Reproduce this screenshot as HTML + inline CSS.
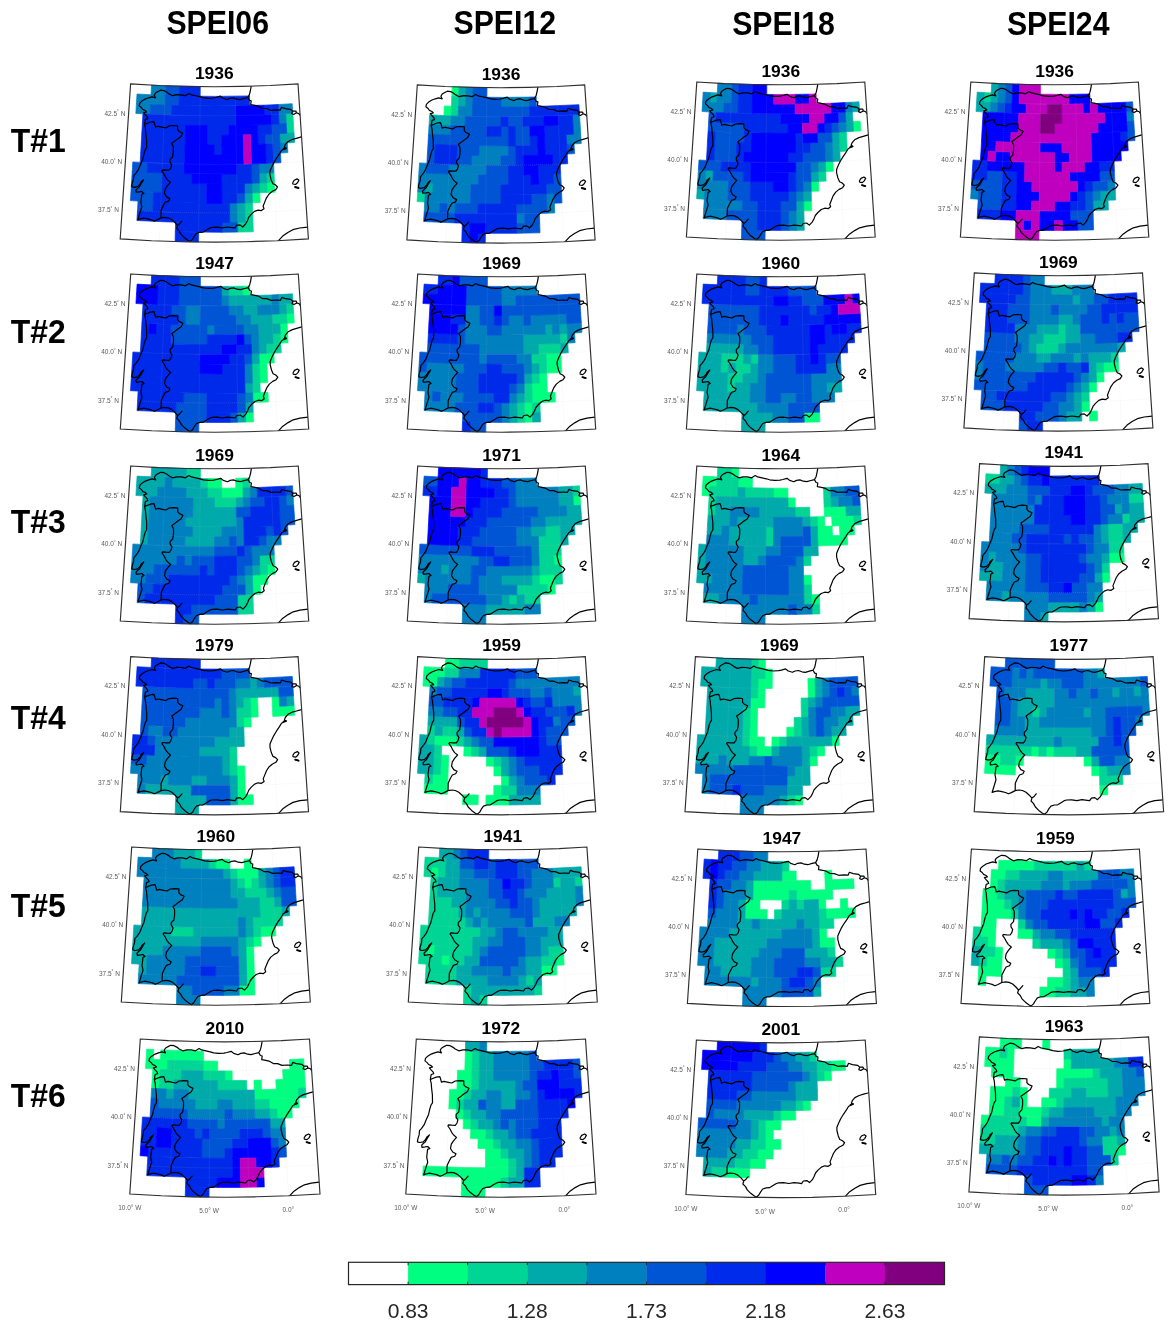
<!DOCTYPE html>
<html><head><meta charset="utf-8"><title>SPEI</title>
<style>html,body{margin:0;padding:0;background:#fff}svg{display:block;will-change:transform}text{font-family:"Liberation Sans",sans-serif}.tk{font-size:6.5px;fill:#333}.ti{font-size:17.4px;font-weight:bold;fill:#000}.hd{font-size:33px;font-weight:bold;fill:#000}.cb{font-size:21px;fill:#262626}</style></head><body>
<svg width="1174" height="1329" viewBox="0 0 1174 1329">
<defs><filter id="bl" x="-5%" y="-5%" width="110%" height="110%"><feGaussianBlur stdDeviation="0.6"/></filter></defs>
<text x="217.7" y="34" class="hd" text-anchor="middle" textLength="102.6" lengthAdjust="spacingAndGlyphs">SPEI06</text>
<text x="504.8" y="34" class="hd" text-anchor="middle" textLength="102.6" lengthAdjust="spacingAndGlyphs">SPEI12</text>
<text x="783.5" y="35" class="hd" text-anchor="middle" textLength="102.6" lengthAdjust="spacingAndGlyphs">SPEI18</text>
<text x="1058.2" y="35" class="hd" text-anchor="middle" textLength="102.6" lengthAdjust="spacingAndGlyphs">SPEI24</text>
<text x="38.3" y="152" class="hd" text-anchor="middle" textLength="55" lengthAdjust="spacingAndGlyphs">T#1</text>
<text x="38.3" y="342.8" class="hd" text-anchor="middle" textLength="55" lengthAdjust="spacingAndGlyphs">T#2</text>
<text x="38.3" y="533.4" class="hd" text-anchor="middle" textLength="55" lengthAdjust="spacingAndGlyphs">T#3</text>
<text x="38.3" y="729" class="hd" text-anchor="middle" textLength="55" lengthAdjust="spacingAndGlyphs">T#4</text>
<text x="38.3" y="916.8" class="hd" text-anchor="middle" textLength="55" lengthAdjust="spacingAndGlyphs">T#5</text>
<text x="38.3" y="1107" class="hd" text-anchor="middle" textLength="55" lengthAdjust="spacingAndGlyphs">T#6</text>
<g><g filter="url(#bl)">
<path fill="#00ff80" stroke="#00ff80" stroke-width=".7" d="M266.9 182.8 274.5 182.5 274.9 192.2 267.3 192.5ZM252.2 193 259.8 192.7 260.1 202.4 252.4 202.7Z"/>
<path fill="#00d595" stroke="#00d595" stroke-width=".7" d="M285.7 113.8 292.8 113.4 293.4 123.1 286.2 123.5ZM286.2 123.5 293.4 123.1 294 132.8 286.8 133.2ZM266.6 173.1 274 172.8 274.5 182.5 266.9 182.8ZM259.4 183 266.9 182.8 267.3 192.5 259.8 192.7ZM244.8 202.9 252.4 202.7 252.7 212.4 245 212.6ZM245 212.6 252.7 212.4 253 222.1 245.3 222.3ZM237.5 222.4 253 222.1 253.3 231.8 237.7 232.1Z"/>
<path fill="#00aaaa" stroke="#00aaaa" stroke-width=".7" d="M279.5 133.6 294 132.8 294.6 142.5 280 143.3ZM259.1 173.3 266.6 173.1 266.9 182.8 259.4 183ZM251.9 183.3 259.4 183 259.8 192.7 252.2 193ZM244.6 193.2 252.2 193 252.4 202.7 244.8 202.9ZM237.2 203 244.8 202.9 245 212.6 237.4 212.7ZM237.4 212.7 245 212.6 245.3 222.3 237.5 222.4Z"/>
<path fill="#0080bf" stroke="#0080bf" stroke-width=".7" d="M151.5 85.1 165.5 85.8 165.1 95.5 151 94.8ZM137 94 165.1 95.5 164.7 105.2 136.4 103.7ZM136.4 103.7 150.5 104.5 150 114.2 135.8 113.4ZM278.1 104.5 292.2 103.7 292.8 113.4 278.6 114.2ZM278.6 114.2 285.7 113.8 286.2 123.5 279 123.9ZM280 143.3 287.3 142.9 287.9 152.6 280.5 153ZM258.8 163.6 273.6 163.1 274 172.8 259.1 173.3ZM244.4 183.5 251.9 183.3 252.2 193 244.6 193.2ZM229.6 203.1 237.2 203 237.4 212.7 229.7 212.8ZM229.7 212.8 237.4 212.7 237.5 222.4 229.8 222.5Z"/>
<path fill="#0055d5" stroke="#0055d5" stroke-width=".7" d="M165.5 85.8 179.4 86.2 179.1 95.9 165.1 95.5ZM165.1 95.5 179.1 95.9 178.9 105.6 164.7 105.2ZM150.5 104.5 171.8 105.4 171.5 115.1 150 114.2ZM271.9 124.3 286.2 123.5 286.8 133.2 272.3 134ZM265 134.3 279.5 133.6 280 143.3 265.4 144ZM272.7 143.7 280 143.3 280.5 153 273.2 153.4ZM273.2 153.4 280.5 153 281 162.7 273.6 163.1ZM132.8 161.9 147.6 162.7 147.1 172.4 132.2 171.6ZM251.4 163.9 258.8 163.6 259.1 173.3 251.6 173.6ZM132.2 171.6 162 173.1 161.7 182.8 131.6 181.3ZM251.6 173.6 259.1 173.3 259.4 183 251.9 183.3ZM131.6 181.3 161.7 182.8 161.3 192.5 131 190.9ZM131 190.9 153.7 192.2 153.3 201.9 130.4 200.6ZM237 193.3 244.6 193.2 244.8 202.9 237.2 203ZM138 201.1 153.3 201.9 152.8 211.6 137.5 210.8ZM222 222.6 237.5 222.4 237.7 232.1 222.1 232.3Z"/>
<path fill="#002bea" stroke="#002bea" stroke-width=".7" d="M179.4 86.2 200.3 86.6 200.2 96.3 179.1 95.9ZM179.1 95.9 214.3 96.4 249.5 95.9 249.7 105.6 214.3 106.1 178.9 105.6ZM171.8 105.4 203.7 106.1 235.6 105.9 235.7 115.7 203.6 115.8 171.5 115.1ZM263.9 105.2 278.1 104.5 278.6 114.2 264.3 114.9ZM142.9 113.8 173.8 115.2 204.8 115.8 235.7 115.7 235.9 125.4 204.7 125.5 173.5 124.9 142.4 123.5ZM271.4 114.6 278.6 114.2 279 123.9 271.9 124.3ZM142.4 123.5 185.5 125.2 185.3 134.9 141.8 133.2ZM207.1 125.5 228.7 125.5 228.8 135.2 207 135.2ZM257.5 124.8 271.9 124.3 272.3 134 257.8 134.5ZM141.8 133.2 185.3 134.9 185.1 144.6 141.3 142.9ZM207 135.2 221.6 135.2 221.6 144.9 207 144.9ZM257.8 134.5 265 134.3 265.4 144 258.1 144.2ZM141.3 142.9 185.1 144.6 184.9 154.3 140.7 152.6ZM214.3 145 221.6 144.9 221.7 154.6 214.3 154.7ZM265.4 144 272.7 143.7 273.2 153.4 265.8 153.7ZM140.7 152.6 184.9 154.3 184.6 164 140.2 162.3ZM265.8 153.7 273.2 153.4 273.6 163.1 266.2 163.4ZM147.6 162.7 184.6 164 184.4 173.8 147.1 172.4ZM236.5 164.2 251.4 163.9 251.6 173.6 236.7 173.9ZM162 173.1 191.9 173.9 191.7 183.6 161.7 182.8ZM221.8 174.1 251.6 173.6 251.9 183.3 221.8 183.8ZM161.7 182.8 206.8 183.8 206.7 193.5 161.3 192.5ZM221.8 183.8 244.4 183.5 244.6 193.2 221.9 193.5ZM153.7 192.2 206.7 193.5 206.7 203.2 153.3 201.9ZM221.9 193.5 237 193.3 237.2 203 221.9 203.2ZM153.3 201.9 191.4 203 229.6 203.1 229.7 212.8 191.2 212.7 152.8 211.6ZM137.5 210.8 168.2 212.2 198.9 212.8 229.7 212.8 229.8 222.5 198.8 222.5 167.9 221.9 136.9 220.5ZM175.6 222.1 222 222.6 222.1 232.3 175.3 231.8ZM175.3 231.8 198.7 232.3 198.6 242 175.1 241.5Z"/>
<path fill="#0000ff" stroke="#0000ff" stroke-width=".7" d="M235.6 105.9 263.9 105.2 264.3 114.9 235.7 115.7ZM235.7 115.7 271.4 114.6 271.9 124.3 235.9 125.4ZM185.5 125.2 207.1 125.5 207 135.2 185.3 134.9ZM228.7 125.5 257.5 124.8 257.8 134.5 228.8 135.2ZM185.3 134.9 207 135.2 207 144.9 185.1 144.6ZM221.6 135.2 243.3 134.9 243.5 144.6 221.6 144.9ZM250.6 134.7 257.8 134.5 258.1 144.2 250.8 144.5ZM185.1 144.6 214.3 145 214.3 154.7 184.9 154.3ZM221.6 144.9 243.5 144.6 243.7 154.3 221.7 154.6ZM250.8 144.5 265.4 144 265.8 153.7 251.1 154.2ZM184.9 154.3 214.3 154.7 243.7 154.3 244 164 214.3 164.4 184.6 164ZM251.1 154.2 265.8 153.7 266.2 163.4 251.4 163.9ZM184.6 164 236.5 164.2 236.7 173.9 184.4 173.8ZM191.9 173.9 221.8 174.1 221.8 183.8 191.7 183.6ZM206.8 183.8 221.8 183.8 221.9 193.5 206.7 193.5ZM206.7 193.5 221.9 193.5 221.9 203.2 206.7 203.2Z"/>
<path fill="#bf00bf" stroke="#bf00bf" stroke-width=".7" d="M243.3 134.9 250.6 134.7 250.8 144.5 243.5 144.6ZM243.5 144.6 250.8 144.5 251.1 154.2 243.7 154.3ZM243.7 154.3 251.1 154.2 251.4 163.9 244 164Z"/>
</g>
<path d="M165.5 85.8 159.4 241M200.3 86.6 198.6 242M235.2 86.5 237.8 241.9M270.1 85.5 277.1 240.7M122.2 209.8 152.8 211.6 183.6 212.6 214.3 212.9 245 212.6 275.8 211.6 306.4 209.8M125.4 161.4 155 163.1 184.6 164 214.3 164.4 244 164 273.6 163.1 303.2 161.4M128.7 113 157.2 114.6 185.7 115.5 214.3 115.8 242.9 115.5 271.4 114.6 299.9 113" fill="none" stroke="#c8c8c8" stroke-opacity=".3" stroke-width=".6" stroke-dasharray="1 1"/>
<path d="M247.8 97.5 244.3 98.4 240.1 99.6 236.7 99.1 233.3 97.8 229.9 98.3 227.3 99.6 223 98.3 220.5 96.2 216.3 97.4 213.5 98 208.2 98.3 203.2 97.7 199.8 96.7 194.6 95.5 191.3 94.8 188.8 93.4 185.3 95.7 181 94.8 176.8 94.7 172.5 95.7 169.1 93.9 166.6 92 164 90.6 160.6 90.2 158.1 91.5 155.5 93.1 154.2 95.2 155.5 97.8 152 96.8 148.6 97.8 145.3 99 141.9 101.1 139.7 103.3 139.2 105.8 141.4 107.5 142.7 109.4 145.2 110.5 146.6 111.9 143.5 112.7 145.3 114.7 147.3 117 147.8 118.6 145.3 119.4 144.9 122.1 144.5 124.6 145.3 128 145.8 133.1 146.6 139.9 146.6 147.7 145.2 149.9 143.9 154.3 142.7 159.3 140.5 164.5 138.4 169.6 135.8 173.3 133.8 175.6 133.4 179.8 132 184 131.7 186.7 134.1 187.4 137.5 186.7 140 184.1 140.9 182 143.6 179.8 140.9 184.1 139.3 187 137.5 188.4 135.9 190.1 136.2 192.2 139.3 191.8 141.8 191.4 143.9 193.4 141.8 194.3 141.4 197.8 140.9 202 141.8 207.1 140.5 211.3 139.2 215.5 137.9 219.8 140.1 218.9 143.9 218.1 147.7 218.9 151.2 219.8 154.1 221.1 157.1 219.9 160.9 217.9 164.8 217.3 168.2 217.8 171.7 219.5 175 222.5 177.5 225.4 179.3 224.1 181.8 221.1 179.3 224.1 177.5 225.4 176.7 228.3 179.3 230.9 181 234.3 184.4 237.7 187.8 240.2 190 241.6 192.5 239.4 194.1 236.5 196.4 233.4 199.8 232.3 203.1 232.1 206.5 230 209.9 227.9 212 227.3 217.1 227.1 222.2 227.9 227.3 227 232.5 227.6 235 227.9 236.6 225.4 240 224.9 242.7 227 245.6 224 247.4 220.7 248.7 217.4 251.2 214.4 254.5 211.4 258 210.1 261.4 210.6 264 208.7 263.1 206.2 264.8 201.9 266.5 197.8 269.1 194 272.4 191.3 275.8 189.6 277.5 187 275.5 184.9 272.9 183.7 271.2 179.9 269.9 174.7 269.9 171.4 271.7 167 273.7 162.9 276.3 158.5 279.2 154.2 281.4 150.6 283.6 149.3 285.7 148.1 284.3 147.4 285.2 144.8 287.8 141.7 292.1 139.5 296.4 138.3 300.5 137.1 301.5 136.6M247.8 97.5 249.5 100.4 251.2 100.9 250.7 104.6 253.7 105.1 258 106 262.2 108.5 266.5 108.5 270.8 110.3 275.9 109.9 280.2 110.2 281.5 107.3 285.3 108.6 290.4 109.3 292.5 111.1 291.7 113.7 293.7 114.5 296.4 112.8 296 111.1 292.5 111.1 296 111.1 296.4 112.8 298.8 113.6 300.1 115.5M247.8 97.5 249.4 94.6 250.3 91 251.2 86.2M144.5 124.6 146.1 123.7 150.4 122 153.8 121.6 154.6 123.8 155.5 127.1 158.1 126.3 162.2 127.2 165.7 127.9 169.1 125.9 173.4 125.5 177.6 125.8 177.6 129.7 179.3 131.5 182.7 133.1 181 136.6 177.6 139 174.2 141.6 171.7 143.3 173.3 146.7 173.3 151.9 172.6 156.9 170 159.6 170 162.1 171.7 164.7 170.9 167.9 169.2 170.2 165.7 170.1 162.3 169.8 161.8 170.9 163.9 173.9 165.8 177.5 167.5 179.9 170.4 182.3 167.4 185.7 165.2 189.1 164.4 193.4 166.6 196.9 169.9 198.6 168.6 201.1 165.2 202.3 163 206.1 161 210.5 160.9 217.9M278.5 240.6 282.7 236.1 287.8 232.5 292.9 229.7 299.7 228 307.6 227.1M292.6 182.9 294.2 180.3 297.2 178.9 298.9 180.2 297.5 182.8 295.5 184.5 292.9 184 292.6 182.9M295.1 187 298.5 188" fill="none" stroke="#000" stroke-width="1.2" stroke-linejoin="round"/>
<path d="M295.1 187 298.5 188M283.5 149 285.9 148.3" fill="none" stroke="#000" stroke-width="1.9" stroke-linecap="round"/>
<path d="M130.6 83.9 158.5 85.5 186.4 86.4 214.3 86.7 242.2 86.4 270.1 85.5 298 83.9 308.4 238.9 277.1 240.7 245.7 241.7 214.3 242.1 182.9 241.7 151.5 240.7 120.2 238.9Z" fill="none" stroke="#2e2e2e" stroke-width="1.15"/>
<g opacity=".82">
<text x="125.4" y="115.6" class="tk" text-anchor="end">42.5<tspan dy="-2.2" font-size="4.5">°</tspan><tspan dy="2.2"> N</tspan></text>
<text x="122.1" y="164" class="tk" text-anchor="end">40.0<tspan dy="-2.2" font-size="4.5">°</tspan><tspan dy="2.2"> N</tspan></text>
<text x="118.9" y="212.4" class="tk" text-anchor="end">37.5<tspan dy="-2.2" font-size="4.5">°</tspan><tspan dy="2.2"> N</tspan></text>
</g>
<text x="214.3" y="78.7" class="ti" text-anchor="middle">1936</text></g>
<g><g filter="url(#bl)">
<path fill="#00ff80" stroke="#00ff80" stroke-width=".7" d="M452.2 86.8 459.1 87 458.8 96.7 451.8 96.5ZM444.3 105.9 451.4 106.2 451 115.9 443.9 115.6Z"/>
<path fill="#00d595" stroke="#00d595" stroke-width=".7" d="M451.8 96.5 458.8 96.7 458.5 106.4 451.4 106.2ZM451.4 106.2 458.5 106.4 458.2 116.1 451 115.9ZM417.7 191.9 425.3 192.4 424.7 202.1 417.1 201.6Z"/>
<path fill="#00aaaa" stroke="#00aaaa" stroke-width=".7" d="M459.1 87 466.1 87.2 465.8 96.9 458.8 96.7ZM458.8 96.7 465.8 96.9 465.6 106.6 458.5 106.4ZM429.6 114.8 451 115.9 450.6 125.6 429.1 124.5ZM425.8 182.7 433.3 183.1 432.8 192.8 425.3 192.4Z"/>
<path fill="#0080bf" stroke="#0080bf" stroke-width=".7" d="M466.1 87.2 473.1 87.4 472.9 97.1 465.8 96.9ZM465.8 96.9 472.9 97.1 472.6 106.8 465.6 106.6ZM501 97.4 529.1 97.1 529.4 106.8 501 107.1ZM458.5 106.4 472.6 106.8 472.4 116.5 458.2 116.1ZM451 115.9 465.3 116.3 465 126 450.6 125.6ZM572.4 114.8 579.5 114.4 580.1 124.1 572.9 124.5ZM429.1 124.5 450.6 125.6 450.3 135.3 428.5 134.2ZM572.9 124.5 580.1 124.1 580.7 133.8 573.5 134.2ZM566.2 134.6 580.7 133.8 581.3 143.5 566.7 144.3ZM479.1 145.8 508.3 145.9 508.4 155.6 478.9 155.5ZM471.6 155.3 501 155.7 501 165.4 471.3 165ZM419.5 162.9 426.9 163.3 426.4 173 418.9 172.6ZM449.1 164.4 486.2 165.3 486.1 175 448.7 174.1ZM418.9 172.6 448.7 174.1 478.6 174.9 478.4 184.6 448.4 183.8 418.3 182.3ZM418.3 182.3 425.8 182.7 425.3 192.4 417.7 191.9ZM433.3 183.1 470.9 184.5 470.7 194.2 432.8 192.8ZM425.3 192.4 470.7 194.2 470.5 203.9 424.7 202.1ZM546.5 193.7 554 193.5 554.4 203.2 546.8 203.4ZM424.7 202.1 440 202.9 439.5 212.6 424.2 211.8ZM447.6 203.2 455.2 203.4 454.9 213.2 447.2 212.9ZM546.8 203.4 554.4 203.2 554.8 212.9 547.1 213.2ZM516.4 213.8 524.1 213.7 524.2 223.4 516.5 223.5Z"/>
<path fill="#0055d5" stroke="#0055d5" stroke-width=".7" d="M473.1 87.4 487 87.6 486.9 97.3 472.9 97.1ZM472.9 97.1 501 97.4 501 107.1 472.6 106.8ZM529.1 97.1 536.2 96.9 536.4 106.6 529.4 106.8ZM472.6 106.8 501 107.1 529.4 106.8 529.6 116.5 501 116.8 472.4 116.5ZM465.3 116.3 501 116.8 501 126.5 465 126ZM508.1 116.8 522.4 116.7 522.6 126.4 508.2 126.5ZM450.6 125.6 486.6 126.5 486.5 136.2 450.3 135.3ZM501 126.5 508.2 126.5 508.3 136.2 501 136.3ZM515.4 126.5 529.8 126.2 530 135.9 515.5 136.2ZM428.5 134.2 468.4 135.8 508.3 136.2 508.3 145.9 468.1 145.5 428 143.9ZM515.5 136.2 530 135.9 530.2 145.6 515.6 145.9ZM428 143.9 435.3 144.3 434.8 154 427.4 153.6ZM457.2 145.2 479.1 145.8 478.9 155.5 456.9 154.9ZM508.3 145.9 515.6 145.9 515.7 155.6 508.4 155.6ZM566.7 144.3 574 143.9 574.6 153.6 567.2 154ZM427.4 153.6 434.8 154 434.3 163.7 426.9 163.3ZM456.9 154.9 471.6 155.3 471.3 165 456.5 164.6ZM501 155.7 515.7 155.6 515.8 165.3 501 165.4ZM426.9 163.3 449.1 164.4 448.7 174.1 426.4 173ZM486.2 165.3 508.4 165.4 508.5 175.1 486.1 175ZM478.6 174.9 508.5 175.1 508.5 184.8 478.4 184.6ZM553.3 174.1 560.7 173.8 561.2 183.5 553.6 183.8ZM470.9 184.5 501 184.8 501 194.5 470.7 194.2ZM546.1 184 561.2 183.5 561.6 193.2 546.5 193.7ZM470.7 194.2 501 194.5 501 204.2 470.5 203.9ZM531.3 194.2 546.5 193.7 546.8 203.4 531.5 203.9ZM554 193.5 561.6 193.2 562 202.9 554.4 203.2ZM440 202.9 447.6 203.2 447.2 212.9 439.5 212.6ZM455.2 203.4 478.1 204 477.9 213.7 454.9 213.2ZM516.3 204.1 546.8 203.4 547.1 213.2 516.4 213.8ZM424.2 211.8 454.9 213.2 454.6 222.9 423.6 221.5ZM524.1 213.7 539.4 213.4 539.7 223.1 524.2 223.4ZM516.5 223.5 539.7 223.1 540 232.8 516.6 233.3Z"/>
<path fill="#002bea" stroke="#002bea" stroke-width=".7" d="M529.4 106.8 578.9 104.7 579.5 114.4 529.6 116.5ZM501 116.8 508.1 116.8 508.2 126.5 501 126.5ZM522.4 116.7 543.8 116.1 544.2 125.8 522.6 126.4ZM558.1 115.6 572.4 114.8 572.9 124.5 558.6 125.3ZM486.6 126.5 501 126.5 501 136.3 486.5 136.2ZM508.2 126.5 515.4 126.5 515.5 136.2 508.3 136.2ZM544.2 125.8 572.9 124.5 573.5 134.2 544.5 135.5ZM508.3 136.2 515.5 136.2 515.6 145.9 508.3 145.9ZM530 135.9 537.3 135.7 537.5 145.5 530.2 145.6ZM544.5 135.5 566.2 134.6 566.7 144.3 544.8 145.2ZM435.3 144.3 457.2 145.2 456.9 154.9 434.8 154ZM515.6 145.9 537.5 145.5 537.8 155.2 515.7 155.6ZM544.8 145.2 566.7 144.3 567.2 154 545.1 154.9ZM434.8 154 456.9 154.9 456.5 164.6 434.3 163.7ZM515.7 155.6 523.1 155.5 523.2 165.2 515.8 165.3ZM552.5 154.7 567.2 154 567.7 163.7 552.9 164.4ZM508.4 165.4 523.2 165.2 523.4 174.9 508.5 175.1ZM538.1 164.9 560.3 164.1 560.7 173.8 538.3 174.6ZM508.5 175.1 530.9 174.8 531.1 184.5 508.5 184.8ZM538.3 174.6 553.3 174.1 553.6 183.8 538.6 184.3ZM501 184.8 546.1 184 546.5 193.7 501 194.5ZM501 194.5 531.3 194.2 531.5 203.9 501 204.2ZM478.1 204 516.3 204.1 516.4 213.8 477.9 213.7ZM454.9 213.2 485.6 213.8 516.4 213.8 516.5 223.5 485.5 223.5 454.6 222.9ZM462.3 223.1 470 223.3 469.8 233 462 232.8ZM485.5 223.5 516.5 223.5 516.6 233.3 485.4 233.3ZM462 232.8 469.8 233 469.6 242.7 461.8 242.5ZM477.6 233.1 485.4 233.3 485.3 243 477.5 242.9Z"/>
<path fill="#0000ff" stroke="#0000ff" stroke-width=".7" d="M543.8 116.1 558.1 115.6 558.6 125.3 544.2 125.8ZM529.8 126.2 544.2 125.8 544.5 135.5 530 135.9ZM537.3 135.7 544.5 135.5 544.8 145.2 537.5 145.5ZM537.5 145.5 544.8 145.2 545.1 154.9 537.8 155.2ZM523.1 155.5 552.5 154.7 552.9 164.4 523.2 165.2ZM523.2 165.2 538.1 164.9 538.3 174.6 523.4 174.9ZM530.9 174.8 538.3 174.6 538.6 184.3 531.1 184.5ZM470 223.3 485.5 223.5 485.4 233.3 469.8 233ZM469.8 233 477.6 233.1 477.5 242.9 469.6 242.7Z"/>
</g>
<path d="M452.2 86.8 446.1 242M487 87.6 485.3 243M521.9 87.5 524.5 242.9M556.8 86.5 563.8 241.7M408.9 210.8 439.5 212.6 470.3 213.6 501 213.9 531.7 213.6 562.5 212.6 593.1 210.8M412.1 162.4 441.7 164.1 471.3 165 501 165.4 530.7 165 560.3 164.1 589.9 162.4M415.4 114 443.9 115.6 472.4 116.5 501 116.8 529.6 116.5 558.1 115.6 586.6 114" fill="none" stroke="#c8c8c8" stroke-opacity=".3" stroke-width=".6" stroke-dasharray="1 1"/>
<path d="M534.5 98.5 531 99.4 526.8 100.6 523.4 100.1 520 98.8 516.6 99.3 514 100.6 509.7 99.3 507.2 97.2 503 98.4 500.2 99 494.9 99.3 489.9 98.7 486.5 97.7 481.3 96.5 478 95.8 475.5 94.4 472 96.7 467.7 95.8 463.5 95.7 459.2 96.7 455.8 94.9 453.3 93 450.7 91.6 447.3 91.2 444.8 92.5 442.2 94.1 440.9 96.2 442.2 98.8 438.7 97.8 435.3 98.8 432 100 428.6 102.1 426.4 104.3 425.9 106.8 428.1 108.5 429.4 110.4 431.9 111.5 433.3 112.9 430.2 113.7 432 115.7 434 118 434.5 119.6 432 120.4 431.6 123.1 431.2 125.6 432 129 432.5 134.1 433.3 140.9 433.3 148.7 431.9 150.9 430.6 155.3 429.4 160.3 427.2 165.5 425.1 170.6 422.5 174.3 420.5 176.6 420.1 180.8 418.7 185 418.4 187.7 420.8 188.4 424.2 187.7 426.7 185.1 427.6 183 430.3 180.8 427.6 185.1 426 188 424.2 189.4 422.6 191.1 422.9 193.2 426 192.8 428.5 192.4 430.6 194.4 428.5 195.3 428.1 198.8 427.6 203 428.5 208.1 427.2 212.3 425.9 216.5 424.6 220.8 426.8 219.9 430.6 219.1 434.4 219.9 437.9 220.8 440.8 222.1 443.8 220.9 447.6 218.9 451.5 218.3 454.9 218.8 458.4 220.5 461.7 223.5 464.2 226.4 466 225.1 468.5 222.1 466 225.1 464.2 226.4 463.4 229.3 466 231.9 467.7 235.3 471.1 238.7 474.5 241.2 476.7 242.6 479.2 240.4 480.8 237.5 483.1 234.4 486.5 233.3 489.8 233.1 493.2 231 496.6 228.9 498.7 228.3 503.8 228.1 508.9 228.9 514 228 519.2 228.6 521.7 228.9 523.3 226.4 526.7 225.9 529.4 228 532.3 225 534.1 221.7 535.4 218.4 537.9 215.4 541.2 212.4 544.7 211.1 548.1 211.6 550.7 209.7 549.8 207.2 551.5 202.9 553.2 198.8 555.8 195 559.1 192.3 562.5 190.6 564.2 188 562.2 185.9 559.6 184.7 557.9 180.9 556.6 175.7 556.6 172.4 558.4 168 560.4 163.9 563 159.5 565.9 155.2 568.1 151.6 570.3 150.3 572.4 149.1 571 148.4 571.9 145.8 574.5 142.7 578.8 140.5 583.1 139.3 587.2 138.1 588.2 137.6M534.5 98.5 536.2 101.4 537.9 101.9 537.4 105.6 540.4 106.1 544.7 107 548.9 109.5 553.2 109.5 557.5 111.3 562.6 110.9 566.9 111.2 568.2 108.3 572 109.6 577.1 110.3 579.2 112.1 578.4 114.7 580.4 115.5 583.1 113.8 582.7 112.1 579.2 112.1 582.7 112.1 583.1 113.8 585.5 114.6 586.8 116.5M534.5 98.5 536.1 95.6 537 92 537.9 87.2M431.2 125.6 432.8 124.7 437.1 123 440.5 122.6 441.3 124.8 442.2 128.1 444.8 127.3 448.9 128.2 452.4 128.9 455.8 126.9 460.1 126.5 464.3 126.8 464.3 130.7 466 132.5 469.4 134.1 467.7 137.6 464.3 140 460.9 142.6 458.4 144.3 460 147.7 460 152.9 459.3 157.9 456.7 160.6 456.7 163.1 458.4 165.7 457.6 168.9 455.9 171.2 452.4 171.1 449 170.8 448.5 171.9 450.6 174.9 452.5 178.5 454.2 180.9 457.1 183.3 454.1 186.7 451.9 190.1 451.1 194.4 453.3 197.9 456.6 199.6 455.3 202.1 451.9 203.3 449.7 207.1 447.7 211.5 447.6 218.9M565.2 241.6 569.4 237.1 574.5 233.5 579.6 230.7 586.4 229 594.3 228.1M579.3 183.9 580.9 181.3 583.9 179.9 585.6 181.2 584.2 183.8 582.2 185.5 579.6 185 579.3 183.9M581.8 188 585.2 189" fill="none" stroke="#000" stroke-width="1.2" stroke-linejoin="round"/>
<path d="M581.8 188 585.2 189M570.2 150 572.6 149.3" fill="none" stroke="#000" stroke-width="1.9" stroke-linecap="round"/>
<path d="M417.3 84.9 445.2 86.5 473.1 87.4 501 87.7 528.9 87.4 556.8 86.5 584.7 84.9 595.1 239.9 563.8 241.7 532.4 242.7 501 243.1 469.6 242.7 438.2 241.7 406.9 239.9Z" fill="none" stroke="#2e2e2e" stroke-width="1.15"/>
<g opacity=".82">
<text x="412.1" y="116.6" class="tk" text-anchor="end">42.5<tspan dy="-2.2" font-size="4.5">°</tspan><tspan dy="2.2"> N</tspan></text>
<text x="408.8" y="165" class="tk" text-anchor="end">40.0<tspan dy="-2.2" font-size="4.5">°</tspan><tspan dy="2.2"> N</tspan></text>
<text x="405.6" y="213.4" class="tk" text-anchor="end">37.5<tspan dy="-2.2" font-size="4.5">°</tspan><tspan dy="2.2"> N</tspan></text>
</g>
<text x="501" y="79.7" class="ti" text-anchor="middle">1936</text></g>
<g><g filter="url(#bl)">
<path fill="#00ff80" stroke="#00ff80" stroke-width=".7" d="M853 121.6 860.2 121.2 860.8 130.9 853.5 131.3ZM825.4 161.7 832.9 161.5 833.3 171.2 825.8 171.4ZM811 181.6 818.5 181.4 818.8 191.1 811.2 191.3ZM803.8 201.1 811.4 201 811.6 210.7 803.9 210.8Z"/>
<path fill="#00d595" stroke="#00d595" stroke-width=".7" d="M839 132.1 846.3 131.7 846.8 141.4 839.4 141.8ZM839.4 141.8 846.8 141.4 847.2 151.1 839.9 151.5ZM818.3 171.7 825.8 171.4 826.1 181.1 818.5 181.4Z"/>
<path fill="#00aaaa" stroke="#00aaaa" stroke-width=".7" d="M710.2 92.6 717.3 92.9 716.8 102.6 709.7 102.2ZM851.9 102.2 859 101.8 859.6 111.5 852.4 111.9ZM845.3 112.3 852.4 111.9 853 121.6 845.8 122ZM845.8 122 853 121.6 853.5 131.3 846.3 131.7ZM831.7 132.4 839 132.1 839.4 141.8 832.1 142.1ZM832.1 142.1 839.4 141.8 839.9 151.5 832.5 151.8ZM832.5 151.8 839.9 151.5 840.3 161.2 832.9 161.5ZM818 162 825.4 161.7 825.8 171.4 818.3 171.7ZM705.9 170.1 713.4 170.5 712.9 180.2 705.3 179.8ZM810.8 171.9 818.3 171.7 818.5 181.4 811 181.6ZM697.2 189 704.8 189.5 704.3 199.2 696.6 198.7ZM803.6 191.4 811.2 191.3 811.4 201 803.8 201.1ZM796.1 201.2 803.8 201.1 803.9 210.8 796.2 210.9ZM796.2 210.9 803.9 210.8 804.1 220.5 796.3 220.6ZM796.3 220.6 804.1 220.5 804.3 230.2 796.4 230.4Z"/>
<path fill="#0080bf" stroke="#0080bf" stroke-width=".7" d="M717.8 83.2 731.8 83.9 731.4 93.6 717.3 92.9ZM703.2 92.1 710.2 92.6 709.7 102.2 702.6 101.8ZM717.3 92.9 731.4 93.6 731 103.3 716.8 102.6ZM702.6 101.8 723.9 103 723.5 112.7 702 111.5ZM844.8 102.6 851.9 102.2 852.4 111.9 845.3 112.3ZM838.6 122.4 845.8 122 846.3 131.7 839 132.1ZM824.8 142.3 832.1 142.1 832.5 151.8 825.1 152ZM825.1 152 832.5 151.8 832.9 161.5 825.4 161.7ZM810.6 162.1 818 162 818.3 171.7 810.8 171.9ZM698.4 169.7 705.9 170.1 705.3 179.8 697.8 179.4ZM697.8 179.4 728 180.9 727.6 190.6 697.2 189ZM803.4 181.7 811 181.6 811.2 191.3 803.6 191.4ZM704.8 189.5 727.6 190.6 727.2 200.3 704.3 199.2ZM796 191.5 803.6 191.4 803.8 201.1 796.1 201.2ZM704.3 199.2 742.5 200.8 742.2 210.5 703.7 208.9ZM703.7 208.9 726.8 210 726.4 219.7 703.2 218.6ZM788.5 211 796.2 210.9 796.3 220.6 788.6 220.7ZM788.6 220.7 796.3 220.6 796.4 230.4 788.6 230.4Z"/>
<path fill="#0055d5" stroke="#0055d5" stroke-width=".7" d="M731.8 83.9 738.8 84.1 738.5 93.8 731.4 93.6ZM731.4 93.6 738.5 93.8 738.1 103.5 731 103.3ZM723.9 103 738.1 103.5 737.8 113.2 723.5 112.7ZM709.2 111.9 716.3 112.3 715.8 122 708.6 121.6ZM838.1 112.7 845.3 112.3 845.8 122 838.6 122.4ZM708.6 121.6 744.7 123.1 744.4 132.8 708.1 131.3ZM831.3 122.7 838.6 122.4 839 132.1 831.7 132.4ZM715.3 131.7 744.4 132.8 744.1 142.6 714.8 141.4ZM817.2 132.8 831.7 132.4 832.1 142.1 817.5 142.6ZM714.8 141.4 736.8 142.3 736.5 152 714.4 151.1ZM810.1 142.7 824.8 142.3 825.1 152 810.3 152.4ZM714.4 151.1 736.5 152 736.2 161.7 713.9 160.8ZM803 152.6 825.1 152 825.4 161.7 803.1 162.3ZM699 160 721.3 161.2 720.9 170.9 698.4 169.7ZM795.7 162.4 810.6 162.1 810.8 171.9 795.8 172.1ZM713.4 170.5 743.3 171.7 743.1 181.4 712.9 180.2ZM795.8 172.1 810.8 171.9 811 181.6 795.9 181.8ZM728 180.9 750.6 181.6 750.4 191.3 727.6 190.6ZM795.9 181.8 803.4 181.7 803.6 191.4 796 191.5ZM727.6 190.6 750.4 191.3 750.2 201 727.2 200.3ZM788.4 191.6 796 191.5 796.1 201.2 788.5 201.3ZM742.5 200.8 757.8 201.1 757.7 210.8 742.2 210.5ZM780.8 201.3 796.1 201.2 796.2 210.9 780.8 211ZM726.8 210 757.7 210.8 757.5 220.5 726.4 219.7ZM780.8 211 788.5 211 788.6 220.7 780.8 220.7ZM742 220.2 757.5 220.5 757.3 230.2 741.7 229.9ZM780.8 220.7 788.6 220.7 788.6 230.4 780.8 230.4ZM741.7 229.9 765.2 230.4 765 240.1 741.4 239.6Z"/>
<path fill="#002bea" stroke="#002bea" stroke-width=".7" d="M738.8 84.1 752.8 84.5 752.6 94.2 738.5 93.8ZM738.5 93.8 752.6 94.2 752.3 103.9 738.1 103.5ZM738.1 103.5 752.3 103.9 752.1 113.6 737.8 113.2ZM716.3 112.3 748.5 113.5 780.8 113.9 780.8 123.6 748.3 123.2 715.8 122ZM744.7 123.1 788 123.6 788.1 133.3 744.4 132.8ZM824.1 122.9 831.3 122.7 831.7 132.4 824.5 132.6ZM708.1 131.3 715.3 131.7 714.8 141.4 707.5 141ZM744.4 132.8 751.7 133 751.5 142.7 744.1 142.6ZM795.4 133.3 802.6 133.2 802.8 142.9 795.5 143ZM707.5 141 714.8 141.4 714.4 151.1 707 150.7ZM736.8 142.3 751.5 142.7 751.3 152.4 736.5 152ZM795.5 143 810.1 142.7 810.3 152.4 795.6 152.7ZM707 150.7 714.4 151.1 713.9 160.8 706.4 160.4ZM736.5 152 743.9 152.3 743.6 162 736.2 161.7ZM788.2 152.7 803 152.6 803.1 162.3 788.2 162.5ZM721.3 161.2 751 162.1 750.8 171.9 720.9 170.9ZM743.3 171.7 750.8 171.9 750.6 181.6 743.1 181.4ZM788.3 172.2 795.8 172.1 795.9 181.8 788.3 181.9ZM750.6 181.6 773.3 181.9 773.2 191.6 750.4 191.3ZM788.3 181.9 795.9 181.8 796 191.5 788.4 191.6ZM750.4 191.3 788.4 191.6 788.5 201.3 750.2 201ZM757.8 201.1 780.8 201.3 780.8 211 757.7 210.8ZM757.7 210.8 780.8 211 780.8 220.7 757.5 220.5ZM757.5 220.5 780.8 220.7 780.8 230.4 757.3 230.2Z"/>
<path fill="#0000ff" stroke="#0000ff" stroke-width=".7" d="M752.8 84.5 766.8 84.7 766.7 94.4 752.6 94.2ZM752.6 94.2 773.7 94.5 773.7 104.2 752.3 103.9ZM794.9 94.4 809 94.2 809.3 103.9 795 104.1ZM752.3 103.9 795 104.1 795.1 113.9 752.1 113.6ZM830.6 103.3 844.8 102.6 845.3 112.3 831 113ZM780.8 113.9 809.5 113.6 809.7 123.3 780.8 123.6ZM823.8 113.2 838.1 112.7 838.6 122.4 824.1 122.9ZM788 123.6 802.5 123.5 802.6 133.2 788.1 133.3ZM816.9 123.1 824.1 122.9 824.5 132.6 817.2 132.8ZM751.7 133 795.4 133.3 795.5 143 751.5 142.7ZM802.6 133.2 817.2 132.8 817.5 142.6 802.8 142.9ZM751.5 142.7 795.5 143 795.6 152.7 751.3 152.4ZM743.9 152.3 788.2 152.7 788.2 162.5 743.6 162ZM751 162.1 795.7 162.4 795.8 172.1 750.8 171.9ZM750.8 171.9 788.3 172.2 788.3 181.9 750.6 181.6ZM773.3 181.9 788.3 181.9 788.4 191.6 773.2 191.6Z"/>
<path fill="#bf00bf" stroke="#bf00bf" stroke-width=".7" d="M773.7 94.5 794.9 94.4 795 104.1 773.7 104.2ZM809 94.2 816.1 94 816.4 103.7 809.3 103.9ZM795 104.1 830.6 103.3 831 113 795.1 113.9ZM809.5 113.6 823.8 113.2 824.1 122.9 809.7 123.3ZM802.5 123.5 816.9 123.1 817.2 132.8 802.6 133.2Z"/>
</g>
<path d="M731.8 83.9 725.7 239.1M766.8 84.7 765 240.1M801.8 84.6 804.4 240M836.8 83.6 843.8 238.8M688.3 207.9 719.1 209.7 750 210.7 780.8 211 811.6 210.7 842.5 209.7 873.3 207.9M691.6 159.5 721.3 161.2 751 162.1 780.8 162.5 810.6 162.1 840.3 161.2 870 159.5M694.8 111.1 723.5 112.7 752.1 113.6 780.8 113.9 809.5 113.6 838.1 112.7 866.8 111.1" fill="none" stroke="#c8c8c8" stroke-opacity=".3" stroke-width=".6" stroke-dasharray="1 1"/>
<path d="M814.4 95.6 810.9 96.5 806.7 97.7 803.3 97.2 799.9 95.9 796.5 96.4 793.8 97.7 789.6 96.4 787 94.3 782.8 95.5 780 96.1 774.7 96.4 769.6 95.8 766.3 94.8 761 93.6 757.7 92.9 755.2 91.5 751.7 93.8 747.4 92.9 743.1 92.8 738.9 93.8 735.4 92 732.9 90.1 730.3 88.7 727 88.3 724.4 89.6 721.8 91.2 720.5 93.3 721.8 95.9 718.3 94.9 714.9 95.9 711.5 97.1 708.2 99.2 705.9 101.4 705.5 103.9 707.6 105.6 709 107.5 711.5 108.6 712.8 110 709.8 110.8 711.5 112.8 713.6 115.1 714.1 116.7 711.6 117.5 711.1 120.2 710.7 122.7 711.6 126.1 712 131.2 712.8 138 712.9 145.8 711.4 148 710.1 152.4 709 157.4 706.8 162.6 704.7 167.7 702.1 171.4 700 173.7 699.6 177.9 698.2 182.1 697.9 184.8 700.3 185.5 703.7 184.8 706.3 182.2 707.1 180.1 709.8 177.9 707.2 182.2 705.5 185.1 703.8 186.5 702.1 188.2 702.5 190.3 705.5 189.9 708 189.5 710.2 191.5 708 192.4 707.7 195.9 707.1 200.1 708.1 205.2 706.8 209.4 705.5 213.6 704.1 217.9 706.4 217 710.1 216.2 714 217 717.5 217.9 720.4 219.2 723.4 218 727.2 216 731.1 215.4 734.5 215.9 738 217.6 741.3 220.6 743.9 223.5 745.6 222.2 748.2 219.2 745.6 222.2 743.9 223.5 743 226.4 745.6 229 747.4 232.4 750.8 235.8 754.2 238.3 756.4 239.7 758.9 237.5 760.6 234.6 762.8 231.5 766.3 230.4 769.5 230.2 773 228.1 776.4 226 778.5 225.4 783.6 225.2 788.8 226 793.9 225.1 799 225.7 801.5 226 803.2 223.5 806.6 223 809.3 225.1 812.2 222.1 814 218.8 815.3 215.5 817.9 212.5 821.2 209.5 824.7 208.2 828.1 208.7 830.6 206.8 829.8 204.3 831.5 200 833.1 195.9 835.7 192.1 839.1 189.4 842.6 187.7 844.3 185.1 842.2 183 839.6 181.8 837.9 178 836.6 172.8 836.6 169.5 838.4 165.1 840.4 161 843.1 156.6 846 152.3 848.2 148.7 850.3 147.4 852.5 146.2 851.1 145.5 852 142.9 854.6 139.8 858.9 137.6 863.2 136.4 867.4 135.2 868.3 134.7M814.4 95.6 816.1 98.5 817.8 99 817.3 102.7 820.3 103.2 824.6 104.1 828.9 106.6 833.1 106.6 837.5 108.4 842.6 108 846.9 108.3 848.2 105.4 852 106.7 857.2 107.4 859.3 109.2 858.5 111.8 860.5 112.6 863.2 110.9 862.8 109.2 859.3 109.2 862.8 109.2 863.2 110.9 865.7 111.7 866.9 113.6M814.4 95.6 816.1 92.7 816.9 89.1 817.8 84.3M710.7 122.7 712.4 121.8 716.6 120.1 720.1 119.7 720.9 121.9 721.7 125.2 724.4 124.4 728.6 125.3 732 126 735.4 124 739.8 123.6 743.9 123.9 744 127.8 745.7 129.6 749.1 131.2 747.4 134.7 744 137.1 740.6 139.7 738 141.4 739.7 144.8 739.7 150 738.9 155 736.3 157.7 736.4 160.2 738.1 162.8 737.2 166 735.5 168.3 732.1 168.2 728.6 167.9 728.1 169 730.3 172 732.1 175.6 733.8 178 736.7 180.4 733.8 183.8 731.5 187.2 730.8 191.5 732.9 195 736.2 196.7 734.9 199.2 731.5 200.4 729.4 204.2 727.3 208.6 727.2 216M845.2 238.7 849.4 234.2 854.6 230.6 859.7 227.8 866.5 226.1 874.4 225.2M859.3 181 861 178.4 863.9 177 865.7 178.3 864.3 180.9 862.3 182.6 859.7 182.1 859.3 181M861.9 185.1 865.3 186.1" fill="none" stroke="#000" stroke-width="1.2" stroke-linejoin="round"/>
<path d="M861.9 185.1 865.3 186.1M850.3 147.1 852.6 146.4" fill="none" stroke="#000" stroke-width="1.9" stroke-linecap="round"/>
<path d="M696.8 82 724.8 83.6 752.8 84.5 780.8 84.8 808.8 84.5 836.8 83.6 864.8 82 875.2 237 843.8 238.8 812.3 239.8 780.8 240.2 749.3 239.8 717.8 238.8 686.4 237Z" fill="none" stroke="#2e2e2e" stroke-width="1.15"/>
<g opacity=".82">
<text x="691.5" y="113.7" class="tk" text-anchor="end">42.5<tspan dy="-2.2" font-size="4.5">°</tspan><tspan dy="2.2"> N</tspan></text>
<text x="688.3" y="162.1" class="tk" text-anchor="end">40.0<tspan dy="-2.2" font-size="4.5">°</tspan><tspan dy="2.2"> N</tspan></text>
<text x="685" y="210.5" class="tk" text-anchor="end">37.5<tspan dy="-2.2" font-size="4.5">°</tspan><tspan dy="2.2"> N</tspan></text>
</g>
<text x="780.8" y="76.8" class="ti" text-anchor="middle">1936</text></g>
<g><g filter="url(#bl)">
<path fill="#00d595" stroke="#00d595" stroke-width=".7" d="M984.2 92.6 991.2 92.9 990.8 102.6 983.7 102.2Z"/>
<path fill="#00aaaa" stroke="#00aaaa" stroke-width=".7" d="M991.7 83.2 998.7 83.6 998.3 93.3 991.2 92.9ZM977.2 92.1 984.2 92.6 983.7 102.2 976.6 101.8ZM991.2 92.9 998.3 93.3 997.8 103 990.8 102.6ZM976.6 101.8 990.8 102.6 990.3 112.3 976 111.5ZM1100.1 190.8 1115.3 190.3 1115.7 200 1100.4 200.5ZM1092.8 200.8 1108.1 200.3 1108.4 210 1093.1 210.5Z"/>
<path fill="#0080bf" stroke="#0080bf" stroke-width=".7" d="M998.7 83.6 1005.7 83.9 1005.3 93.6 998.3 93.3ZM998.3 93.3 1005.3 93.6 1004.9 103.3 997.8 103ZM990.8 102.6 997.8 103 997.4 112.7 990.3 112.3ZM1126.1 111.9 1133.2 111.5 1133.8 121.2 1126.6 121.6ZM1107.3 180.9 1114.8 180.6 1115.3 190.3 1107.7 190.6ZM971.2 189 978.8 189.5 978.2 199.2 970.6 198.7ZM1092.5 191.1 1100.1 190.8 1100.4 200.5 1092.8 200.8Z"/>
<path fill="#0055d5" stroke="#0055d5" stroke-width=".7" d="M1005.7 83.9 1012.7 84.1 1012.4 93.8 1005.3 93.6ZM1005.3 93.6 1012.4 93.8 1012 103.5 1004.9 103.3ZM997.8 103 1004.9 103.3 1004.6 113 997.4 112.7ZM1125.5 102.2 1132.6 101.8 1133.2 111.5 1126.1 111.9ZM1126.6 121.6 1133.8 121.2 1134.4 130.9 1127.2 131.3ZM1127.2 131.3 1134.4 130.9 1135 140.6 1127.7 141ZM987.3 170.5 1002.3 171.2 1001.9 180.9 986.8 180.2ZM1099.5 171.4 1114.4 170.9 1114.8 180.6 1099.8 181.1ZM971.8 179.4 1001.9 180.9 1001.5 190.6 971.2 189ZM1092.3 181.4 1107.3 180.9 1107.7 190.6 1092.5 191.1ZM978.8 189.5 1001.5 190.6 1001.1 200.3 978.2 199.2ZM1084.9 191.3 1092.5 191.1 1092.8 200.8 1085.2 201ZM978.2 199.2 1001.1 200.3 1000.8 210 977.7 208.9ZM1085.2 201 1092.8 200.8 1093.1 210.5 1085.4 210.7ZM1070 210.9 1093.1 210.5 1093.3 220.2 1070.1 220.6ZM1077.8 220.5 1093.3 220.2 1093.6 229.9 1078 230.2Z"/>
<path fill="#002bea" stroke="#002bea" stroke-width=".7" d="M1004.9 103.3 1012 103.5 1011.7 113.2 1004.6 113ZM1119.9 131.7 1127.2 131.3 1127.7 141 1120.4 141.4ZM973 160 987.8 160.8 987.3 170.5 972.4 169.7ZM1099.1 161.7 1114 161.2 1114.4 170.9 1099.5 171.4ZM972.4 169.7 987.3 170.5 986.8 180.2 971.8 179.4ZM1002.3 171.2 1017.2 171.7 1016.9 181.4 1001.9 180.9ZM1001.9 180.9 1016.9 181.4 1016.7 191.1 1001.5 190.6ZM1084.7 181.6 1092.3 181.4 1092.5 191.1 1084.9 191.3ZM1001.5 190.6 1016.7 191.1 1016.4 200.8 1001.1 200.3ZM1077.4 191.4 1084.9 191.3 1085.2 201 1077.5 201.1ZM1001.1 200.3 1016.4 200.8 1016.1 210.5 1000.8 210ZM1069.9 201.2 1085.2 201 1085.4 210.7 1070 210.9ZM977.7 208.9 1000.8 210 1000.4 219.7 977.2 218.6Z"/>
<path fill="#0000ff" stroke="#0000ff" stroke-width=".7" d="M1012.7 84.1 1019.7 84.3 1019.4 94 1012.4 93.8ZM1012.4 93.8 1019.4 94 1019.1 103.7 1012 103.5ZM1068.7 94.4 1089.8 94 1090.1 103.7 1068.8 104.1ZM1012 103.5 1026.2 103.9 1026 113.6 1011.7 113.2ZM1083 103.9 1090.1 103.7 1090.4 113.4 1083.2 113.6ZM1097.2 103.5 1125.5 102.2 1126.1 111.9 1097.5 113.2ZM983.1 111.9 1018.8 113.4 1018.6 123.1 982.6 121.6ZM1104.6 113 1126.1 111.9 1126.6 121.6 1105 122.7ZM982.6 121.6 1018.6 123.1 1018.3 132.8 982 131.3ZM1097.8 122.9 1126.6 121.6 1127.2 131.3 1098.2 132.6ZM982 131.3 1011 132.6 1010.7 142.3 981.5 141ZM1090.9 132.8 1119.9 131.7 1120.4 141.4 1091.2 142.6ZM981.5 141 996.1 141.8 995.7 151.5 981 150.7ZM1040 143 1061.9 143 1062 152.7 1039.9 152.7ZM1091.2 142.6 1127.7 141 1128.2 150.7 1091.4 152.3ZM981 150.7 988.3 151.1 987.8 160.8 980.4 160.4ZM995.7 151.5 1010.4 152 1010.1 161.7 995.2 161.2ZM1054.6 152.8 1069.3 152.7 1069.4 162.4 1054.6 162.5ZM1091.4 152.3 1120.9 151.1 1121.4 160.8 1091.7 162ZM987.8 160.8 1024.9 162.1 1024.7 171.9 987.3 170.5ZM1054.6 162.5 1062 162.5 1062.1 172.2 1054.6 172.2ZM1084.3 162.1 1099.1 161.7 1099.5 171.4 1084.5 171.9ZM1017.2 171.7 1024.7 171.9 1024.5 181.6 1016.9 181.4ZM1069.6 172.1 1099.5 171.4 1099.8 181.1 1069.7 181.8ZM1016.9 181.4 1032 181.7 1031.8 191.4 1016.7 191.1ZM1077.2 181.7 1084.7 181.6 1084.9 191.3 1077.4 191.4ZM1016.7 191.1 1039.4 191.5 1039.3 201.2 1016.4 200.8ZM1069.8 191.5 1077.4 191.4 1077.5 201.1 1069.9 201.2ZM1016.4 200.8 1031.7 201.1 1031.5 210.8 1016.1 210.5ZM1054.6 201.3 1069.9 201.2 1070 210.9 1054.6 211ZM1000.8 210 1016.1 210.5 1015.9 220.2 1000.4 219.7ZM1039.2 210.9 1070 210.9 1070.1 220.6 1039.1 220.6ZM1023.6 220.4 1031.4 220.5 1031.2 230.2 1023.4 230.1ZM1039.1 220.6 1054.6 220.7 1054.6 230.4 1039 230.4ZM1062.3 220.7 1077.8 220.5 1078 230.2 1062.4 230.4Z"/>
<path fill="#bf00bf" stroke="#bf00bf" stroke-width=".7" d="M1019.7 84.3 1040.6 84.7 1040.5 94.4 1019.4 94ZM1019.4 94 1068.7 94.4 1068.8 104.1 1019.1 103.7ZM1026.2 103.9 1047.5 104.2 1047.4 113.9 1026 113.6ZM1061.7 104.2 1083 103.9 1083.2 113.6 1061.8 113.9ZM1090.1 103.7 1097.2 103.5 1097.5 113.2 1090.4 113.4ZM1018.8 113.4 1040.3 113.9 1040.2 123.6 1018.6 123.1ZM1061.8 113.9 1104.6 113 1105 122.7 1061.8 123.6ZM1018.6 123.1 1040.2 123.6 1040.1 133.3 1018.3 132.8ZM1054.6 123.6 1097.8 122.9 1098.2 132.6 1054.6 133.4ZM1011 132.6 1051 133.3 1090.9 132.8 1091.2 142.6 1050.9 143.1 1010.7 142.3ZM996.1 141.8 1040 143 1039.9 152.7 995.7 151.5ZM1061.9 143 1091.2 142.6 1091.4 152.3 1062 152.7ZM988.3 151.1 995.7 151.5 995.2 161.2 987.8 160.8ZM1010.4 152 1054.6 152.8 1054.6 162.5 1010.1 161.7ZM1069.3 152.7 1091.4 152.3 1091.7 162 1069.4 162.4ZM1024.9 162.1 1054.6 162.5 1054.6 172.2 1024.7 171.9ZM1062 162.5 1084.3 162.1 1084.5 171.9 1062.1 172.2ZM1024.7 171.9 1069.6 172.1 1069.7 181.8 1024.5 181.6ZM1032 181.7 1077.2 181.7 1077.4 191.4 1031.8 191.4ZM1039.4 191.5 1069.8 191.5 1069.9 201.2 1039.3 201.2ZM1031.7 201.1 1054.6 201.3 1054.6 211 1031.5 210.8ZM1016.1 210.5 1039.2 210.9 1039.1 220.6 1015.9 220.2ZM1015.9 220.2 1023.6 220.4 1023.4 230.1 1015.6 229.9ZM1031.4 220.5 1039.1 220.6 1039 230.4 1031.2 230.2ZM1054.6 220.7 1062.3 220.7 1062.4 230.4 1054.6 230.4ZM1015.6 229.9 1039 230.4 1038.9 240.1 1015.3 239.6Z"/>
<path fill="#800080" stroke="#800080" stroke-width=".7" d="M1047.5 104.2 1061.7 104.2 1061.8 113.9 1047.4 113.9ZM1040.3 113.9 1061.8 113.9 1061.8 123.6 1040.2 123.6ZM1040.2 123.6 1054.6 123.6 1054.6 133.4 1040.1 133.3Z"/>
</g>
<path d="M1005.7 83.9 999.6 239.1M1040.6 84.7 1038.9 240.1M1075.6 84.6 1078.2 240M1110.5 83.6 1117.4 238.8M962.3 207.9 993.1 209.7 1023.8 210.7 1054.6 211 1085.4 210.7 1116.1 209.7 1146.9 207.9M965.6 159.5 995.2 161.2 1024.9 162.1 1054.6 162.5 1084.3 162.1 1114 161.2 1143.6 159.5M968.8 111.1 997.4 112.7 1026 113.6 1054.6 113.9 1083.2 113.6 1111.8 112.7 1140.4 111.1" fill="none" stroke="#c8c8c8" stroke-opacity=".3" stroke-width=".6" stroke-dasharray="1 1"/>
<path d="M1088.2 95.6 1084.7 96.5 1080.4 97.7 1077 97.2 1073.6 95.9 1070.3 96.4 1067.6 97.7 1063.3 96.4 1060.8 94.3 1056.6 95.5 1053.8 96.1 1048.5 96.4 1043.5 95.8 1040.1 94.8 1034.9 93.6 1031.5 92.9 1029 91.5 1025.6 93.8 1021.3 92.9 1017 92.8 1012.8 93.8 1009.3 92 1006.9 90.1 1004.2 88.7 1000.9 88.3 998.3 89.6 995.7 91.2 994.5 93.3 995.8 95.9 992.3 94.9 988.8 95.9 985.5 97.1 982.1 99.2 979.9 101.4 979.4 103.9 981.6 105.6 982.9 107.5 985.5 108.6 986.8 110 983.8 110.8 985.5 112.8 987.5 115.1 988 116.7 985.5 117.5 985.1 120.2 984.7 122.7 985.5 126.1 986 131.2 986.8 138 986.8 145.8 985.4 148 984.1 152.4 983 157.4 980.7 162.6 978.7 167.7 976 171.4 974 173.7 973.6 177.9 972.2 182.1 971.9 184.8 974.3 185.5 977.7 184.8 980.3 182.2 981.1 180.1 983.8 177.9 981.2 182.2 979.5 185.1 977.7 186.5 976.1 188.2 976.5 190.3 979.5 189.9 982 189.5 984.1 191.5 982 192.4 981.6 195.9 981.1 200.1 982.1 205.2 980.8 209.4 979.4 213.6 978.1 217.9 980.3 217 984.1 216.2 987.9 217 991.5 217.9 994.3 219.2 997.3 218 1001.1 216 1005 215.4 1008.4 215.9 1011.9 217.6 1015.2 220.6 1017.8 223.5 1019.5 222.2 1022.1 219.2 1019.5 222.2 1017.8 223.5 1016.9 226.4 1019.5 229 1021.3 232.4 1024.7 235.8 1028.1 238.3 1030.2 239.7 1032.8 237.5 1034.4 234.6 1036.6 231.5 1040.1 230.4 1043.4 230.2 1046.8 228.1 1050.2 226 1052.3 225.4 1057.4 225.2 1062.5 226 1067.7 225.1 1072.8 225.7 1075.3 226 1077 223.5 1080.4 223 1083.1 225.1 1085.9 222.1 1087.7 218.8 1089 215.5 1091.6 212.5 1094.9 209.5 1098.4 208.2 1101.8 208.7 1104.3 206.8 1103.5 204.3 1105.1 200 1106.8 195.9 1109.4 192.1 1112.8 189.4 1116.2 187.7 1117.9 185.1 1115.8 183 1113.2 181.8 1111.6 178 1110.3 172.8 1110.3 169.5 1112.1 165.1 1114.1 161 1116.7 156.6 1119.6 152.3 1121.8 148.7 1123.9 147.4 1126.1 146.2 1124.7 145.5 1125.6 142.9 1128.2 139.8 1132.5 137.6 1136.8 136.4 1140.9 135.2 1141.9 134.7M1088.2 95.6 1089.8 98.5 1091.5 99 1091 102.7 1094 103.2 1098.3 104.1 1102.5 106.6 1106.8 106.6 1111.2 108.4 1116.3 108 1120.6 108.3 1121.9 105.4 1125.6 106.7 1130.8 107.4 1132.9 109.2 1132.1 111.8 1134.1 112.6 1136.8 110.9 1136.4 109.2 1132.9 109.2 1136.4 109.2 1136.8 110.9 1139.2 111.7 1140.5 113.6M1088.2 95.6 1089.8 92.7 1090.7 89.1 1091.5 84.3M984.7 122.7 986.3 121.8 990.6 120.1 994.1 119.7 994.8 121.9 995.7 125.2 998.3 124.4 1002.5 125.3 1005.9 126 1009.3 124 1013.7 123.6 1017.8 123.9 1017.9 127.8 1019.6 129.6 1023 131.2 1021.3 134.7 1017.9 137.1 1014.5 139.7 1011.9 141.4 1013.6 144.8 1013.6 150 1012.8 155 1010.2 157.7 1010.3 160.2 1012 162.8 1011.1 166 1009.4 168.3 1006 168.2 1002.6 167.9 1002.1 169 1004.2 172 1006 175.6 1007.7 178 1010.7 180.4 1007.7 183.8 1005.4 187.2 1004.7 191.5 1006.8 195 1010.1 196.7 1008.8 199.2 1005.4 200.4 1003.3 204.2 1001.3 208.6 1001.1 216M1118.8 238.7 1123 234.2 1128.2 230.6 1133.3 227.8 1140.1 226.1 1148 225.2M1133 181 1134.6 178.4 1137.5 177 1139.3 178.3 1137.9 180.9 1135.9 182.6 1133.3 182.1 1133 181M1135.5 185.1 1138.9 186.1" fill="none" stroke="#000" stroke-width="1.2" stroke-linejoin="round"/>
<path d="M1135.5 185.1 1138.9 186.1M1123.9 147.1 1126.2 146.4" fill="none" stroke="#000" stroke-width="1.9" stroke-linecap="round"/>
<path d="M970.8 82 998.7 83.6 1026.6 84.5 1054.6 84.8 1082.6 84.5 1110.5 83.6 1138.4 82 1148.8 237 1117.4 238.8 1086 239.8 1054.6 240.2 1023.2 239.8 991.8 238.8 960.4 237Z" fill="none" stroke="#2e2e2e" stroke-width="1.15"/>
<g opacity=".82">
<text x="965.5" y="113.7" class="tk" text-anchor="end">42.5<tspan dy="-2.2" font-size="4.5">°</tspan><tspan dy="2.2"> N</tspan></text>
<text x="962.3" y="162.1" class="tk" text-anchor="end">40.0<tspan dy="-2.2" font-size="4.5">°</tspan><tspan dy="2.2"> N</tspan></text>
<text x="959" y="210.5" class="tk" text-anchor="end">37.5<tspan dy="-2.2" font-size="4.5">°</tspan><tspan dy="2.2"> N</tspan></text>
</g>
<text x="1054.6" y="76.8" class="ti" text-anchor="middle">1936</text></g>
<g><g filter="url(#bl)">
<path fill="#00ff80" stroke="#00ff80" stroke-width=".7" d="M242.7 286.2 249.7 286 250 295.7 242.9 295.9ZM286.5 313.6 293.7 313.2 294.3 322.9 287.1 323.3ZM279.8 323.7 287.1 323.3 287.6 333 280.3 333.4ZM280.3 333.4 287.6 333 288.1 342.7 280.8 343.1ZM259 353.7 273.9 353.2 274.3 362.9 259.4 363.4ZM259.4 363.4 266.8 363.2 267.2 372.9 259.7 373.1ZM259.7 373.1 267.2 372.9 267.6 382.6 260 382.8ZM252.7 392.8 268 392.3 268.3 402 253 402.5ZM245.5 412.4 253.2 412.2 253.5 421.9 245.7 422.1Z"/>
<path fill="#00d595" stroke="#00d595" stroke-width=".7" d="M228.6 286.4 242.7 286.2 242.9 295.9 228.7 296.1ZM286 303.9 293.1 303.5 293.7 313.2 286.5 313.6ZM272.1 314.4 286.5 313.6 287.1 323.3 272.6 324.1ZM273 333.8 280.3 333.4 280.8 343.1 273.4 343.5ZM266.1 343.8 280.8 343.1 281.3 352.8 266.4 353.5ZM251.9 363.7 259.4 363.4 259.7 373.1 252.2 373.4ZM252.2 373.4 259.7 373.1 260 382.8 252.4 383.1ZM252.4 383.1 260 382.8 260.3 392.5 252.7 392.8Z"/>
<path fill="#00aaaa" stroke="#00aaaa" stroke-width=".7" d="M221.5 286.5 228.6 286.4 228.7 296.1 221.6 296.2ZM228.7 296.1 271.3 295 271.7 304.7 228.8 305.9ZM278.3 294.6 292.5 293.8 293.1 303.5 278.8 304.3ZM243.1 305.6 257.4 305.2 257.7 314.9 243.3 315.3ZM278.8 304.3 286 303.9 286.5 313.6 279.3 314ZM250.5 315.1 272.1 314.4 272.6 324.1 250.8 324.8ZM258.1 324.6 279.8 323.7 280.3 333.4 258.4 334.3ZM258.4 334.3 273 333.8 273.4 343.5 258.7 344ZM258.7 344 266.1 343.8 266.4 353.5 259 353.7ZM251.6 354 259 353.7 259.4 363.4 251.9 363.7ZM244.8 383.3 252.4 383.1 252.7 392.8 245.1 393ZM245.3 402.7 253 402.5 253.2 412.2 245.5 412.4ZM237.7 412.5 245.5 412.4 245.7 422.1 237.9 422.2Z"/>
<path fill="#0080bf" stroke="#0080bf" stroke-width=".7" d="M221.6 296.2 228.7 296.1 228.8 305.9 221.7 305.9ZM271.3 295 278.3 294.6 278.8 304.3 271.7 304.7ZM185.9 305.6 200.2 305.9 200.1 315.6 185.7 315.3ZM228.8 305.9 243.1 305.6 243.3 315.3 228.9 315.6ZM257.4 305.2 278.8 304.3 279.3 314 257.7 314.9ZM185.7 315.3 200.1 315.6 200 325.3 185.5 325ZM236.1 315.5 250.5 315.1 250.8 324.8 236.3 325.2ZM207.2 325.3 214.5 325.4 214.5 335.1 207.2 335ZM243.5 325 258.1 324.6 258.4 334.3 243.8 334.7ZM251.1 334.6 258.4 334.3 258.7 344 251.3 344.3ZM251.3 344.3 258.7 344 259 353.7 251.6 354ZM244.4 363.9 251.9 363.7 252.2 373.4 244.6 373.6ZM244.6 373.6 252.2 373.4 252.4 383.1 244.8 383.3ZM245.1 393 252.7 392.8 253 402.5 245.3 402.7Z"/>
<path fill="#0055d5" stroke="#0055d5" stroke-width=".7" d="M179.6 276.3 200.5 276.7 200.4 286.4 179.3 286ZM179.3 286 221.5 286.5 221.6 296.2 179 295.7ZM179 295.7 221.6 296.2 221.7 305.9 178.7 305.4ZM171.6 305.2 185.9 305.6 185.7 315.3 171.3 314.9ZM200.2 305.9 228.8 305.9 228.9 315.6 200.1 315.6ZM178.5 315.1 185.7 315.3 185.5 325 178.2 324.8ZM200.1 315.6 236.1 315.5 236.3 325.2 200 325.3ZM170.9 324.6 207.2 325.3 207.2 335 170.6 334.3ZM214.5 325.4 243.5 325 243.8 334.7 214.5 335.1ZM170.6 334.3 207.2 335 207.1 344.7 170.3 344ZM243.8 334.7 251.1 334.6 251.3 344.3 244 344.4ZM244.2 354.1 251.6 354 251.9 363.7 244.4 363.9ZM183.9 393 206.9 393.3 206.8 403 183.7 402.7ZM237.4 393.1 245.1 393 245.3 402.7 237.6 402.8ZM176 402.5 206.8 403 206.8 412.7 175.8 412.2ZM237.6 402.8 245.3 402.7 245.5 412.4 237.7 412.5ZM175.8 412.2 206.8 412.7 206.7 422.4 175.5 421.9ZM230 412.6 237.7 412.5 237.9 422.2 230.1 422.4ZM175.5 421.9 198.9 422.4 198.8 432.1 175.2 431.6Z"/>
<path fill="#002bea" stroke="#002bea" stroke-width=".7" d="M151.6 275.2 179.6 276.3 179.3 286 151.1 284.9ZM158.2 285.3 179.3 286 179 295.7 157.7 295ZM157.7 295 179 295.7 178.7 305.4 157.3 304.7ZM143 303.9 171.6 305.2 171.3 314.9 142.5 313.6ZM142.5 313.6 178.5 315.1 178.2 324.8 141.9 323.3ZM141.9 323.3 149.2 323.7 148.7 333.4 141.4 333ZM156.4 324.1 170.9 324.6 170.6 334.3 156 333.8ZM141.4 333 170.6 334.3 170.3 344 140.9 342.7ZM207.2 335 236.4 334.9 236.6 344.6 207.1 344.7ZM140.9 342.7 181.3 344.4 221.9 344.7 221.9 354.5 181.1 354.1 140.3 352.4ZM236.6 344.6 251.3 344.3 251.6 354 236.8 354.3ZM132.9 352 166.3 353.6 199.7 354.4 199.5 364.1 165.9 363.3 132.3 361.7ZM229.3 354.4 244.2 354.1 244.4 363.9 229.5 364.1ZM132.3 361.7 165.9 363.3 199.5 364.1 199.4 373.8 165.6 373 131.7 371.4ZM222 364.2 244.4 363.9 244.6 373.6 222 373.9ZM131.7 371.4 169.3 373.1 207 373.9 244.6 373.6 244.8 383.3 206.9 383.6 169 382.8 131.1 381ZM131.1 381 169 382.8 206.9 383.6 244.8 383.3 245.1 393 206.9 393.3 168.7 392.5 130.5 390.7ZM138.1 391.2 183.9 393 183.7 402.7 137.6 400.9ZM206.9 393.3 237.4 393.1 237.6 402.8 206.8 403ZM137.6 400.9 176 402.5 175.8 412.2 137.1 410.6ZM206.8 403 237.6 402.8 237.7 412.5 206.8 412.7ZM206.8 412.7 230 412.6 230.1 422.4 206.7 422.4Z"/>
<path fill="#0000ff" stroke="#0000ff" stroke-width=".7" d="M137.1 284.1 158.2 285.3 157.7 295 136.5 293.8ZM136.5 293.8 157.7 295 157.3 304.7 135.9 303.5ZM149.2 323.7 156.4 324.1 156 333.8 148.7 333.4ZM236.4 334.9 243.8 334.7 244 344.4 236.6 344.6ZM221.9 344.7 236.6 344.6 236.8 354.3 221.9 354.5ZM199.7 354.4 229.3 354.4 229.5 364.1 199.5 364.1ZM199.5 364.1 222 364.2 222 373.9 199.4 373.8Z"/>
</g>
<path d="M165.6 275.9 159.5 431.1M200.5 276.7 198.8 432.1M235.5 276.6 238.1 432M270.4 275.6 277.3 430.8M122.2 399.9 153 401.7 183.7 402.7 214.5 403 245.3 402.7 276 401.7 306.8 399.9M125.5 351.5 155.1 353.2 184.8 354.1 214.5 354.5 244.2 354.1 273.9 353.2 303.5 351.5M128.7 303.1 157.3 304.7 185.9 305.6 214.5 305.9 243.1 305.6 271.7 304.7 300.3 303.1" fill="none" stroke="#c8c8c8" stroke-opacity=".3" stroke-width=".6" stroke-dasharray="1 1"/>
<path d="M248.1 287.6 244.6 288.5 240.3 289.7 236.9 289.2 233.5 287.9 230.2 288.4 227.5 289.7 223.2 288.4 220.7 286.3 216.5 287.5 213.7 288.1 208.4 288.4 203.4 287.8 200 286.8 194.8 285.6 191.4 284.9 188.9 283.5 185.5 285.8 181.2 284.9 176.9 284.8 172.7 285.8 169.2 284 166.8 282.1 164.1 280.7 160.8 280.3 158.2 281.6 155.6 283.2 154.4 285.3 155.7 287.9 152.2 286.9 148.7 287.9 145.4 289.1 142 291.2 139.8 293.4 139.3 295.9 141.5 297.6 142.8 299.5 145.4 300.6 146.7 302 143.7 302.8 145.4 304.8 147.4 307.1 147.9 308.7 145.4 309.5 145 312.2 144.6 314.7 145.4 318.1 145.9 323.2 146.7 330 146.7 337.8 145.3 340 144 344.4 142.9 349.4 140.6 354.6 138.6 359.7 135.9 363.4 133.9 365.7 133.5 369.9 132.1 374.1 131.8 376.8 134.2 377.5 137.6 376.8 140.2 374.2 141 372.1 143.7 369.9 141.1 374.2 139.4 377.1 137.6 378.5 136 380.2 136.4 382.3 139.4 381.9 141.9 381.5 144 383.5 141.9 384.4 141.5 387.9 141 392.1 142 397.2 140.7 401.4 139.3 405.6 138 409.9 140.2 409 144 408.2 147.8 409 151.4 409.9 154.2 411.2 157.2 410 161 408 164.9 407.4 168.3 407.9 171.8 409.6 175.1 412.6 177.7 415.5 179.4 414.2 182 411.2 179.4 414.2 177.7 415.5 176.8 418.4 179.4 421 181.2 424.4 184.6 427.8 188 430.3 190.1 431.7 192.7 429.5 194.3 426.6 196.5 423.5 200 422.4 203.3 422.2 206.7 420.1 210.1 418 212.2 417.4 217.3 417.2 222.4 418 227.6 417.1 232.7 417.7 235.2 418 236.9 415.5 240.3 415 243 417.1 245.8 414.1 247.6 410.8 248.9 407.5 251.5 404.5 254.8 401.5 258.3 400.2 261.7 400.7 264.2 398.8 263.4 396.3 265 392 266.7 387.9 269.3 384.1 272.7 381.4 276.1 379.7 277.8 377.1 275.7 375 273.1 373.8 271.5 370 270.2 364.8 270.2 361.5 272 357.1 274 353 276.6 348.6 279.5 344.3 281.7 340.7 283.8 339.4 286 338.2 284.6 337.5 285.5 334.9 288.1 331.8 292.4 329.6 296.7 328.4 300.8 327.2 301.8 326.7M248.1 287.6 249.7 290.5 251.4 291 250.9 294.7 253.9 295.2 258.2 296.1 262.4 298.6 266.7 298.6 271.1 300.4 276.2 300 280.5 300.3 281.8 297.4 285.5 298.7 290.7 299.4 292.8 301.2 292 303.8 294 304.6 296.7 302.9 296.3 301.2 292.8 301.2 296.3 301.2 296.7 302.9 299.1 303.7 300.4 305.6M248.1 287.6 249.7 284.7 250.6 281.1 251.4 276.3M144.6 314.7 146.2 313.8 150.5 312.1 154 311.7 154.7 313.9 155.6 317.2 158.2 316.4 162.4 317.3 165.8 318 169.2 316 173.6 315.6 177.7 315.9 177.8 319.8 179.5 321.6 182.9 323.2 181.2 326.7 177.8 329.1 174.4 331.7 171.8 333.4 173.5 336.8 173.5 342 172.7 347 170.1 349.7 170.2 352.2 171.9 354.8 171 358 169.3 360.3 165.9 360.2 162.5 359.9 162 361 164.1 364 165.9 367.6 167.6 370 170.6 372.4 167.6 375.8 165.3 379.2 164.6 383.5 166.7 387 170 388.7 168.7 391.2 165.3 392.4 163.2 396.2 161.2 400.6 161 408M278.7 430.7 282.9 426.2 288.1 422.6 293.2 419.8 300 418.1 307.9 417.2M292.9 373 294.5 370.4 297.4 369 299.2 370.3 297.8 372.9 295.8 374.6 293.2 374.1 292.9 373M295.4 377.1 298.8 378.1" fill="none" stroke="#000" stroke-width="1.2" stroke-linejoin="round"/>
<path d="M295.4 377.1 298.8 378.1M283.8 339.1 286.1 338.4" fill="none" stroke="#000" stroke-width="1.9" stroke-linecap="round"/>
<path d="M130.7 274 158.6 275.6 186.5 276.5 214.5 276.8 242.5 276.5 270.4 275.6 298.3 274 308.7 429 277.3 430.8 245.9 431.8 214.5 432.2 183.1 431.8 151.7 430.8 120.3 429Z" fill="none" stroke="#2e2e2e" stroke-width="1.15"/>
<g opacity=".82">
<text x="125.4" y="305.7" class="tk" text-anchor="end">42.5<tspan dy="-2.2" font-size="4.5">°</tspan><tspan dy="2.2"> N</tspan></text>
<text x="122.2" y="354.1" class="tk" text-anchor="end">40.0<tspan dy="-2.2" font-size="4.5">°</tspan><tspan dy="2.2"> N</tspan></text>
<text x="118.9" y="402.5" class="tk" text-anchor="end">37.5<tspan dy="-2.2" font-size="4.5">°</tspan><tspan dy="2.2"> N</tspan></text>
</g>
<text x="214.5" y="268.8" class="ti" text-anchor="middle">1947</text></g>
<g><g filter="url(#bl)">
<path fill="#00ff80" stroke="#00ff80" stroke-width=".7" d="M546 353.7 560.9 353.2 561.3 362.9 546.4 363.4ZM546.4 363.4 561.3 362.9 561.7 372.6 546.7 373.1ZM539.2 373.4 546.7 373.1 547 382.8 539.4 383.1ZM531.8 383.3 547 382.8 547.3 392.5 532.1 393ZM532.1 393 555 392.3 555.3 402 532.3 402.7ZM524.6 402.8 532.3 402.7 532.5 412.4 524.7 412.5ZM524.7 412.5 532.5 412.4 532.7 422.1 524.9 422.2Z"/>
<path fill="#00d595" stroke="#00d595" stroke-width=".7" d="M560 333.8 567.3 333.4 567.8 343.1 560.4 343.5ZM538.3 344.3 560.4 343.5 560.9 353.2 538.6 354ZM531.2 354.1 546 353.7 546.4 363.4 531.4 363.9ZM538.9 363.7 546.4 363.4 546.7 373.1 539.2 373.4ZM531.6 373.6 539.2 373.4 539.4 383.1 531.8 383.3ZM524.3 383.4 531.8 383.3 532.1 393 524.4 393.1ZM524.4 393.1 532.1 393 532.3 402.7 524.6 402.8ZM516.9 402.9 524.6 402.8 524.7 412.5 517 412.6ZM532.3 402.7 540 402.5 540.2 412.2 532.5 412.4ZM517 412.6 524.7 412.5 524.9 422.2 517.1 422.4Z"/>
<path fill="#00aaaa" stroke="#00aaaa" stroke-width=".7" d="M545.1 324.6 552.3 324.4 552.7 334.1 545.4 334.3ZM559.6 324.1 566.8 323.7 567.3 333.4 560 333.8ZM523.4 334.9 560 333.8 560.4 343.5 523.6 344.6ZM523.6 344.6 538.3 344.3 538.6 354 523.8 354.3ZM560.4 343.5 567.8 343.1 568.3 352.8 560.9 353.2ZM531.4 363.9 538.9 363.7 539.2 373.4 531.6 373.6ZM524.1 373.7 531.6 373.6 531.8 383.3 524.3 383.4ZM516.8 393.2 524.4 393.1 524.6 402.8 516.9 402.9ZM509.2 403 516.9 402.9 517 412.6 509.2 412.7ZM509.2 412.7 517 412.6 517.1 422.4 509.3 422.4ZM532.5 412.4 540.2 412.2 540.5 421.9 532.7 422.1Z"/>
<path fill="#0080bf" stroke="#0080bf" stroke-width=".7" d="M501.5 286.5 536.7 286 537 295.7 501.5 296.2ZM501.5 296.2 515.7 296.1 515.8 305.9 501.5 305.9ZM465.7 305.4 480 305.8 479.9 315.5 465.5 315.1ZM465.5 315.1 479.9 315.5 479.7 325.2 465.2 324.8ZM508.7 315.6 523.1 315.5 523.3 325.2 508.8 325.3ZM530.3 315.3 566.3 314 566.8 323.7 530.5 325ZM465.2 324.8 487 325.3 486.9 335 464.9 334.6ZM501.5 325.4 545.1 324.6 545.4 334.3 501.5 335.1ZM552.3 324.4 559.6 324.1 560 333.8 552.7 334.1ZM566.8 323.7 581.3 322.9 581.9 332.6 567.3 333.4ZM464.9 334.6 494.2 335 523.4 334.9 523.6 344.6 494.1 344.7 464.7 344.3ZM567.3 333.4 574.6 333 575.1 342.7 567.8 343.1ZM479.4 344.6 523.6 344.6 523.8 354.3 479.2 354.3ZM479.2 354.3 486.7 354.4 486.5 364.1 479.1 364ZM516.3 354.4 531.2 354.1 531.4 363.9 516.5 364.1ZM426.8 362.1 464.1 363.7 463.8 373.4 426.2 371.8ZM523.9 364 531.4 363.9 531.6 373.6 524.1 373.7ZM418.7 371.4 456.3 373.1 456 382.8 418.1 381ZM418.1 381 456 382.8 455.7 392.5 417.5 390.7ZM516.7 383.5 524.3 383.4 524.4 393.1 516.8 393.2ZM425.1 391.2 432.8 391.6 432.3 401.3 424.6 400.9ZM440.4 392 463.3 392.8 463 402.5 440 401.7ZM509.1 393.3 516.8 393.2 516.9 402.9 509.2 403ZM424.6 400.9 455.3 402.3 455 412 424.1 410.6ZM501.5 403 509.2 403 509.2 412.7 501.5 412.7ZM501.5 412.7 509.2 412.7 509.3 422.4 501.5 422.4Z"/>
<path fill="#0055d5" stroke="#0055d5" stroke-width=".7" d="M459.6 276.1 487.5 276.7 487.4 286.4 459.3 285.8ZM466.3 286 501.5 286.5 501.5 296.2 466 295.7ZM466 295.7 501.5 296.2 501.5 305.9 465.7 305.4ZM515.7 296.1 547.6 295.4 579.5 293.8 580.1 303.5 548 305.1 515.8 305.9ZM480 305.8 494.3 305.9 494.3 315.6 479.9 315.5ZM501.5 305.9 540.8 305.3 580.1 303.5 580.7 313.2 541.1 315 501.5 315.6ZM479.9 315.5 494.3 315.6 494.2 325.3 479.7 325.2ZM501.5 315.6 508.7 315.6 508.8 325.3 501.5 325.4ZM523.1 315.5 530.3 315.3 530.5 325 523.3 325.2ZM566.3 314 580.7 313.2 581.3 322.9 566.8 323.7ZM457.9 324.6 465.2 324.8 464.9 334.6 457.6 334.3ZM487 325.3 501.5 325.4 501.5 335.1 486.9 335ZM457.6 334.3 464.9 334.6 464.7 344.3 457.3 344ZM427.9 342.7 479.4 344.6 479.2 354.3 427.3 352.4ZM419.9 352 449.6 353.5 479.2 354.3 479.1 364 449.2 363.2 419.3 361.7ZM486.7 354.4 516.3 354.4 516.5 364.1 486.5 364.1ZM419.3 361.7 426.8 362.1 426.2 371.8 418.7 371.4ZM464.1 363.7 486.5 364.1 486.4 373.8 463.8 373.4ZM501.5 364.2 523.9 364 524.1 373.7 501.5 373.9ZM456.3 373.1 478.9 373.7 478.7 383.4 456 382.8ZM516.6 373.8 524.1 373.7 524.3 383.4 516.7 383.5ZM456 382.8 478.7 383.4 478.6 393.1 455.7 392.5ZM509.1 383.6 516.7 383.5 516.8 393.2 509.1 393.3ZM432.8 391.6 440.4 392 440 401.7 432.3 401.3ZM463.3 392.8 493.9 393.3 493.8 403 463 402.5ZM455.3 402.3 478.4 402.8 478.3 412.5 455 412ZM493.8 403 501.5 403 501.5 412.7 493.8 412.7ZM462.8 412.2 501.5 412.7 501.5 422.4 462.5 421.9ZM470.3 422.1 485.9 422.4 485.8 432.1 470.1 431.8Z"/>
<path fill="#002bea" stroke="#002bea" stroke-width=".7" d="M438.6 275.2 452.6 275.9 452.2 285.6 438.1 284.9ZM424.1 284.1 438.1 284.9 437.7 294.6 423.5 293.8ZM451.1 314.7 465.5 315.1 465.2 324.8 450.7 324.4ZM494.3 315.6 501.5 315.6 501.5 325.4 494.2 325.3ZM428.4 333 457.6 334.3 457.3 344 427.9 342.7ZM486.5 364.1 501.5 364.2 501.5 373.9 486.4 373.8ZM478.9 373.7 516.6 373.8 516.7 383.5 478.7 383.4ZM478.7 383.4 509.1 383.6 509.1 393.3 478.6 393.1ZM493.9 393.3 509.1 393.3 509.2 403 493.8 403ZM478.4 402.8 493.8 403 493.8 412.7 478.3 412.5ZM462.5 421.9 470.3 422.1 470.1 431.8 462.2 431.6Z"/>
<path fill="#0000ff" stroke="#0000ff" stroke-width=".7" d="M452.6 275.9 459.6 276.1 459.3 285.8 452.2 285.6ZM438.1 284.9 466.3 286 466 295.7 437.7 294.6ZM423.5 293.8 466 295.7 465.7 305.4 422.9 303.5ZM430 303.9 465.7 305.4 465.5 315.1 429.5 313.6ZM494.3 305.9 501.5 305.9 501.5 315.6 494.3 315.6ZM429.5 313.6 451.1 314.7 450.7 324.4 428.9 323.3ZM428.9 323.3 457.9 324.6 457.6 334.3 428.4 333Z"/>
</g>
<path d="M452.6 275.9 446.5 431.1M487.5 276.7 485.8 432.1M522.5 276.6 525.1 432M557.4 275.6 564.3 430.8M409.2 399.9 440 401.7 470.7 402.7 501.5 403 532.3 402.7 563 401.7 593.8 399.9M412.5 351.5 442.1 353.2 471.8 354.1 501.5 354.5 531.2 354.1 560.9 353.2 590.5 351.5M415.7 303.1 444.3 304.7 472.9 305.6 501.5 305.9 530.1 305.6 558.7 304.7 587.3 303.1" fill="none" stroke="#c8c8c8" stroke-opacity=".3" stroke-width=".6" stroke-dasharray="1 1"/>
<path d="M535.1 287.6 531.6 288.5 527.3 289.7 523.9 289.2 520.5 287.9 517.2 288.4 514.5 289.7 510.2 288.4 507.7 286.3 503.5 287.5 500.7 288.1 495.4 288.4 490.4 287.8 487 286.8 481.8 285.6 478.4 284.9 475.9 283.5 472.5 285.8 468.2 284.9 463.9 284.8 459.7 285.8 456.2 284 453.8 282.1 451.1 280.7 447.8 280.3 445.2 281.6 442.6 283.2 441.4 285.3 442.7 287.9 439.2 286.9 435.7 287.9 432.4 289.1 429 291.2 426.8 293.4 426.3 295.9 428.5 297.6 429.8 299.5 432.4 300.6 433.7 302 430.7 302.8 432.4 304.8 434.4 307.1 434.9 308.7 432.4 309.5 432 312.2 431.6 314.7 432.4 318.1 432.9 323.2 433.7 330 433.7 337.8 432.3 340 431 344.4 429.9 349.4 427.6 354.6 425.6 359.7 422.9 363.4 420.9 365.7 420.5 369.9 419.1 374.1 418.8 376.8 421.2 377.5 424.6 376.8 427.2 374.2 428 372.1 430.7 369.9 428.1 374.2 426.4 377.1 424.6 378.5 423 380.2 423.4 382.3 426.4 381.9 428.9 381.5 431 383.5 428.9 384.4 428.5 387.9 428 392.1 429 397.2 427.7 401.4 426.3 405.6 425 409.9 427.2 409 431 408.2 434.8 409 438.4 409.9 441.2 411.2 444.2 410 448 408 451.9 407.4 455.3 407.9 458.8 409.6 462.1 412.6 464.7 415.5 466.4 414.2 469 411.2 466.4 414.2 464.7 415.5 463.8 418.4 466.4 421 468.2 424.4 471.6 427.8 475 430.3 477.1 431.7 479.7 429.5 481.3 426.6 483.5 423.5 487 422.4 490.3 422.2 493.7 420.1 497.1 418 499.2 417.4 504.3 417.2 509.4 418 514.6 417.1 519.7 417.7 522.2 418 523.9 415.5 527.3 415 530 417.1 532.8 414.1 534.6 410.8 535.9 407.5 538.5 404.5 541.8 401.5 545.3 400.2 548.7 400.7 551.2 398.8 550.4 396.3 552 392 553.7 387.9 556.3 384.1 559.7 381.4 563.1 379.7 564.8 377.1 562.7 375 560.1 373.8 558.5 370 557.2 364.8 557.2 361.5 559 357.1 561 353 563.6 348.6 566.5 344.3 568.7 340.7 570.8 339.4 573 338.2 571.6 337.5 572.5 334.9 575.1 331.8 579.4 329.6 583.7 328.4 587.8 327.2 588.8 326.7M535.1 287.6 536.7 290.5 538.4 291 537.9 294.7 540.9 295.2 545.2 296.1 549.4 298.6 553.7 298.6 558.1 300.4 563.2 300 567.5 300.3 568.8 297.4 572.5 298.7 577.7 299.4 579.8 301.2 579 303.8 581 304.6 583.7 302.9 583.3 301.2 579.8 301.2 583.3 301.2 583.7 302.9 586.1 303.7 587.4 305.6M535.1 287.6 536.7 284.7 537.6 281.1 538.4 276.3M431.6 314.7 433.2 313.8 437.5 312.1 441 311.7 441.7 313.9 442.6 317.2 445.2 316.4 449.4 317.3 452.8 318 456.2 316 460.6 315.6 464.7 315.9 464.8 319.8 466.5 321.6 469.9 323.2 468.2 326.7 464.8 329.1 461.4 331.7 458.8 333.4 460.5 336.8 460.5 342 459.7 347 457.1 349.7 457.2 352.2 458.9 354.8 458 358 456.3 360.3 452.9 360.2 449.5 359.9 449 361 451.1 364 452.9 367.6 454.6 370 457.6 372.4 454.6 375.8 452.3 379.2 451.6 383.5 453.7 387 457 388.7 455.7 391.2 452.3 392.4 450.2 396.2 448.2 400.6 448 408M565.7 430.7 569.9 426.2 575.1 422.6 580.2 419.8 587 418.1 594.9 417.2M579.9 373 581.5 370.4 584.4 369 586.2 370.3 584.8 372.9 582.8 374.6 580.2 374.1 579.9 373M582.4 377.1 585.8 378.1" fill="none" stroke="#000" stroke-width="1.2" stroke-linejoin="round"/>
<path d="M582.4 377.1 585.8 378.1M570.8 339.1 573.1 338.4" fill="none" stroke="#000" stroke-width="1.9" stroke-linecap="round"/>
<path d="M417.7 274 445.6 275.6 473.5 276.5 501.5 276.8 529.5 276.5 557.4 275.6 585.3 274 595.7 429 564.3 430.8 532.9 431.8 501.5 432.2 470.1 431.8 438.7 430.8 407.3 429Z" fill="none" stroke="#2e2e2e" stroke-width="1.15"/>
<g opacity=".82">
<text x="412.4" y="305.7" class="tk" text-anchor="end">42.5<tspan dy="-2.2" font-size="4.5">°</tspan><tspan dy="2.2"> N</tspan></text>
<text x="409.2" y="354.1" class="tk" text-anchor="end">40.0<tspan dy="-2.2" font-size="4.5">°</tspan><tspan dy="2.2"> N</tspan></text>
<text x="405.9" y="402.5" class="tk" text-anchor="end">37.5<tspan dy="-2.2" font-size="4.5">°</tspan><tspan dy="2.2"> N</tspan></text>
</g>
<text x="501.5" y="268.8" class="ti" text-anchor="middle">1969</text></g>
<g><g filter="url(#bl)">
<path fill="#00ff80" stroke="#00ff80" stroke-width=".7" d="M804.1 412.5 819.6 412.2 819.9 421.9 804.3 422.2Z"/>
<path fill="#00d595" stroke="#00d595" stroke-width=".7" d="M721.3 353.2 743.6 354 743.3 363.7 720.9 362.9ZM751 354.1 758.5 354.3 758.3 364 750.8 363.9ZM720.9 362.9 728.3 363.2 728 372.9 720.4 372.6ZM735.8 363.4 750.8 363.9 750.6 373.6 735.5 373.1ZM728 372.9 743.1 373.4 742.8 383.1 727.6 382.6ZM727.6 382.6 735.2 382.8 734.9 392.5 727.2 392.3Z"/>
<path fill="#00aaaa" stroke="#00aaaa" stroke-width=".7" d="M707 342.7 743.9 344.3 743.6 354 706.4 352.4ZM699 352 721.3 353.2 720.9 362.9 698.4 361.7ZM743.6 354 751 354.1 750.8 363.9 743.3 363.7ZM698.4 361.7 720.9 362.9 720.4 372.6 697.8 371.4ZM728.3 363.2 735.8 363.4 735.5 373.1 728 372.9ZM750.8 363.9 758.3 364 758.2 373.7 750.6 373.6ZM697.8 371.4 728 372.9 727.6 382.6 697.2 381ZM743.1 373.4 758.2 373.7 758 383.4 742.8 383.1ZM697.2 381 727.6 382.6 727.2 392.3 696.6 390.7ZM735.2 382.8 750.4 383.3 750.2 393 734.9 392.5ZM826.4 382.8 841.6 382.3 842 392 826.7 392.5ZM704.3 391.2 750.2 393 750 402.7 703.7 400.9ZM703.7 400.9 757.7 402.8 757.5 412.5 703.2 410.6ZM742 412.2 773 412.7 773 422.4 741.7 421.9ZM741.7 421.9 765.2 422.4 765 432.1 741.4 431.6Z"/>
<path fill="#0080bf" stroke="#0080bf" stroke-width=".7" d="M737.1 324.6 744.4 324.8 744.1 334.6 736.8 334.3ZM707.5 333 751.5 334.7 751.3 344.4 707 342.7ZM743.9 344.3 758.6 344.6 758.5 354.3 743.6 354ZM758.5 354.3 773.4 354.5 773.3 364.2 758.3 364ZM758.3 364 773.3 364.2 773.3 373.9 758.2 373.7ZM825.8 363.4 840.7 362.9 841.2 372.6 826.1 373.1ZM758.2 373.7 765.7 373.8 765.6 383.5 758 383.4ZM811 373.6 841.2 372.6 841.6 382.3 811.2 383.3ZM750.4 383.3 765.6 383.5 765.5 393.2 750.2 393ZM811.2 383.3 826.4 382.8 826.7 392.5 811.4 393ZM750.2 393 765.5 393.2 765.4 402.9 750 402.7ZM780.8 393.3 796.1 393.2 796.2 402.9 780.8 403ZM811.4 393 834.4 392.3 834.8 402 811.6 402.7ZM757.7 402.8 788.5 403 788.6 412.7 757.5 412.5ZM773 412.7 788.6 412.7 788.6 422.4 773 422.4Z"/>
<path fill="#0055d5" stroke="#0055d5" stroke-width=".7" d="M745.8 276.3 759.8 276.6 759.6 286.3 745.5 286ZM745.5 286 759.6 286.3 759.5 296 745.2 295.7ZM787.9 286.5 816.1 286 816.4 295.7 787.9 296.2ZM802.1 296 823.5 295.5 823.8 305.2 802.3 305.8ZM709.2 303.9 759.3 305.8 759.1 315.5 708.6 313.6ZM809.5 305.6 816.6 305.4 816.9 315.1 809.7 315.3ZM708.6 313.6 759.1 315.5 759 325.2 708.1 323.3ZM708.1 323.3 737.1 324.6 736.8 334.3 707.5 333ZM744.4 324.8 766.2 325.3 766.1 335 744.1 334.6ZM751.5 334.7 773.5 335 773.4 344.7 751.3 344.4ZM758.6 344.6 773.4 344.7 773.4 354.5 758.5 354.3ZM773.4 354.5 795.7 354.4 795.8 364.1 773.3 364.2ZM825.4 353.7 840.3 353.2 840.7 362.9 825.8 363.4ZM773.3 364.2 795.8 364.1 795.9 373.8 773.3 373.9ZM765.7 373.8 811 373.6 811.2 383.3 765.6 383.5ZM765.6 383.5 811.2 383.3 811.4 393 765.5 393.2ZM765.5 393.2 780.8 393.3 780.8 403 765.4 402.9ZM796.1 393.2 811.4 393 811.6 402.7 796.2 402.9ZM788.5 403 819.4 402.5 819.6 412.2 788.6 412.7ZM788.6 412.7 804.1 412.5 804.3 422.2 788.6 422.4Z"/>
<path fill="#002bea" stroke="#002bea" stroke-width=".7" d="M717.8 275.2 745.8 276.3 745.5 286 717.3 284.9ZM759.8 276.6 766.8 276.7 766.7 286.4 759.6 286.3ZM703.2 284.1 745.5 286 745.2 295.7 702.6 293.8ZM759.6 286.3 787.9 286.5 787.9 296.2 759.5 296ZM702.6 293.8 738.1 295.5 773.7 296.2 773.6 305.9 737.8 305.2 702 303.5ZM787.9 296.2 802.1 296 802.3 305.8 788 305.9ZM759.3 305.8 809.5 305.6 809.7 315.3 759.1 315.5ZM816.6 305.4 831 305 831.3 314.7 816.9 315.1ZM759.1 315.5 780.8 315.6 780.8 325.4 759 325.2ZM788 315.6 824.1 314.9 824.5 324.6 788.1 325.3ZM766.2 325.3 809.9 325 810.1 334.7 766.1 335ZM824.5 324.6 831.7 324.4 832.1 334.1 824.8 334.3ZM846.3 323.7 860.8 322.9 861.4 332.6 846.8 333.4ZM773.5 335 810.1 334.7 810.3 344.4 773.4 344.7ZM824.8 334.3 854.1 333 854.6 342.7 825.1 344ZM773.4 344.7 810.3 344.4 810.6 354.1 773.4 354.5ZM817.7 344.3 847.2 343.1 847.7 352.8 818 354ZM795.7 354.4 810.6 354.1 810.8 363.9 795.8 364.1ZM818 354 825.4 353.7 825.8 363.4 818.3 363.7ZM795.8 364.1 825.8 363.4 826.1 373.1 795.9 373.8Z"/>
<path fill="#0000ff" stroke="#0000ff" stroke-width=".7" d="M773.7 296.2 787.9 296.2 788 305.9 773.6 305.9ZM823.5 295.5 844.8 294.6 845.3 304.3 823.8 305.2ZM851.9 294.2 859 293.8 859.6 303.5 852.4 303.9ZM831 305 838.1 304.7 838.6 314.4 831.3 314.7ZM780.8 315.6 788 315.6 788.1 325.3 780.8 325.4ZM824.1 314.9 860.2 313.2 860.8 322.9 824.5 324.6ZM809.9 325 824.5 324.6 824.8 334.3 810.1 334.7ZM831.7 324.4 846.3 323.7 846.8 333.4 832.1 334.1ZM810.1 334.7 824.8 334.3 825.1 344 810.3 344.4ZM810.3 344.4 817.7 344.3 818 354 810.6 354.1ZM810.6 354.1 818 354 818.3 363.7 810.8 363.9Z"/>
<path fill="#bf00bf" stroke="#bf00bf" stroke-width=".7" d="M844.8 294.6 851.9 294.2 852.4 303.9 845.3 304.3ZM838.1 304.7 859.6 303.5 860.2 313.2 838.6 314.4Z"/>
</g>
<path d="M731.8 275.9 725.7 431.1M766.8 276.7 765 432.1M801.8 276.6 804.4 432M836.8 275.6 843.8 430.8M688.3 399.9 719.1 401.7 750 402.7 780.8 403 811.6 402.7 842.5 401.7 873.3 399.9M691.6 351.5 721.3 353.2 751 354.1 780.8 354.5 810.6 354.1 840.3 353.2 870 351.5M694.8 303.1 723.5 304.7 752.1 305.6 780.8 305.9 809.5 305.6 838.1 304.7 866.8 303.1" fill="none" stroke="#c8c8c8" stroke-opacity=".3" stroke-width=".6" stroke-dasharray="1 1"/>
<path d="M814.4 287.6 810.9 288.5 806.7 289.7 803.3 289.2 799.9 287.9 796.5 288.4 793.8 289.7 789.6 288.4 787 286.3 782.8 287.5 780 288.1 774.7 288.4 769.6 287.8 766.3 286.8 761 285.6 757.7 284.9 755.2 283.5 751.7 285.8 747.4 284.9 743.1 284.8 738.9 285.8 735.4 284 732.9 282.1 730.3 280.7 727 280.3 724.4 281.6 721.8 283.2 720.5 285.3 721.8 287.9 718.3 286.9 714.9 287.9 711.5 289.1 708.2 291.2 705.9 293.4 705.5 295.9 707.6 297.6 709 299.5 711.5 300.6 712.8 302 709.8 302.8 711.5 304.8 713.6 307.1 714.1 308.7 711.6 309.5 711.1 312.2 710.7 314.7 711.6 318.1 712 323.2 712.8 330 712.9 337.8 711.4 340 710.1 344.4 709 349.4 706.8 354.6 704.7 359.7 702.1 363.4 700 365.7 699.6 369.9 698.2 374.1 697.9 376.8 700.3 377.5 703.7 376.8 706.3 374.2 707.1 372.1 709.8 369.9 707.2 374.2 705.5 377.1 703.8 378.5 702.1 380.2 702.5 382.3 705.5 381.9 708 381.5 710.2 383.5 708 384.4 707.7 387.9 707.1 392.1 708.1 397.2 706.8 401.4 705.5 405.6 704.1 409.9 706.4 409 710.1 408.2 714 409 717.5 409.9 720.4 411.2 723.4 410 727.2 408 731.1 407.4 734.5 407.9 738 409.6 741.3 412.6 743.9 415.5 745.6 414.2 748.2 411.2 745.6 414.2 743.9 415.5 743 418.4 745.6 421 747.4 424.4 750.8 427.8 754.2 430.3 756.4 431.7 758.9 429.5 760.6 426.6 762.8 423.5 766.3 422.4 769.5 422.2 773 420.1 776.4 418 778.5 417.4 783.6 417.2 788.8 418 793.9 417.1 799 417.7 801.5 418 803.2 415.5 806.6 415 809.3 417.1 812.2 414.1 814 410.8 815.3 407.5 817.9 404.5 821.2 401.5 824.7 400.2 828.1 400.7 830.6 398.8 829.8 396.3 831.5 392 833.1 387.9 835.7 384.1 839.1 381.4 842.6 379.7 844.3 377.1 842.2 375 839.6 373.8 837.9 370 836.6 364.8 836.6 361.5 838.4 357.1 840.4 353 843.1 348.6 846 344.3 848.2 340.7 850.3 339.4 852.5 338.2 851.1 337.5 852 334.9 854.6 331.8 858.9 329.6 863.2 328.4 867.4 327.2 868.3 326.7M814.4 287.6 816.1 290.5 817.8 291 817.3 294.7 820.3 295.2 824.6 296.1 828.9 298.6 833.1 298.6 837.5 300.4 842.6 300 846.9 300.3 848.2 297.4 852 298.7 857.2 299.4 859.3 301.2 858.5 303.8 860.5 304.6 863.2 302.9 862.8 301.2 859.3 301.2 862.8 301.2 863.2 302.9 865.7 303.7 866.9 305.6M814.4 287.6 816.1 284.7 816.9 281.1 817.8 276.3M710.7 314.7 712.4 313.8 716.6 312.1 720.1 311.7 720.9 313.9 721.7 317.2 724.4 316.4 728.6 317.3 732 318 735.4 316 739.8 315.6 743.9 315.9 744 319.8 745.7 321.6 749.1 323.2 747.4 326.7 744 329.1 740.6 331.7 738 333.4 739.7 336.8 739.7 342 738.9 347 736.3 349.7 736.4 352.2 738.1 354.8 737.2 358 735.5 360.3 732.1 360.2 728.6 359.9 728.1 361 730.3 364 732.1 367.6 733.8 370 736.7 372.4 733.8 375.8 731.5 379.2 730.8 383.5 732.9 387 736.2 388.7 734.9 391.2 731.5 392.4 729.4 396.2 727.3 400.6 727.2 408M845.2 430.7 849.4 426.2 854.6 422.6 859.7 419.8 866.5 418.1 874.4 417.2M859.3 373 861 370.4 863.9 369 865.7 370.3 864.3 372.9 862.3 374.6 859.7 374.1 859.3 373M861.9 377.1 865.3 378.1" fill="none" stroke="#000" stroke-width="1.2" stroke-linejoin="round"/>
<path d="M861.9 377.1 865.3 378.1M850.3 339.1 852.6 338.4" fill="none" stroke="#000" stroke-width="1.9" stroke-linecap="round"/>
<path d="M696.8 274 724.8 275.6 752.8 276.5 780.8 276.8 808.8 276.5 836.8 275.6 864.8 274 875.2 429 843.8 430.8 812.3 431.8 780.8 432.2 749.3 431.8 717.8 430.8 686.4 429Z" fill="none" stroke="#2e2e2e" stroke-width="1.15"/>
<g opacity=".82">
<text x="691.5" y="305.7" class="tk" text-anchor="end">42.5<tspan dy="-2.2" font-size="4.5">°</tspan><tspan dy="2.2"> N</tspan></text>
<text x="688.3" y="354.1" class="tk" text-anchor="end">40.0<tspan dy="-2.2" font-size="4.5">°</tspan><tspan dy="2.2"> N</tspan></text>
<text x="685" y="402.5" class="tk" text-anchor="end">37.5<tspan dy="-2.2" font-size="4.5">°</tspan><tspan dy="2.2"> N</tspan></text>
</g>
<text x="780.8" y="268.8" class="ti" text-anchor="middle">1960</text></g>
<g><g filter="url(#bl)">
<path fill="#00ff80" stroke="#00ff80" stroke-width=".7" d="M1103.4 362.3 1118.4 361.8 1118.8 371.5 1103.7 372ZM1096.2 372.3 1103.7 372 1104.1 381.7 1096.5 382ZM1088.8 382.2 1096.5 382 1096.7 391.7 1089.1 391.9ZM1081.6 401.7 1089.3 401.6 1089.5 411.3 1081.7 411.4ZM1089.5 411.3 1097.3 411.1 1097.5 420.8 1089.7 421Z"/>
<path fill="#00d595" stroke="#00d595" stroke-width=".7" d="M1058.4 324.3 1065.7 324.2 1065.7 333.9 1058.4 334ZM1043.7 333.9 1065.7 333.9 1065.8 343.6 1043.6 343.6ZM1036.2 343.5 1058.4 343.7 1058.4 353.4 1036.1 353.2ZM1110.5 352.4 1118 352.1 1118.4 361.8 1110.9 362.1ZM1095.9 362.6 1103.4 362.3 1103.7 372 1096.2 372.3ZM1081.4 392 1089.1 391.9 1089.3 401.6 1081.6 401.7Z"/>
<path fill="#00aaaa" stroke="#00aaaa" stroke-width=".7" d="M1051.3 285.4 1072.5 285.3 1072.6 295 1051.3 295.1ZM1072.6 295 1079.8 294.9 1079.9 304.7 1072.8 304.8ZM1058.4 314.5 1072.9 314.5 1073 324.2 1058.4 324.3ZM1036.5 324.1 1058.4 324.3 1058.4 334 1036.4 333.8ZM1065.7 324.2 1080.3 324.1 1080.4 333.8 1065.7 333.9ZM1029 333.6 1043.7 333.9 1043.6 343.6 1028.8 343.3ZM1065.7 333.9 1080.4 333.8 1080.6 343.5 1065.8 343.6ZM1028.8 343.3 1036.2 343.5 1036.1 353.2 1028.6 353ZM1058.4 343.7 1065.8 343.6 1065.8 353.4 1058.4 353.4ZM1117.5 342.4 1124.9 342 1125.4 351.7 1118 352.1ZM1036.1 353.2 1051 353.4 1050.9 363.1 1035.9 362.9ZM1073.3 353.3 1080.7 353.2 1080.9 362.9 1073.4 363ZM1088.2 353 1110.5 352.4 1110.9 362.1 1088.4 362.8ZM1088.4 362.8 1095.9 362.6 1096.2 372.3 1088.6 372.5ZM1088.6 372.5 1096.2 372.3 1096.5 382 1088.8 382.2ZM1081.2 382.3 1088.8 382.2 1089.1 391.9 1081.4 392ZM1073.7 392.1 1081.4 392 1081.6 401.7 1073.8 401.8ZM1073.8 401.8 1081.6 401.7 1081.7 411.4 1074 411.5ZM1066.2 411.6 1081.7 411.4 1081.9 421.1 1066.2 421.3Z"/>
<path fill="#0080bf" stroke="#0080bf" stroke-width=".7" d="M1030.3 275.4 1044.4 275.6 1044.3 285.3 1030.1 285.1ZM1030.1 285.1 1051.3 285.4 1051.3 295.1 1029.9 294.8ZM1072.5 285.3 1093.7 284.9 1094 294.6 1072.6 295ZM1029.9 294.8 1072.6 295 1072.8 304.8 1029.7 304.5ZM1079.8 294.9 1094 294.6 1094.3 304.3 1079.9 304.7ZM1029.7 304.5 1051.2 304.8 1051.2 314.5 1029.5 314.2ZM1058.4 304.8 1087.1 304.5 1087.3 314.2 1058.4 314.5ZM1029.5 314.2 1058.4 314.5 1058.4 324.3 1029.3 323.9ZM1072.9 314.5 1080.1 314.4 1080.3 324.1 1073 324.2ZM1014.7 323.5 1036.5 324.1 1036.4 333.8 1014.4 333.2ZM1014.4 333.2 1029 333.6 1028.8 343.3 1014 342.9ZM1080.4 333.8 1095.1 333.5 1095.4 343.2 1080.6 343.5ZM1021.4 343.2 1028.8 343.3 1028.6 353 1021.2 352.9ZM1065.8 343.6 1117.5 342.4 1118 352.1 1065.8 353.4ZM1013.7 352.6 1036.1 353.2 1035.9 362.9 1013.4 362.3ZM1051 353.4 1073.3 353.3 1073.4 363 1050.9 363.1ZM1080.7 353.2 1088.2 353 1088.4 362.8 1080.9 362.9ZM975.9 360.6 983.4 361 982.9 370.7 975.3 370.3ZM1005.9 362.1 1043.4 363 1043.3 372.7 1005.5 371.8ZM975.3 370.3 982.9 370.7 982.3 380.4 974.7 379.9ZM1081.1 372.6 1088.6 372.5 1088.8 382.2 1081.2 382.3ZM1073.6 382.4 1081.2 382.3 1081.4 392 1073.7 392.1ZM1066.1 392.2 1073.7 392.1 1073.8 401.8 1066.1 401.9ZM1058.4 401.9 1073.8 401.8 1074 411.5 1058.4 411.6ZM1058.4 411.6 1066.2 411.6 1066.2 421.3 1058.4 421.3Z"/>
<path fill="#0055d5" stroke="#0055d5" stroke-width=".7" d="M1023.3 275.2 1030.3 275.4 1030.1 285.1 1023.1 284.9ZM1023.1 284.9 1030.1 285.1 1029.9 294.8 1022.8 294.6ZM1015.7 294.4 1029.9 294.8 1029.7 304.5 1015.3 304.1ZM1094 294.6 1108.2 294.2 1108.6 303.9 1094.3 304.3ZM1008.2 303.9 1029.7 304.5 1029.5 314.2 1007.8 313.6ZM1051.2 304.8 1058.4 304.8 1058.4 314.5 1051.2 314.5ZM1087.1 304.5 1101.5 304.1 1101.8 313.8 1087.3 314.2ZM1007.8 313.6 1029.5 314.2 1029.3 323.9 1007.4 323.3ZM1080.1 314.4 1101.8 313.8 1102.1 323.5 1080.3 324.1ZM1109 313.6 1116.2 313.3 1116.7 323 1109.4 323.3ZM1123.5 312.9 1137.9 312.1 1138.5 321.8 1123.9 322.6ZM1080.3 324.1 1109.4 323.3 1138.5 321.8 1139.1 331.5 1109.8 333 1080.4 333.8ZM985 331.9 1014.4 333.2 1014 342.9 984.5 341.6ZM1095.1 333.5 1117.1 332.7 1117.5 342.4 1095.4 343.2ZM984.5 341.6 1021.4 343.2 1021.2 352.9 983.9 351.3ZM976.5 350.9 1013.7 352.6 1013.4 362.3 975.9 360.6ZM983.4 361 1005.9 362.1 1005.5 371.8 982.9 370.7ZM1043.4 363 1058.4 363.1 1058.4 372.8 1043.3 372.7ZM1065.9 363.1 1080.9 362.9 1081.1 372.6 1066 372.8ZM982.9 370.7 1035.7 372.6 1035.6 382.3 982.3 380.4ZM1073.5 372.7 1081.1 372.6 1081.2 382.3 1073.6 382.4ZM974.7 379.9 1028 382.2 1027.7 391.9 974.1 389.6ZM1066 382.5 1073.6 382.4 1073.7 392.1 1066.1 392.2ZM981.8 390.1 997.1 390.9 996.6 400.6 981.2 399.8ZM1050.7 392.2 1066.1 392.2 1066.1 401.9 1050.7 401.9ZM981.2 399.8 1004.4 400.9 1004 410.6 980.7 409.5ZM1043 401.8 1058.4 401.9 1058.4 411.6 1042.8 411.5ZM1035.1 411.4 1058.4 411.6 1058.4 421.3 1034.9 421.1ZM1019.3 420.8 1027.1 421 1026.9 430.7 1019 430.5Z"/>
<path fill="#002bea" stroke="#002bea" stroke-width=".7" d="M995.3 274.1 1023.3 275.2 1023.1 284.9 994.8 283.8ZM980.7 283 1023.1 284.9 1022.8 294.6 980.1 292.7ZM980.1 292.7 1015.7 294.4 1015.3 304.1 979.5 302.4ZM1108.2 294.2 1136.7 292.7 1137.3 302.4 1108.6 303.9ZM986.7 302.8 1008.2 303.9 1007.8 313.6 986.1 312.5ZM1101.5 304.1 1137.3 302.4 1137.9 312.1 1101.8 313.8ZM986.1 312.5 1007.8 313.6 1007.4 323.3 985.6 322.2ZM1101.8 313.8 1109 313.6 1109.4 323.3 1102.1 323.5ZM1116.2 313.3 1123.5 312.9 1123.9 322.6 1116.7 323ZM985.6 322.2 1014.7 323.5 1014.4 333.2 985 331.9ZM1117.1 332.7 1131.8 331.9 1132.3 341.6 1117.5 342.4ZM1058.4 363.1 1065.9 363.1 1066 372.8 1058.4 372.8ZM1080.9 362.9 1088.4 362.8 1088.6 372.5 1081.1 372.6ZM1035.7 372.6 1073.5 372.7 1073.6 382.4 1035.6 382.3ZM1028 382.2 1066 382.5 1066.1 392.2 1027.7 391.9ZM997.1 390.9 1050.7 392.2 1050.7 401.9 996.6 400.6ZM1004.4 400.9 1043 401.8 1042.8 411.5 1004 410.6ZM1019.5 411.1 1035.1 411.4 1034.9 421.1 1019.3 420.8ZM1027.1 421 1042.7 421.3 1042.6 431 1026.9 430.7Z"/>
</g>
<path d="M1009.3 274.8 1003.2 430M1044.4 275.6 1042.6 431M1079.4 275.5 1082.1 430.9M1114.5 274.5 1121.5 429.7M965.8 398.8 996.6 400.6 1027.5 401.6 1058.4 401.9 1089.3 401.6 1120.2 400.6 1151 398.8M969.1 350.4 998.8 352.1 1028.6 353 1058.4 353.4 1088.2 353 1118 352.1 1147.7 350.4M972.3 302 1001 303.6 1029.7 304.5 1058.4 304.8 1087.1 304.5 1115.8 303.6 1144.5 302" fill="none" stroke="#c8c8c8" stroke-opacity=".3" stroke-width=".6" stroke-dasharray="1 1"/>
<path d="M1092.1 286.5 1088.6 287.4 1084.3 288.6 1080.9 288.1 1077.5 286.8 1074.1 287.3 1071.4 288.6 1067.2 287.3 1064.6 285.2 1060.4 286.4 1057.6 287 1052.3 287.3 1047.2 286.7 1043.8 285.7 1038.6 284.5 1035.2 283.8 1032.7 282.4 1029.3 284.7 1024.9 283.8 1020.7 283.7 1016.4 284.7 1013 282.9 1010.5 281 1007.9 279.6 1004.5 279.2 1001.9 280.5 999.3 282.1 998.1 284.2 999.3 286.8 995.8 285.8 992.4 286.8 989.1 288 985.7 290.1 983.4 292.3 983 294.8 985.2 296.5 986.5 298.4 989 299.5 990.4 300.9 987.3 301.7 989.1 303.7 991.1 306 991.6 307.6 989.1 308.4 988.7 311.1 988.2 313.6 989.1 317 989.5 322.1 990.3 328.9 990.4 336.7 988.9 338.9 987.7 343.3 986.5 348.3 984.3 353.5 982.2 358.6 979.6 362.3 977.5 364.6 977.1 368.8 975.7 373 975.4 375.7 977.8 376.4 981.2 375.7 983.8 373.1 984.7 371 987.3 368.8 984.7 373.1 983 376 981.3 377.4 979.6 379.1 980 381.2 983.1 380.8 985.5 380.4 987.7 382.4 985.5 383.3 985.2 386.8 984.6 391 985.6 396.1 984.3 400.3 983 404.5 981.7 408.8 983.9 407.9 987.7 407.1 991.5 407.9 995 408.8 997.9 410.1 1000.9 408.9 1004.7 406.9 1008.6 406.3 1012 406.8 1015.6 408.5 1018.9 411.5 1021.5 414.4 1023.2 413.1 1025.8 410.1 1023.2 413.1 1021.5 414.4 1020.6 417.3 1023.2 419.9 1025 423.3 1028.4 426.7 1031.8 429.2 1034 430.6 1036.5 428.4 1038.1 425.5 1040.4 422.4 1043.8 421.3 1047.1 421.1 1050.6 419 1054 416.9 1056.1 416.3 1061.2 416.1 1066.4 416.9 1071.5 416 1076.7 416.6 1079.2 416.9 1080.8 414.4 1084.3 413.9 1087 416 1089.9 413 1091.6 409.7 1093 406.4 1095.5 403.4 1098.8 400.4 1102.3 399.1 1105.7 399.6 1108.3 397.7 1107.4 395.2 1109.1 390.9 1110.8 386.8 1113.4 383 1116.8 380.3 1120.2 378.6 1121.9 376 1119.9 373.9 1117.2 372.7 1115.6 368.9 1114.3 363.7 1114.3 360.4 1116.1 356 1118.1 351.9 1120.7 347.5 1123.7 343.2 1125.8 339.6 1128 338.3 1130.1 337.1 1128.8 336.4 1129.7 333.8 1132.3 330.7 1136.6 328.5 1140.9 327.3 1145.1 326.1 1146.1 325.6M1092.1 286.5 1093.7 289.4 1095.4 289.9 1095 293.6 1098 294.1 1102.3 295 1106.5 297.5 1110.8 297.5 1115.2 299.3 1120.3 298.9 1124.6 299.2 1125.9 296.3 1129.7 297.6 1134.9 298.3 1137 300.1 1136.2 302.7 1138.2 303.5 1140.9 301.8 1140.5 300.1 1137 300.1 1140.5 300.1 1140.9 301.8 1143.4 302.6 1144.6 304.5M1092.1 286.5 1093.7 283.6 1094.6 280 1095.4 275.2M988.2 313.6 989.9 312.7 994.2 311 997.7 310.6 998.4 312.8 999.3 316.1 1001.9 315.3 1006.1 316.2 1009.5 316.9 1013 314.9 1017.3 314.5 1021.5 314.8 1021.5 318.7 1023.2 320.5 1026.7 322.1 1025 325.6 1021.6 328 1018.1 330.6 1015.6 332.3 1017.2 335.7 1017.2 340.9 1016.5 345.9 1013.8 348.6 1013.9 351.1 1015.6 353.7 1014.8 356.9 1013 359.2 1009.6 359.1 1006.2 358.8 1005.7 359.9 1007.8 362.9 1009.6 366.5 1011.4 368.9 1014.3 371.3 1011.3 374.7 1009.1 378.1 1008.3 382.4 1010.5 385.9 1013.8 387.6 1012.5 390.1 1009 391.3 1006.9 395.1 1004.9 399.5 1004.7 406.9M1122.9 429.6 1127.1 425.1 1132.2 421.5 1137.4 418.7 1144.2 417 1152.2 416.1M1137 371.9 1138.7 369.3 1141.6 367.9 1143.4 369.2 1142 371.8 1140 373.5 1137.4 373 1137 371.9M1139.6 376 1143 377" fill="none" stroke="#000" stroke-width="1.2" stroke-linejoin="round"/>
<path d="M1139.6 376 1143 377M1128 338 1130.3 337.3" fill="none" stroke="#000" stroke-width="1.9" stroke-linecap="round"/>
<path d="M974.3 272.9 1002.3 274.5 1030.3 275.4 1058.4 275.7 1086.5 275.4 1114.5 274.5 1142.5 272.9 1152.9 427.9 1121.5 429.7 1089.9 430.7 1058.4 431.1 1026.9 430.7 995.3 429.7 963.9 427.9Z" fill="none" stroke="#2e2e2e" stroke-width="1.15"/>
<g opacity=".82">
<text x="969" y="304.6" class="tk" text-anchor="end">42.5<tspan dy="-2.2" font-size="4.5">°</tspan><tspan dy="2.2"> N</tspan></text>
<text x="965.8" y="353" class="tk" text-anchor="end">40.0<tspan dy="-2.2" font-size="4.5">°</tspan><tspan dy="2.2"> N</tspan></text>
<text x="962.5" y="401.4" class="tk" text-anchor="end">37.5<tspan dy="-2.2" font-size="4.5">°</tspan><tspan dy="2.2"> N</tspan></text>
</g>
<text x="1058.4" y="267.7" class="ti" text-anchor="middle">1969</text></g>
<g><g filter="url(#bl)">
<path fill="#00ff80" stroke="#00ff80" stroke-width=".7" d="M207.5 478.5 221.5 478.5 221.6 488.2 207.4 488.2ZM235.6 478.3 242.7 478.2 242.9 487.9 235.8 488ZM221.6 488.2 242.9 487.9 243.1 497.6 221.7 497.9ZM267.2 564.9 274.7 564.6 275.2 574.3 267.6 574.6ZM252.4 575.1 267.6 574.6 268 584.3 252.7 584.8ZM252.7 584.8 260.3 584.5 260.7 594.3 253 594.5Z"/>
<path fill="#00d595" stroke="#00d595" stroke-width=".7" d="M186.5 468.5 200.5 468.7 200.4 478.4 186.3 478.2ZM200.4 478.4 207.5 478.5 207.4 488.2 200.3 488.1ZM242.7 478.2 249.7 478 250 487.7 242.9 487.9ZM207.4 488.2 221.6 488.2 221.7 497.9 207.3 497.9ZM214.5 497.9 236 497.8 236.1 507.5 214.5 507.6ZM259.4 555.4 274.3 554.9 274.7 564.6 259.7 565.1ZM259.7 565.1 267.2 564.9 267.6 574.6 260 574.8ZM237.6 594.8 253 594.5 253.2 604.2 237.7 604.5ZM237.7 604.5 253.2 604.2 253.5 613.9 237.9 614.2Z"/>
<path fill="#00aaaa" stroke="#00aaaa" stroke-width=".7" d="M151.6 467.2 186.5 468.5 186.3 478.2 151.1 476.9ZM137.1 476.1 165.2 477.6 164.8 487.3 136.5 485.8ZM172.3 477.8 200.4 478.4 200.3 488.1 171.9 487.5ZM136.5 485.8 157.7 487 157.3 496.7 135.9 495.5ZM186.1 487.9 207.4 488.2 207.3 497.9 185.9 497.6ZM242.9 487.9 250 487.7 250.3 497.4 243.1 497.6ZM143 495.9 150.2 496.3 149.7 506 142.5 505.6ZM193 497.8 214.5 497.9 214.5 507.6 192.9 507.5ZM236 497.8 243.1 497.6 243.3 507.3 236.1 507.5ZM142.5 505.6 149.7 506 149.2 515.7 141.9 515.3ZM192.9 507.5 236.1 507.5 236.3 517.2 192.7 517.2ZM141.9 515.3 149.2 515.7 148.7 525.4 141.4 525ZM185.5 517 236.3 517.2 236.4 526.9 185.2 526.7ZM141.4 525 148.7 525.4 148.2 535.1 140.9 534.7ZM192.6 526.9 221.8 527 221.9 536.7 192.4 536.6ZM140.9 534.7 148.2 535.1 147.7 544.8 140.3 544.4ZM185 536.4 214.5 536.8 214.5 546.5 184.8 546.1ZM252.2 565.4 259.7 565.1 260 574.8 252.4 575.1ZM244.8 575.3 252.4 575.1 252.7 584.8 245.1 585ZM245.1 585 252.7 584.8 253 594.5 245.3 594.7Z"/>
<path fill="#0080bf" stroke="#0080bf" stroke-width=".7" d="M165.2 477.6 172.3 477.8 171.9 487.5 164.8 487.3ZM157.7 487 186.1 487.9 185.9 497.6 157.3 496.7ZM250 487.7 257.1 487.5 257.4 497.2 250.3 497.4ZM150.2 496.3 193 497.8 192.9 507.5 149.7 506ZM243.1 497.6 250.3 497.4 250.5 507.1 243.3 507.3ZM286 495.9 293.1 495.5 293.7 505.2 286.5 505.6ZM149.7 506 192.9 507.5 192.7 517.2 149.2 515.7ZM149.2 515.7 185.5 517 185.2 526.7 148.7 525.4ZM236.3 517.2 243.5 517 243.8 526.7 236.4 526.9ZM148.7 525.4 192.6 526.9 192.4 536.6 148.2 535.1ZM221.8 527 243.8 526.7 244 536.4 221.9 536.7ZM148.2 535.1 185 536.4 184.8 546.1 147.7 544.8ZM214.5 536.8 229.2 536.7 229.3 546.4 214.5 546.5ZM236.6 536.6 244 536.4 244.2 546.1 236.8 546.3ZM266.1 535.8 280.8 535.1 281.3 544.8 266.4 545.5ZM132.9 544 173.7 545.9 214.5 546.5 214.5 556.2 173.4 555.6 132.3 553.7ZM251.6 546 273.9 545.2 274.3 554.9 251.9 555.7ZM132.3 553.7 177.1 555.7 176.8 565.4 131.7 563.4ZM184.6 555.9 192.1 556 191.9 565.7 184.4 565.6ZM251.9 555.7 259.4 555.4 259.7 565.1 252.2 565.4ZM131.7 563.4 154.3 564.6 153.8 574.3 131.1 573ZM244.6 565.6 252.2 565.4 252.4 575.1 244.8 575.3ZM131.1 573 146.3 573.9 145.8 583.6 130.5 582.7ZM237.3 575.4 244.8 575.3 245.1 585 237.4 585.1Z"/>
<path fill="#0055d5" stroke="#0055d5" stroke-width=".7" d="M285.4 486.2 292.5 485.8 293.1 495.5 286 495.9ZM250.3 497.4 264.5 497 264.9 506.7 250.5 507.1ZM278.8 496.3 286 495.9 286.5 505.6 279.3 506ZM236.1 507.5 250.5 507.1 250.8 516.8 236.3 517.2ZM279.3 506 293.7 505.2 294.3 514.9 279.8 515.7ZM279.8 515.7 294.3 514.9 294.9 524.6 280.3 525.4ZM265.7 526.1 273 525.8 273.4 535.5 266.1 535.8ZM280.3 525.4 287.6 525 288.1 534.7 280.8 535.1ZM229.2 536.7 236.6 536.6 236.8 546.3 229.3 546.4ZM258.7 536 266.1 535.8 266.4 545.5 259 545.7ZM214.5 546.5 236.8 546.3 236.9 556 214.5 556.2ZM244.2 546.1 251.6 546 251.9 555.7 244.4 555.9ZM177.1 555.7 184.6 555.9 184.4 565.6 176.8 565.4ZM192.1 556 214.5 556.2 214.5 565.9 191.9 565.7ZM236.9 556 251.9 555.7 252.2 565.4 237.1 565.7ZM154.3 564.6 199.4 565.8 199.3 575.5 153.8 574.3ZM207 565.9 214.5 565.9 214.5 575.6 206.9 575.6ZM237.1 565.7 244.6 565.6 244.8 575.3 237.3 575.4ZM146.3 573.9 169 574.8 168.7 584.5 145.8 583.6ZM229.7 575.5 237.3 575.4 237.4 585.1 229.8 585.2ZM138.1 583.2 153.4 584 153 593.7 137.6 592.9ZM222.1 585.3 245.1 585 245.3 594.7 222.2 595ZM137.6 592.9 145.3 593.3 144.8 603 137.1 602.6ZM214.5 595 237.6 594.8 237.7 604.5 214.5 604.7ZM191.3 604.5 237.7 604.5 237.9 614.2 191.1 614.2ZM183.3 614.1 198.9 614.4 198.8 624.1 183.1 623.8Z"/>
<path fill="#002bea" stroke="#002bea" stroke-width=".7" d="M257.1 487.5 285.4 486.2 286 495.9 257.4 497.2ZM264.5 497 278.8 496.3 279.3 506 264.9 506.7ZM250.5 507.1 279.3 506 279.8 515.7 250.8 516.8ZM243.5 517 279.8 515.7 280.3 525.4 243.8 526.7ZM243.8 526.7 265.7 526.1 266.1 535.8 244 536.4ZM273 525.8 280.3 525.4 280.8 535.1 273.4 535.5ZM244 536.4 258.7 536 259 545.7 244.2 546.1ZM236.8 546.3 244.2 546.1 244.4 555.9 236.9 556ZM214.5 556.2 236.9 556 237.1 565.7 214.5 565.9ZM199.4 565.8 207 565.9 206.9 575.6 199.3 575.5ZM214.5 565.9 237.1 565.7 237.3 575.4 214.5 575.6ZM169 574.8 199.3 575.5 229.7 575.5 229.8 585.2 199.2 585.2 168.7 584.5ZM153.4 584 187.8 585.1 222.1 585.3 222.2 595 187.6 594.8 153 593.7ZM145.3 593.3 179.9 594.6 214.5 595 214.5 604.7 179.6 604.3 144.8 603ZM175.8 604.2 191.3 604.5 191.1 614.2 175.5 613.9ZM175.5 613.9 183.3 614.1 183.1 623.8 175.2 623.6Z"/>
</g>
<path d="M165.6 467.9 159.5 623.1M200.5 468.7 198.8 624.1M235.5 468.6 238.1 624M270.4 467.6 277.3 622.8M122.2 591.9 153 593.7 183.7 594.7 214.5 595 245.3 594.7 276 593.7 306.8 591.9M125.5 543.5 155.1 545.2 184.8 546.1 214.5 546.5 244.2 546.1 273.9 545.2 303.5 543.5M128.7 495.1 157.3 496.7 185.9 497.6 214.5 497.9 243.1 497.6 271.7 496.7 300.3 495.1" fill="none" stroke="#c8c8c8" stroke-opacity=".3" stroke-width=".6" stroke-dasharray="1 1"/>
<path d="M248.1 479.6 244.6 480.5 240.3 481.7 236.9 481.2 233.5 479.9 230.2 480.4 227.5 481.7 223.2 480.4 220.7 478.3 216.5 479.5 213.7 480.1 208.4 480.4 203.4 479.8 200 478.8 194.8 477.6 191.4 476.9 188.9 475.5 185.5 477.8 181.2 476.9 176.9 476.8 172.7 477.8 169.2 476 166.8 474.1 164.1 472.7 160.8 472.3 158.2 473.6 155.6 475.2 154.4 477.3 155.7 479.9 152.2 478.9 148.7 479.9 145.4 481.1 142 483.2 139.8 485.4 139.3 487.9 141.5 489.6 142.8 491.5 145.4 492.6 146.7 494 143.7 494.8 145.4 496.8 147.4 499.1 147.9 500.7 145.4 501.5 145 504.2 144.6 506.7 145.4 510.1 145.9 515.2 146.7 522 146.7 529.8 145.3 532 144 536.4 142.9 541.4 140.6 546.6 138.6 551.7 135.9 555.4 133.9 557.7 133.5 561.9 132.1 566.1 131.8 568.8 134.2 569.5 137.6 568.8 140.2 566.2 141 564.1 143.7 561.9 141.1 566.2 139.4 569.1 137.6 570.5 136 572.2 136.4 574.3 139.4 573.9 141.9 573.5 144 575.5 141.9 576.4 141.5 579.9 141 584.1 142 589.2 140.7 593.4 139.3 597.6 138 601.9 140.2 601 144 600.2 147.8 601 151.4 601.9 154.2 603.2 157.2 602 161 600 164.9 599.4 168.3 599.9 171.8 601.6 175.1 604.6 177.7 607.5 179.4 606.2 182 603.2 179.4 606.2 177.7 607.5 176.8 610.4 179.4 613 181.2 616.4 184.6 619.8 188 622.3 190.1 623.7 192.7 621.5 194.3 618.6 196.5 615.5 200 614.4 203.3 614.2 206.7 612.1 210.1 610 212.2 609.4 217.3 609.2 222.4 610 227.6 609.1 232.7 609.7 235.2 610 236.9 607.5 240.3 607 243 609.1 245.8 606.1 247.6 602.8 248.9 599.5 251.5 596.5 254.8 593.5 258.3 592.2 261.7 592.7 264.2 590.8 263.4 588.3 265 584 266.7 579.9 269.3 576.1 272.7 573.4 276.1 571.7 277.8 569.1 275.7 567 273.1 565.8 271.5 562 270.2 556.8 270.2 553.5 272 549.1 274 545 276.6 540.6 279.5 536.3 281.7 532.7 283.8 531.4 286 530.2 284.6 529.5 285.5 526.9 288.1 523.8 292.4 521.6 296.7 520.4 300.8 519.2 301.8 518.7M248.1 479.6 249.7 482.5 251.4 483 250.9 486.7 253.9 487.2 258.2 488.1 262.4 490.6 266.7 490.6 271.1 492.4 276.2 492 280.5 492.3 281.8 489.4 285.5 490.7 290.7 491.4 292.8 493.2 292 495.8 294 496.6 296.7 494.9 296.3 493.2 292.8 493.2 296.3 493.2 296.7 494.9 299.1 495.7 300.4 497.6M248.1 479.6 249.7 476.7 250.6 473.1 251.4 468.3M144.6 506.7 146.2 505.8 150.5 504.1 154 503.7 154.7 505.9 155.6 509.2 158.2 508.4 162.4 509.3 165.8 510 169.2 508 173.6 507.6 177.7 507.9 177.8 511.8 179.5 513.6 182.9 515.2 181.2 518.7 177.8 521.1 174.4 523.7 171.8 525.4 173.5 528.8 173.5 534 172.7 539 170.1 541.7 170.2 544.2 171.9 546.8 171 550 169.3 552.3 165.9 552.2 162.5 551.9 162 553 164.1 556 165.9 559.6 167.6 562 170.6 564.4 167.6 567.8 165.3 571.2 164.6 575.5 166.7 579 170 580.7 168.7 583.2 165.3 584.4 163.2 588.2 161.2 592.6 161 600M278.7 622.7 282.9 618.2 288.1 614.6 293.2 611.8 300 610.1 307.9 609.2M292.9 565 294.5 562.4 297.4 561 299.2 562.3 297.8 564.9 295.8 566.6 293.2 566.1 292.9 565M295.4 569.1 298.8 570.1" fill="none" stroke="#000" stroke-width="1.2" stroke-linejoin="round"/>
<path d="M295.4 569.1 298.8 570.1M283.8 531.1 286.1 530.4" fill="none" stroke="#000" stroke-width="1.9" stroke-linecap="round"/>
<path d="M130.7 466 158.6 467.6 186.5 468.5 214.5 468.8 242.5 468.5 270.4 467.6 298.3 466 308.7 621 277.3 622.8 245.9 623.8 214.5 624.2 183.1 623.8 151.7 622.8 120.3 621Z" fill="none" stroke="#2e2e2e" stroke-width="1.15"/>
<g opacity=".82">
<text x="125.4" y="497.7" class="tk" text-anchor="end">42.5<tspan dy="-2.2" font-size="4.5">°</tspan><tspan dy="2.2"> N</tspan></text>
<text x="122.2" y="546.1" class="tk" text-anchor="end">40.0<tspan dy="-2.2" font-size="4.5">°</tspan><tspan dy="2.2"> N</tspan></text>
<text x="118.9" y="594.5" class="tk" text-anchor="end">37.5<tspan dy="-2.2" font-size="4.5">°</tspan><tspan dy="2.2"> N</tspan></text>
</g>
<text x="214.5" y="460.8" class="ti" text-anchor="middle">1969</text></g>
<g><g filter="url(#bl)">
<path fill="#00ff80" stroke="#00ff80" stroke-width=".7" d="M573 495.9 580.1 495.5 580.7 505.2 573.5 505.6ZM553.8 555.2 561.3 554.9 561.7 564.6 554.2 564.9ZM539.4 575.1 554.6 574.6 555 584.3 539.7 584.8ZM547.3 584.5 555 584.3 555.3 594 547.7 594.3Z"/>
<path fill="#00d595" stroke="#00d595" stroke-width=".7" d="M572.4 486.2 579.5 485.8 580.1 495.5 573 495.9ZM545.4 526.3 560 525.8 560.4 535.5 545.7 536ZM538.3 536.3 560.4 535.5 560.9 545.2 538.6 546ZM538.6 546 560.9 545.2 561.3 554.9 538.9 555.7ZM538.9 555.7 553.8 555.2 554.2 564.9 539.2 565.4ZM539.2 565.4 561.7 564.6 562.2 574.3 539.4 575.1ZM531.8 575.3 539.4 575.1 539.7 584.8 532.1 585ZM554.6 574.6 562.2 574.3 562.6 584 555 584.3ZM516.8 585.2 547.3 584.5 547.7 594.3 516.9 594.9ZM509.2 595 516.9 594.9 517 604.6 509.2 604.7ZM524.6 594.8 540 594.5 540.2 604.2 524.7 604.5Z"/>
<path fill="#00aaaa" stroke="#00aaaa" stroke-width=".7" d="M558.3 487 572.4 486.2 573 495.9 558.7 496.7ZM558.7 496.7 573 495.9 573.5 505.6 559.1 506.4ZM566.3 506 580.7 505.2 581.3 514.9 566.8 515.7ZM545.1 516.6 581.3 514.9 581.9 524.6 545.4 526.3ZM530.8 526.7 545.4 526.3 545.7 536 531 536.4ZM560 525.8 574.6 525 575.1 534.7 560.4 535.5ZM560.4 535.5 567.8 535.1 568.3 544.8 560.9 545.2ZM441.3 564.6 448.8 564.9 448.4 574.6 440.8 574.3ZM531.6 565.6 539.2 565.4 539.4 575.1 531.8 575.3ZM418.1 573 425.7 573.5 425.1 583.2 417.5 582.7ZM501.5 575.6 531.8 575.3 532.1 585 501.5 585.3ZM501.5 595 509.2 595 509.2 604.7 501.5 604.7ZM516.9 594.9 524.6 594.8 524.7 604.5 517 604.6ZM486 604.6 524.7 604.5 524.9 614.2 485.9 614.4Z"/>
<path fill="#0080bf" stroke="#0080bf" stroke-width=".7" d="M515.6 478.4 536.7 478 537 487.7 515.7 488.1ZM515.7 488.1 558.3 487 558.7 496.7 515.8 497.9ZM515.8 497.9 558.7 496.7 559.1 506.4 515.9 507.6ZM537.5 507.1 566.3 506 566.8 515.7 537.8 516.8ZM530.5 517 545.1 516.6 545.4 526.3 530.8 526.7ZM516.1 527 530.8 526.7 531 536.4 516.2 536.7ZM516.2 536.7 538.3 536.3 538.6 546 516.3 546.4ZM531.2 546.1 538.6 546 538.9 555.7 531.4 555.9ZM419.3 553.7 449.2 555.2 479.1 556 478.9 565.7 448.8 564.9 418.7 563.4ZM531.4 555.9 538.9 555.7 539.2 565.4 531.6 565.6ZM418.7 563.4 441.3 564.6 440.8 574.3 418.1 573ZM448.8 564.9 471.4 565.6 471.2 575.3 448.4 574.6ZM486.4 565.8 531.6 565.6 531.8 575.3 486.3 575.5ZM425.7 573.5 471.2 575.3 470.9 585 425.1 583.2ZM478.7 575.4 501.5 575.6 501.5 585.3 478.6 585.1ZM425.1 583.2 448 584.3 447.7 594 424.6 592.9ZM478.6 585.1 516.8 585.2 516.9 594.9 478.4 594.8ZM424.6 592.9 432.3 593.3 431.8 603 424.1 602.6ZM486.1 594.9 501.5 595 501.5 604.7 486 604.6ZM462.8 604.2 486 604.6 485.9 614.4 462.5 613.9ZM524.7 604.5 540.2 604.2 540.5 613.9 524.9 614.2ZM462.5 613.9 485.9 614.4 485.8 624.1 462.2 623.6Z"/>
<path fill="#0055d5" stroke="#0055d5" stroke-width=".7" d="M424.1 476.1 438.1 476.9 437.7 486.6 423.5 485.8ZM501.5 478.5 515.6 478.4 515.7 488.1 501.5 488.2ZM508.6 488.2 515.7 488.1 515.8 497.9 508.7 497.9ZM508.7 497.9 515.8 497.9 515.9 507.6 508.7 507.6ZM501.5 507.6 537.5 507.1 537.8 516.8 501.5 517.4ZM487 517.3 530.5 517 530.8 526.7 486.9 527ZM479.6 526.9 516.1 527 516.2 536.7 479.4 536.6ZM472 536.4 516.2 536.7 516.3 546.4 471.8 546.1ZM419.9 544 471.8 546.1 471.6 555.9 419.3 553.7ZM494.1 546.5 531.2 546.1 531.4 555.9 494 556.2ZM479.1 556 494 556.2 494 565.9 478.9 565.7ZM509 556.2 531.4 555.9 531.6 565.6 509 565.9ZM471.4 565.6 486.4 565.8 486.3 575.5 471.2 575.3ZM471.2 575.3 478.7 575.4 478.6 585.1 470.9 585ZM448 584.3 478.6 585.1 478.4 594.8 447.7 594ZM432.3 593.3 486.1 594.9 486 604.6 431.8 603Z"/>
<path fill="#002bea" stroke="#002bea" stroke-width=".7" d="M480.5 468.6 487.5 468.7 487.4 478.4 480.4 478.3ZM480.4 478.3 501.5 478.5 501.5 488.2 480.2 488ZM423.5 485.8 437.7 486.6 437.2 496.3 422.9 495.5ZM494.4 488.2 508.6 488.2 508.7 497.9 494.3 497.9ZM480 497.8 508.7 497.9 508.7 507.6 479.9 507.5ZM472.7 507.3 501.5 507.6 501.5 517.4 472.5 517ZM465.2 516.8 487 517.3 486.9 527 464.9 526.6ZM457.6 526.3 479.6 526.9 479.4 536.6 457.3 536ZM457.3 536 472 536.4 471.8 546.1 457 545.7ZM471.8 546.1 494.1 546.5 494 556.2 471.6 555.9ZM494 556.2 509 556.2 509 565.9 494 565.9Z"/>
<path fill="#0000ff" stroke="#0000ff" stroke-width=".7" d="M438.6 467.2 480.5 468.6 480.4 478.3 438.1 476.9ZM438.1 476.9 459.3 477.8 458.9 487.5 437.7 486.6ZM466.3 478 480.4 478.3 480.2 488 466 487.7ZM437.7 486.6 451.8 487.3 451.5 497 437.2 496.3ZM466 487.7 494.4 488.2 494.3 497.9 465.7 497.4ZM430 495.9 451.5 497 451.1 506.7 429.5 505.6ZM465.7 497.4 480 497.8 479.9 507.5 465.5 507.1ZM429.5 505.6 451.1 506.7 450.7 516.4 428.9 515.3ZM465.5 507.1 472.7 507.3 472.5 517 465.2 516.8ZM428.9 515.3 465.2 516.8 464.9 526.6 428.4 525ZM428.4 525 457.6 526.3 457.3 536 427.9 534.7ZM427.9 534.7 457.3 536 457 545.7 427.3 544.4Z"/>
<path fill="#bf00bf" stroke="#bf00bf" stroke-width=".7" d="M459.3 477.8 466.3 478 466 487.7 458.9 487.5ZM451.8 487.3 466 487.7 465.7 497.4 451.5 497ZM451.5 497 465.7 497.4 465.5 507.1 451.1 506.7ZM451.1 506.7 465.5 507.1 465.2 516.8 450.7 516.4Z"/>
</g>
<path d="M452.6 467.9 446.5 623.1M487.5 468.7 485.8 624.1M522.5 468.6 525.1 624M557.4 467.6 564.3 622.8M409.2 591.9 440 593.7 470.7 594.7 501.5 595 532.3 594.7 563 593.7 593.8 591.9M412.5 543.5 442.1 545.2 471.8 546.1 501.5 546.5 531.2 546.1 560.9 545.2 590.5 543.5M415.7 495.1 444.3 496.7 472.9 497.6 501.5 497.9 530.1 497.6 558.7 496.7 587.3 495.1" fill="none" stroke="#c8c8c8" stroke-opacity=".3" stroke-width=".6" stroke-dasharray="1 1"/>
<path d="M535.1 479.6 531.6 480.5 527.3 481.7 523.9 481.2 520.5 479.9 517.2 480.4 514.5 481.7 510.2 480.4 507.7 478.3 503.5 479.5 500.7 480.1 495.4 480.4 490.4 479.8 487 478.8 481.8 477.6 478.4 476.9 475.9 475.5 472.5 477.8 468.2 476.9 463.9 476.8 459.7 477.8 456.2 476 453.8 474.1 451.1 472.7 447.8 472.3 445.2 473.6 442.6 475.2 441.4 477.3 442.7 479.9 439.2 478.9 435.7 479.9 432.4 481.1 429 483.2 426.8 485.4 426.3 487.9 428.5 489.6 429.8 491.5 432.4 492.6 433.7 494 430.7 494.8 432.4 496.8 434.4 499.1 434.9 500.7 432.4 501.5 432 504.2 431.6 506.7 432.4 510.1 432.9 515.2 433.7 522 433.7 529.8 432.3 532 431 536.4 429.9 541.4 427.6 546.6 425.6 551.7 422.9 555.4 420.9 557.7 420.5 561.9 419.1 566.1 418.8 568.8 421.2 569.5 424.6 568.8 427.2 566.2 428 564.1 430.7 561.9 428.1 566.2 426.4 569.1 424.6 570.5 423 572.2 423.4 574.3 426.4 573.9 428.9 573.5 431 575.5 428.9 576.4 428.5 579.9 428 584.1 429 589.2 427.7 593.4 426.3 597.6 425 601.9 427.2 601 431 600.2 434.8 601 438.4 601.9 441.2 603.2 444.2 602 448 600 451.9 599.4 455.3 599.9 458.8 601.6 462.1 604.6 464.7 607.5 466.4 606.2 469 603.2 466.4 606.2 464.7 607.5 463.8 610.4 466.4 613 468.2 616.4 471.6 619.8 475 622.3 477.1 623.7 479.7 621.5 481.3 618.6 483.5 615.5 487 614.4 490.3 614.2 493.7 612.1 497.1 610 499.2 609.4 504.3 609.2 509.4 610 514.6 609.1 519.7 609.7 522.2 610 523.9 607.5 527.3 607 530 609.1 532.8 606.1 534.6 602.8 535.9 599.5 538.5 596.5 541.8 593.5 545.3 592.2 548.7 592.7 551.2 590.8 550.4 588.3 552 584 553.7 579.9 556.3 576.1 559.7 573.4 563.1 571.7 564.8 569.1 562.7 567 560.1 565.8 558.5 562 557.2 556.8 557.2 553.5 559 549.1 561 545 563.6 540.6 566.5 536.3 568.7 532.7 570.8 531.4 573 530.2 571.6 529.5 572.5 526.9 575.1 523.8 579.4 521.6 583.7 520.4 587.8 519.2 588.8 518.7M535.1 479.6 536.7 482.5 538.4 483 537.9 486.7 540.9 487.2 545.2 488.1 549.4 490.6 553.7 490.6 558.1 492.4 563.2 492 567.5 492.3 568.8 489.4 572.5 490.7 577.7 491.4 579.8 493.2 579 495.8 581 496.6 583.7 494.9 583.3 493.2 579.8 493.2 583.3 493.2 583.7 494.9 586.1 495.7 587.4 497.6M535.1 479.6 536.7 476.7 537.6 473.1 538.4 468.3M431.6 506.7 433.2 505.8 437.5 504.1 441 503.7 441.7 505.9 442.6 509.2 445.2 508.4 449.4 509.3 452.8 510 456.2 508 460.6 507.6 464.7 507.9 464.8 511.8 466.5 513.6 469.9 515.2 468.2 518.7 464.8 521.1 461.4 523.7 458.8 525.4 460.5 528.8 460.5 534 459.7 539 457.1 541.7 457.2 544.2 458.9 546.8 458 550 456.3 552.3 452.9 552.2 449.5 551.9 449 553 451.1 556 452.9 559.6 454.6 562 457.6 564.4 454.6 567.8 452.3 571.2 451.6 575.5 453.7 579 457 580.7 455.7 583.2 452.3 584.4 450.2 588.2 448.2 592.6 448 600M565.7 622.7 569.9 618.2 575.1 614.6 580.2 611.8 587 610.1 594.9 609.2M579.9 565 581.5 562.4 584.4 561 586.2 562.3 584.8 564.9 582.8 566.6 580.2 566.1 579.9 565M582.4 569.1 585.8 570.1" fill="none" stroke="#000" stroke-width="1.2" stroke-linejoin="round"/>
<path d="M582.4 569.1 585.8 570.1M570.8 531.1 573.1 530.4" fill="none" stroke="#000" stroke-width="1.9" stroke-linecap="round"/>
<path d="M417.7 466 445.6 467.6 473.5 468.5 501.5 468.8 529.5 468.5 557.4 467.6 585.3 466 595.7 621 564.3 622.8 532.9 623.8 501.5 624.2 470.1 623.8 438.7 622.8 407.3 621Z" fill="none" stroke="#2e2e2e" stroke-width="1.15"/>
<g opacity=".82">
<text x="412.4" y="497.7" class="tk" text-anchor="end">42.5<tspan dy="-2.2" font-size="4.5">°</tspan><tspan dy="2.2"> N</tspan></text>
<text x="409.2" y="546.1" class="tk" text-anchor="end">40.0<tspan dy="-2.2" font-size="4.5">°</tspan><tspan dy="2.2"> N</tspan></text>
<text x="405.9" y="594.5" class="tk" text-anchor="end">37.5<tspan dy="-2.2" font-size="4.5">°</tspan><tspan dy="2.2"> N</tspan></text>
</g>
<text x="501.5" y="460.8" class="ti" text-anchor="middle">1971</text></g>
<g><g filter="url(#bl)">
<path fill="#00ff80" stroke="#00ff80" stroke-width=".7" d="M731.8 467.9 738.8 468.1 738.5 477.8 731.4 477.6ZM703.2 476.1 717.3 476.9 716.8 486.6 702.6 485.8ZM738.5 477.8 752.6 478.2 752.3 487.9 738.1 487.5ZM702.6 485.8 709.7 486.2 709.2 495.9 702 495.5ZM773.7 488.2 787.9 488.2 788 497.9 773.6 497.9ZM788 497.9 795.1 497.9 795.2 507.6 788 507.6ZM824.1 506.9 845.8 506 846.3 515.7 824.5 516.6ZM817.2 516.8 824.5 516.6 824.8 526.3 817.5 526.6ZM831.7 516.4 853.5 515.3 854.1 525 832.1 526.1ZM817.5 526.6 832.1 526.1 832.5 535.8 817.7 536.3ZM839.4 525.8 854.1 525 854.6 534.7 839.9 535.5ZM817.7 536.3 847.2 535.1 847.7 544.8 818 546ZM803.6 575.4 811.2 575.3 811.4 585 803.8 585.1ZM811.6 594.7 819.4 594.5 819.6 604.2 811.9 604.4Z"/>
<path fill="#00d595" stroke="#00d595" stroke-width=".7" d="M717.8 467.2 731.8 467.9 731.4 477.6 717.3 476.9ZM717.3 476.9 738.5 477.8 738.1 487.5 716.8 486.6ZM709.7 486.2 738.1 487.5 737.8 497.2 709.2 495.9ZM745.2 487.7 773.7 488.2 773.6 497.9 745 497.4ZM823.5 487.5 830.6 487.3 831 497 823.8 497.2ZM709.2 495.9 716.3 496.3 715.8 506 708.6 505.6ZM823.8 497.2 831 497 831.3 506.7 824.1 506.9ZM708.6 505.6 715.8 506 715.3 515.7 708.1 515.3ZM795.2 507.6 809.7 507.3 809.9 517 795.4 517.3ZM809.9 517 817.2 516.8 817.5 526.6 810.1 526.7ZM853.5 515.3 860.8 514.9 861.4 524.6 854.1 525ZM766.1 527 773.5 527 773.4 536.7 766 536.7ZM766 536.7 773.4 536.7 773.4 546.5 765.9 546.4ZM803.3 556 810.8 555.9 811 565.6 803.4 565.7ZM803.8 585.1 811.4 585 811.6 594.7 803.9 594.8ZM803.9 594.8 811.6 594.7 811.9 604.4 804.1 604.5ZM811.9 604.4 819.6 604.2 819.9 613.9 812.1 614.1Z"/>
<path fill="#00aaaa" stroke="#00aaaa" stroke-width=".7" d="M738.1 487.5 745.2 487.7 745 497.4 737.8 497.2ZM716.3 496.3 752.1 497.6 788 497.9 788 507.6 751.9 507.3 715.8 506ZM831 497 838.1 496.7 838.6 506.4 831.3 506.7ZM715.8 506 730.3 506.7 729.9 516.4 715.3 515.7ZM759.1 507.5 795.2 507.6 795.4 517.3 759 517.2ZM845.8 506 860.2 505.2 860.8 514.9 846.3 515.7ZM708.1 515.3 729.9 516.4 729.5 526.1 707.5 525ZM737.1 516.6 773.5 517.3 773.5 527 736.8 526.3ZM802.6 517.2 809.9 517 810.1 526.7 802.8 526.9ZM707.5 525 722.2 525.8 721.7 535.5 707 534.7ZM729.5 526.1 766.1 527 766 536.7 729.1 535.8ZM810.1 526.7 817.5 526.6 817.7 536.3 810.3 536.4ZM729.1 535.8 766 536.7 765.9 546.4 728.7 545.5ZM810.3 536.4 817.7 536.3 818 546 810.6 546.1ZM699 544 706.4 544.4 705.9 554.1 698.4 553.7ZM743.6 546 765.9 546.4 765.8 556.1 743.3 555.7ZM803.1 546.3 818 546 818.3 555.7 803.3 556ZM698.4 553.7 705.9 554.1 705.3 563.8 697.8 563.4ZM743.3 555.7 758.3 556 758.2 565.7 743.1 565.4ZM697.8 563.4 705.3 563.8 704.8 573.5 697.2 573ZM697.2 573 712.4 573.9 711.9 583.6 696.6 582.7ZM703.7 592.9 719.1 593.7 718.7 603.4 703.2 602.6Z"/>
<path fill="#0080bf" stroke="#0080bf" stroke-width=".7" d="M830.6 487.3 844.8 486.6 845.3 496.3 831 497ZM838.1 496.7 852.4 495.9 853 505.6 838.6 506.4ZM730.3 506.7 759.1 507.5 759 517.2 729.9 516.4ZM729.9 516.4 737.1 516.6 736.8 526.3 729.5 526.1ZM773.5 517.3 802.6 517.2 802.8 526.9 773.5 527ZM722.2 525.8 729.5 526.1 729.1 535.8 721.7 535.5ZM773.5 527 802.8 526.9 803 536.6 773.4 536.7ZM707 534.7 729.1 535.8 728.7 545.5 706.4 544.4ZM773.4 536.7 780.8 536.8 780.8 546.5 773.4 546.5ZM706.4 544.4 743.6 546 743.3 555.7 705.9 554.1ZM765.9 546.4 780.8 546.5 780.8 556.2 765.8 556.1ZM705.9 554.1 743.3 555.7 743.1 565.4 705.3 563.8ZM758.3 556 765.8 556.1 765.7 565.8 758.2 565.7ZM795.8 556.1 803.3 556 803.4 565.7 795.9 565.8ZM705.3 563.8 743.1 565.4 742.8 575.1 704.8 573.5ZM788.3 565.9 803.4 565.7 803.6 575.4 788.4 575.6ZM712.4 573.9 742.8 575.1 742.5 584.8 711.9 583.6ZM788.4 575.6 803.6 575.4 803.8 585.1 788.5 585.3ZM704.3 583.2 742.5 584.8 742.2 594.5 703.7 592.9ZM788.5 585.3 803.8 585.1 803.9 594.8 788.5 595ZM719.1 593.7 750 594.7 749.7 604.4 718.7 603.4ZM757.7 594.8 803.9 594.8 804.1 604.5 757.5 604.5ZM742 604.2 788.6 604.7 788.6 614.4 741.7 613.9ZM796.3 604.6 811.9 604.4 812.1 614.1 796.4 614.4ZM741.7 613.9 765.2 614.4 765 624.1 741.4 623.6Z"/>
<path fill="#0055d5" stroke="#0055d5" stroke-width=".7" d="M844.8 486.6 859 485.8 859.6 495.5 845.3 496.3ZM852.4 495.9 859.6 495.5 860.2 505.2 853 505.6ZM802.8 526.9 810.1 526.7 810.3 536.4 803 536.6ZM780.8 536.8 810.3 536.4 810.6 546.1 780.8 546.5ZM780.8 546.5 803.1 546.3 803.3 556 780.8 556.2ZM765.8 556.1 795.8 556.1 795.9 565.8 765.7 565.8ZM743.1 565.4 788.3 565.9 788.4 575.6 742.8 575.1ZM742.8 575.1 788.4 575.6 788.5 585.3 742.5 584.8ZM742.5 584.8 788.5 585.3 788.5 595 742.2 594.5ZM750 594.7 757.7 594.8 757.5 604.5 749.7 604.4ZM788.6 604.7 796.3 604.6 796.4 614.4 788.6 614.4Z"/>
</g>
<path d="M731.8 467.9 725.7 623.1M766.8 468.7 765 624.1M801.8 468.6 804.4 624M836.8 467.6 843.8 622.8M688.3 591.9 719.1 593.7 750 594.7 780.8 595 811.6 594.7 842.5 593.7 873.3 591.9M691.6 543.5 721.3 545.2 751 546.1 780.8 546.5 810.6 546.1 840.3 545.2 870 543.5M694.8 495.1 723.5 496.7 752.1 497.6 780.8 497.9 809.5 497.6 838.1 496.7 866.8 495.1" fill="none" stroke="#c8c8c8" stroke-opacity=".3" stroke-width=".6" stroke-dasharray="1 1"/>
<path d="M814.4 479.6 810.9 480.5 806.7 481.7 803.3 481.2 799.9 479.9 796.5 480.4 793.8 481.7 789.6 480.4 787 478.3 782.8 479.5 780 480.1 774.7 480.4 769.6 479.8 766.3 478.8 761 477.6 757.7 476.9 755.2 475.5 751.7 477.8 747.4 476.9 743.1 476.8 738.9 477.8 735.4 476 732.9 474.1 730.3 472.7 727 472.3 724.4 473.6 721.8 475.2 720.5 477.3 721.8 479.9 718.3 478.9 714.9 479.9 711.5 481.1 708.2 483.2 705.9 485.4 705.5 487.9 707.6 489.6 709 491.5 711.5 492.6 712.8 494 709.8 494.8 711.5 496.8 713.6 499.1 714.1 500.7 711.6 501.5 711.1 504.2 710.7 506.7 711.6 510.1 712 515.2 712.8 522 712.9 529.8 711.4 532 710.1 536.4 709 541.4 706.8 546.6 704.7 551.7 702.1 555.4 700 557.7 699.6 561.9 698.2 566.1 697.9 568.8 700.3 569.5 703.7 568.8 706.3 566.2 707.1 564.1 709.8 561.9 707.2 566.2 705.5 569.1 703.8 570.5 702.1 572.2 702.5 574.3 705.5 573.9 708 573.5 710.2 575.5 708 576.4 707.7 579.9 707.1 584.1 708.1 589.2 706.8 593.4 705.5 597.6 704.1 601.9 706.4 601 710.1 600.2 714 601 717.5 601.9 720.4 603.2 723.4 602 727.2 600 731.1 599.4 734.5 599.9 738 601.6 741.3 604.6 743.9 607.5 745.6 606.2 748.2 603.2 745.6 606.2 743.9 607.5 743 610.4 745.6 613 747.4 616.4 750.8 619.8 754.2 622.3 756.4 623.7 758.9 621.5 760.6 618.6 762.8 615.5 766.3 614.4 769.5 614.2 773 612.1 776.4 610 778.5 609.4 783.6 609.2 788.8 610 793.9 609.1 799 609.7 801.5 610 803.2 607.5 806.6 607 809.3 609.1 812.2 606.1 814 602.8 815.3 599.5 817.9 596.5 821.2 593.5 824.7 592.2 828.1 592.7 830.6 590.8 829.8 588.3 831.5 584 833.1 579.9 835.7 576.1 839.1 573.4 842.6 571.7 844.3 569.1 842.2 567 839.6 565.8 837.9 562 836.6 556.8 836.6 553.5 838.4 549.1 840.4 545 843.1 540.6 846 536.3 848.2 532.7 850.3 531.4 852.5 530.2 851.1 529.5 852 526.9 854.6 523.8 858.9 521.6 863.2 520.4 867.4 519.2 868.3 518.7M814.4 479.6 816.1 482.5 817.8 483 817.3 486.7 820.3 487.2 824.6 488.1 828.9 490.6 833.1 490.6 837.5 492.4 842.6 492 846.9 492.3 848.2 489.4 852 490.7 857.2 491.4 859.3 493.2 858.5 495.8 860.5 496.6 863.2 494.9 862.8 493.2 859.3 493.2 862.8 493.2 863.2 494.9 865.7 495.7 866.9 497.6M814.4 479.6 816.1 476.7 816.9 473.1 817.8 468.3M710.7 506.7 712.4 505.8 716.6 504.1 720.1 503.7 720.9 505.9 721.7 509.2 724.4 508.4 728.6 509.3 732 510 735.4 508 739.8 507.6 743.9 507.9 744 511.8 745.7 513.6 749.1 515.2 747.4 518.7 744 521.1 740.6 523.7 738 525.4 739.7 528.8 739.7 534 738.9 539 736.3 541.7 736.4 544.2 738.1 546.8 737.2 550 735.5 552.3 732.1 552.2 728.6 551.9 728.1 553 730.3 556 732.1 559.6 733.8 562 736.7 564.4 733.8 567.8 731.5 571.2 730.8 575.5 732.9 579 736.2 580.7 734.9 583.2 731.5 584.4 729.4 588.2 727.3 592.6 727.2 600M845.2 622.7 849.4 618.2 854.6 614.6 859.7 611.8 866.5 610.1 874.4 609.2M859.3 565 861 562.4 863.9 561 865.7 562.3 864.3 564.9 862.3 566.6 859.7 566.1 859.3 565M861.9 569.1 865.3 570.1" fill="none" stroke="#000" stroke-width="1.2" stroke-linejoin="round"/>
<path d="M861.9 569.1 865.3 570.1M850.3 531.1 852.6 530.4" fill="none" stroke="#000" stroke-width="1.9" stroke-linecap="round"/>
<path d="M696.8 466 724.8 467.6 752.8 468.5 780.8 468.8 808.8 468.5 836.8 467.6 864.8 466 875.2 621 843.8 622.8 812.3 623.8 780.8 624.2 749.3 623.8 717.8 622.8 686.4 621Z" fill="none" stroke="#2e2e2e" stroke-width="1.15"/>
<g opacity=".82">
<text x="691.5" y="497.7" class="tk" text-anchor="end">42.5<tspan dy="-2.2" font-size="4.5">°</tspan><tspan dy="2.2"> N</tspan></text>
<text x="688.3" y="546.1" class="tk" text-anchor="end">40.0<tspan dy="-2.2" font-size="4.5">°</tspan><tspan dy="2.2"> N</tspan></text>
<text x="685" y="594.5" class="tk" text-anchor="end">37.5<tspan dy="-2.2" font-size="4.5">°</tspan><tspan dy="2.2"> N</tspan></text>
</g>
<text x="780.8" y="460.8" class="ti" text-anchor="middle">1964</text></g>
<g><g filter="url(#bl)">
<path fill="#00ff80" stroke="#00ff80" stroke-width=".7" d="M1108.9 553 1123.9 552.5 1124.3 562.2 1109.2 562.7ZM1101.9 572.7 1109.5 572.4 1109.8 582.1 1102.2 582.4ZM1094.9 602 1102.7 601.8 1103 611.5 1095.2 611.7Z"/>
<path fill="#00d595" stroke="#00d595" stroke-width=".7" d="M986 473.7 1000.1 474.5 999.6 484.2 985.4 483.4ZM1128.4 493.9 1142.8 493.1 1143.4 502.8 1128.9 503.6ZM1122.1 513.7 1129.4 513.3 1129.9 523 1122.6 523.4ZM1107.9 523.9 1122.6 523.4 1123 533.1 1108.2 533.6ZM1108.2 533.6 1123 533.1 1123.4 542.8 1108.5 543.3ZM1108.5 543.3 1123.4 542.8 1123.9 552.5 1108.9 553ZM1101.6 563 1109.2 562.7 1109.5 572.4 1101.9 572.7Z"/>
<path fill="#00aaaa" stroke="#00aaaa" stroke-width=".7" d="M1000.6 464.8 1007.6 465.2 1007.2 474.9 1000.1 474.5ZM1000.1 474.5 1014.3 475.2 1013.9 484.9 999.6 484.2ZM985.4 483.4 1006.8 484.6 1006.3 494.3 984.8 493.1ZM1128 484.2 1142.2 483.4 1142.8 493.1 1128.4 493.9ZM1114.5 504.3 1121.7 504 1122.1 513.7 1114.8 514ZM1128.9 503.6 1143.4 502.8 1144 512.5 1129.4 513.3ZM1129.4 513.3 1144 512.5 1144.6 522.2 1129.9 523ZM1100.5 524.2 1107.9 523.9 1108.2 533.6 1100.8 533.9ZM1122.6 523.4 1137.3 522.6 1137.8 532.3 1123 533.1ZM1100.8 533.9 1108.2 533.6 1108.5 543.3 1101.1 543.6ZM1123 533.1 1130.4 532.7 1130.9 542.4 1123.4 542.8ZM988.7 551.7 996.2 552.1 995.7 561.8 988.2 561.4ZM1101.4 553.3 1108.9 553 1109.2 562.7 1101.6 563ZM988.2 561.4 1003.3 562.2 1002.8 571.9 987.6 571.1ZM980 570.6 1002.8 571.9 1002.4 581.6 979.4 580.3ZM1094.3 572.9 1101.9 572.7 1102.2 582.4 1094.5 582.6ZM1002 591.3 1009.7 591.6 1009.3 601.3 1001.5 601ZM1094.7 592.3 1102.4 592.1 1102.7 601.8 1094.9 602ZM1048.2 602.2 1079.4 602.2 1079.5 612 1048.1 612ZM1087.2 602.1 1094.9 602 1095.2 611.7 1087.3 611.8ZM1040.3 611.8 1048.1 612 1048 621.7 1040.1 621.6Z"/>
<path fill="#0080bf" stroke="#0080bf" stroke-width=".7" d="M1007.6 465.2 1014.7 465.5 1014.3 475.2 1007.2 474.9ZM1014.3 475.2 1021.3 475.4 1021 485.1 1013.9 484.9ZM1006.8 484.6 1028.1 485.3 1027.9 495 1006.3 494.3ZM1113.7 484.9 1128 484.2 1128.4 493.9 1114.1 494.6ZM992 493.5 1027.9 495 1027.6 504.7 991.4 503.2ZM1035.1 495.2 1042.2 495.4 1042.1 505.1 1034.8 504.9ZM1106.9 494.8 1128.4 493.9 1128.9 503.6 1107.2 504.5ZM991.4 503.2 1034.8 504.9 1034.6 514.6 990.9 512.9ZM1121.7 504 1128.9 503.6 1129.4 513.3 1122.1 513.7ZM990.9 512.9 1034.6 514.6 1034.4 524.3 990.3 522.6ZM1107.6 514.2 1122.1 513.7 1122.6 523.4 1107.9 523.9ZM990.3 522.6 1019.7 523.9 1019.4 533.6 989.8 532.3ZM1093.2 524.3 1100.5 524.2 1100.8 533.9 1093.4 534ZM989.8 532.3 1012 533.4 1011.6 543.1 989.3 542ZM1093.4 534 1100.8 533.9 1101.1 543.6 1093.6 543.7ZM981.8 541.6 1019.1 543.3 1018.7 553 981.2 551.3ZM1093.6 543.7 1108.5 543.3 1108.9 553 1093.8 553.5ZM981.2 551.3 988.7 551.7 988.2 561.4 980.6 561ZM996.2 552.1 1026.2 553.3 1026 563 995.7 561.8ZM1086.3 553.6 1101.4 553.3 1101.6 563 1086.5 563.3ZM980.6 561 988.2 561.4 987.6 571.1 980 570.6ZM1003.3 562.2 1026 563 1025.7 572.7 1002.8 571.9ZM1094.1 563.2 1101.6 563 1101.9 572.7 1094.3 572.9ZM1002.8 571.9 1025.7 572.7 1025.4 582.4 1002.4 581.6ZM987.1 580.8 1025.4 582.4 1025.2 592.1 986.5 590.5ZM1086.8 582.7 1102.2 582.4 1102.4 592.1 1087 592.4ZM986.5 590.5 1002 591.3 1001.5 601 986 600.2ZM1009.7 591.6 1048.3 592.5 1048.2 602.2 1009.3 601.3ZM1087 592.4 1094.7 592.3 1094.9 602 1087.2 602.1ZM1024.9 601.8 1048.2 602.2 1048.1 612 1024.6 611.5ZM1079.4 602.2 1087.2 602.1 1087.3 611.8 1079.5 612ZM1024.6 611.5 1040.3 611.8 1040.1 621.6 1024.3 621.2Z"/>
<path fill="#0055d5" stroke="#0055d5" stroke-width=".7" d="M1014.7 465.5 1021.7 465.7 1021.3 475.4 1014.3 475.2ZM1021.3 475.4 1028.4 475.6 1028.1 485.3 1021 485.1ZM1028.1 485.3 1049.5 485.7 1049.4 495.5 1027.9 495ZM1092.3 485.5 1113.7 484.9 1114.1 494.6 1092.5 495.2ZM1027.9 495 1035.1 495.2 1034.8 504.9 1027.6 504.7ZM1099.7 495 1106.9 494.8 1107.2 504.5 1100 504.7ZM1100 504.7 1114.5 504.3 1114.8 514 1100.3 514.4ZM1100.3 514.4 1107.6 514.2 1107.9 523.9 1100.5 524.2ZM1019.7 523.9 1049.1 524.6 1049 534.3 1019.4 533.6ZM1012 533.4 1026.8 533.9 1026.5 543.6 1011.6 543.1ZM1063.8 534.4 1071.2 534.3 1071.3 544.1 1063.8 544.1ZM1078.6 534.3 1093.4 534 1093.6 543.7 1078.7 544ZM1019.1 543.3 1026.5 543.6 1026.2 553.3 1018.7 553ZM1086.2 543.9 1093.6 543.7 1093.8 553.5 1086.3 553.6ZM1026.2 553.3 1041.3 553.6 1041.1 563.3 1026 563ZM1078.8 553.7 1086.3 553.6 1086.5 563.3 1078.9 563.4ZM1026 563 1041.1 563.3 1040.9 573 1025.7 572.7ZM1086.5 563.3 1094.1 563.2 1094.3 572.9 1086.7 573ZM1025.7 572.7 1040.9 573 1040.8 582.7 1025.4 582.4ZM1079 573.1 1094.3 572.9 1094.5 582.6 1079.2 582.8ZM1025.4 582.4 1048.4 582.8 1048.3 592.5 1025.2 592.1ZM1071.5 582.9 1086.8 582.7 1087 592.4 1071.5 592.6ZM1048.3 592.5 1087 592.4 1087.2 602.1 1048.2 602.2Z"/>
<path fill="#002bea" stroke="#002bea" stroke-width=".7" d="M1021.7 465.7 1028.7 465.9 1028.4 475.6 1021.3 475.4ZM1028.4 475.6 1042.6 475.9 1042.4 485.6 1028.1 485.3ZM1049.6 476 1099.2 475.6 1099.5 485.3 1049.5 485.7ZM1049.5 485.7 1070.9 485.8 1071 495.5 1049.4 495.5ZM1085.2 485.6 1092.3 485.5 1092.5 495.2 1085.4 495.4ZM1042.2 495.4 1063.8 495.5 1063.8 505.2 1042.1 505.1ZM1085.4 495.4 1099.7 495 1100 504.7 1085.5 505.1ZM1034.8 504.9 1063.8 505.2 1063.8 515 1034.6 514.6ZM1085.5 505.1 1100 504.7 1100.3 514.4 1085.7 514.8ZM1034.6 514.6 1071.1 514.9 1071.1 524.6 1034.4 524.3ZM1085.7 514.8 1100.3 514.4 1100.5 524.2 1085.8 524.5ZM1049.1 524.6 1093.2 524.3 1093.4 534 1049 534.3ZM1026.8 533.9 1063.8 534.4 1063.8 544.1 1026.5 543.6ZM1071.2 534.3 1078.6 534.3 1078.7 544 1071.3 544.1ZM1026.5 543.6 1056.3 544.1 1086.2 543.9 1086.3 553.6 1056.3 553.8 1026.2 553.3ZM1041.3 553.6 1078.8 553.7 1078.9 563.4 1041.1 563.3ZM1041.1 563.3 1086.5 563.3 1086.7 573 1040.9 573ZM1040.9 573 1079 573.1 1079.2 582.8 1040.8 582.7ZM1048.4 582.8 1063.8 582.9 1063.8 592.6 1048.3 592.5Z"/>
<path fill="#0000ff" stroke="#0000ff" stroke-width=".7" d="M1028.7 465.9 1049.8 466.3 1049.6 476 1028.4 475.6ZM1042.6 475.9 1049.6 476 1049.5 485.7 1042.4 485.6ZM1070.9 485.8 1085.2 485.6 1085.4 495.4 1071 495.5ZM1063.8 495.5 1085.4 495.4 1085.5 505.1 1063.8 505.2ZM1063.8 505.2 1085.5 505.1 1085.7 514.8 1063.8 515ZM1071.1 514.9 1085.7 514.8 1085.8 524.5 1071.1 524.6ZM1063.8 582.9 1071.5 582.9 1071.5 592.6 1063.8 592.6Z"/>
</g>
<path d="M1014.7 465.5 1008.6 620.7M1049.8 466.3 1048 621.7M1084.9 466.2 1087.5 621.6M1120 465.2 1126.9 620.4M971.1 589.5 1002 591.3 1032.9 592.3 1063.8 592.6 1094.7 592.3 1125.6 591.3 1156.5 589.5M974.4 541.1 1004.2 542.8 1034 543.7 1063.8 544.1 1093.6 543.7 1123.4 542.8 1153.2 541.1M977.6 492.7 1006.3 494.3 1035.1 495.2 1063.8 495.5 1092.5 495.2 1121.3 494.3 1150 492.7" fill="none" stroke="#c8c8c8" stroke-opacity=".3" stroke-width=".6" stroke-dasharray="1 1"/>
<path d="M1097.5 477.2 1094 478.1 1089.8 479.3 1086.4 478.8 1082.9 477.5 1079.5 478 1076.9 479.3 1072.6 478 1070 475.9 1065.8 477.1 1062.9 477.7 1057.7 478 1052.6 477.4 1049.2 476.4 1044 475.2 1040.6 474.5 1038.1 473.1 1034.7 475.4 1030.3 474.5 1026.1 474.4 1021.8 475.4 1018.3 473.6 1015.8 471.7 1013.2 470.3 1009.8 469.9 1007.2 471.2 1004.6 472.8 1003.4 474.9 1004.7 477.5 1001.2 476.5 997.7 477.5 994.4 478.7 991 480.8 988.7 483 988.3 485.5 990.5 487.2 991.8 489.1 994.3 490.2 995.7 491.6 992.6 492.4 994.4 494.4 996.4 496.7 996.9 498.3 994.4 499.1 994 501.8 993.6 504.3 994.4 507.7 994.8 512.8 995.7 519.6 995.7 527.4 994.2 529.6 993 534 991.8 539 989.6 544.2 987.5 549.3 984.9 553 982.8 555.3 982.4 559.5 981.1 563.7 980.7 566.4 983.1 567.1 986.5 566.4 989.1 563.8 990 561.7 992.7 559.5 990 563.8 988.3 566.7 986.6 568.1 985 569.8 985.3 571.9 988.4 571.5 990.8 571.1 993 573.1 990.8 574 990.5 577.5 989.9 581.7 990.9 586.8 989.6 591 988.3 595.2 987 599.5 989.2 598.6 993 597.8 996.8 598.6 1000.4 599.5 1003.3 600.8 1006.3 599.6 1010.1 597.6 1014 597 1017.4 597.5 1020.9 599.2 1024.2 602.2 1026.8 605.1 1028.6 603.8 1031.1 600.8 1028.6 603.8 1026.8 605.1 1026 608 1028.5 610.6 1030.3 614 1033.7 617.4 1037.1 619.9 1039.3 621.3 1041.9 619.1 1043.5 616.2 1045.8 613.1 1049.2 612 1052.5 611.8 1056 609.7 1059.4 607.6 1061.5 607 1066.6 606.8 1071.8 607.6 1076.9 606.7 1082.1 607.3 1084.6 607.6 1086.3 605.1 1089.7 604.6 1092.4 606.7 1095.3 603.7 1097.1 600.4 1098.4 597.1 1101 594.1 1104.3 591.1 1107.8 589.8 1111.2 590.3 1113.8 588.4 1112.9 585.9 1114.6 581.6 1116.3 577.5 1118.9 573.7 1122.3 571 1125.7 569.3 1127.4 566.7 1125.3 564.6 1122.7 563.4 1121 559.6 1119.8 554.4 1119.8 551.1 1121.5 546.7 1123.6 542.6 1126.2 538.2 1129.1 533.9 1131.3 530.3 1133.5 529 1135.6 527.8 1134.3 527.1 1135.1 524.5 1137.8 521.4 1142.1 519.2 1146.4 518 1150.6 516.8 1151.6 516.3M1097.5 477.2 1099.2 480.1 1100.9 480.6 1100.4 484.3 1103.4 484.8 1107.7 485.7 1112 488.2 1116.3 488.2 1120.6 490 1125.8 489.6 1130.1 489.9 1131.4 487 1135.2 488.3 1140.4 489 1142.5 490.8 1141.7 493.4 1143.7 494.2 1146.4 492.5 1146 490.8 1142.5 490.8 1146 490.8 1146.4 492.5 1148.9 493.3 1150.1 495.2M1097.5 477.2 1099.1 474.3 1100 470.7 1100.9 465.9M993.6 504.3 995.2 503.4 999.5 501.7 1003 501.3 1003.7 503.5 1004.6 506.8 1007.3 506 1011.4 506.9 1014.9 507.6 1018.3 505.6 1022.7 505.2 1026.9 505.5 1026.9 509.4 1028.6 511.2 1032 512.8 1030.3 516.3 1026.9 518.7 1023.5 521.3 1020.9 523 1022.6 526.4 1022.6 531.6 1021.8 536.6 1019.2 539.3 1019.3 541.8 1021 544.4 1020.1 547.6 1018.4 549.9 1014.9 549.8 1011.5 549.5 1011 550.6 1013.1 553.6 1015 557.2 1016.7 559.6 1019.6 562 1016.6 565.4 1014.4 568.8 1013.6 573.1 1015.8 576.6 1019.1 578.3 1017.8 580.8 1014.4 582 1012.2 585.8 1010.2 590.2 1010.1 597.6M1128.4 620.3 1132.6 615.8 1137.7 612.2 1142.9 609.4 1149.7 607.7 1157.7 606.8M1142.5 562.6 1144.2 560 1147.1 558.6 1148.9 559.9 1147.5 562.5 1145.5 564.2 1142.9 563.7 1142.5 562.6M1145.1 566.7 1148.5 567.7" fill="none" stroke="#000" stroke-width="1.2" stroke-linejoin="round"/>
<path d="M1145.1 566.7 1148.5 567.7M1133.5 528.7 1135.8 528" fill="none" stroke="#000" stroke-width="1.9" stroke-linecap="round"/>
<path d="M979.6 463.6 1007.6 465.2 1035.7 466.1 1063.8 466.4 1091.9 466.1 1120 465.2 1148 463.6 1158.5 618.6 1126.9 620.4 1095.4 621.4 1063.8 621.8 1032.2 621.4 1000.7 620.4 969.1 618.6Z" fill="none" stroke="#2e2e2e" stroke-width="1.15"/>
<g opacity=".82">
<text x="974.3" y="495.3" class="tk" text-anchor="end">42.5<tspan dy="-2.2" font-size="4.5">°</tspan><tspan dy="2.2"> N</tspan></text>
<text x="971.1" y="543.7" class="tk" text-anchor="end">40.0<tspan dy="-2.2" font-size="4.5">°</tspan><tspan dy="2.2"> N</tspan></text>
<text x="967.8" y="592.1" class="tk" text-anchor="end">37.5<tspan dy="-2.2" font-size="4.5">°</tspan><tspan dy="2.2"> N</tspan></text>
</g>
<text x="1063.8" y="458.4" class="ti" text-anchor="middle">1941</text></g>
<g><g filter="url(#bl)">
<path fill="#00ff80" stroke="#00ff80" stroke-width=".7" d="M250.4 697.7 257.6 697.5 257.9 707.2 250.7 707.4ZM272 697 279.1 696.6 279.6 706.3 272.4 706.7ZM250.7 707.4 257.9 707.2 258.2 716.9 250.9 717.2ZM272.4 706.7 294.1 705.5 294.7 715.2 272.8 716.4ZM243.6 717.3 250.9 717.2 251.2 726.9 243.8 727ZM237.1 766 244.7 765.9 244.9 775.6 237.3 775.7ZM237.3 775.7 244.9 775.6 245.1 785.3 237.5 785.4ZM237.5 785.4 245.1 785.3 245.4 795 237.6 795.1ZM237.6 795.1 253.1 794.8 253.4 804.5 237.8 804.8Z"/>
<path fill="#00d595" stroke="#00d595" stroke-width=".7" d="M243.2 697.9 250.4 697.7 250.7 707.4 243.4 707.6ZM236.2 707.8 250.7 707.4 250.9 717.2 236.3 717.5ZM236.3 717.5 243.6 717.3 243.8 727 236.5 727.2ZM229.3 746.7 236.8 746.6 237 756.3 229.4 756.4ZM229.4 756.4 237 756.3 237.1 766 229.6 766.1ZM229.6 766.1 237.1 766 237.3 775.7 229.7 775.8Z"/>
<path fill="#00aaaa" stroke="#00aaaa" stroke-width=".7" d="M249.8 678.3 256.9 678.1 257.2 687.8 250.1 688ZM235.8 688.4 278.7 686.9 279.1 696.6 236 698.1ZM236 698.1 243.2 697.9 243.4 707.6 236.2 707.8ZM286.3 696.2 293.5 695.8 294.1 705.5 286.9 705.9ZM229.1 727.3 243.8 727 244.1 736.7 229.2 737ZM214.4 737.1 244.1 736.7 244.3 746.5 214.4 746.8ZM199.5 746.7 229.3 746.7 229.4 756.4 199.4 756.4ZM221.9 756.5 229.4 756.4 229.6 766.1 222 766.2ZM222 766.2 229.6 766.1 229.7 775.8 222 775.9ZM161 774.9 168.6 775.1 168.3 784.9 160.6 784.6ZM191.5 775.7 206.8 775.9 206.7 785.6 191.3 785.4ZM229.7 775.8 237.3 775.7 237.5 785.4 229.8 785.5ZM145.3 783.9 191.3 785.4 191.2 795.1 144.8 793.6ZM229.8 785.5 237.5 785.4 237.6 795.1 229.9 795.2ZM175.7 794.8 206.7 795.3 206.6 805 175.4 804.5ZM229.9 795.2 237.6 795.1 237.8 804.8 230 805ZM175.4 804.5 198.8 805 198.7 814.7 175.2 814.2Z"/>
<path fill="#0080bf" stroke="#0080bf" stroke-width=".7" d="M235.7 678.6 249.8 678.3 250.1 688 235.8 688.4ZM256.9 678.1 264 677.9 264.4 687.6 257.2 687.8ZM228.7 688.5 235.8 688.4 236 698.1 228.8 698.2ZM214.4 698.2 221.6 698.2 221.7 707.9 214.4 708ZM228.8 698.2 236 698.1 236.2 707.8 228.9 707.9ZM279.1 696.6 286.3 696.2 286.9 705.9 279.6 706.3ZM199.9 707.9 221.7 707.9 221.7 717.6 199.8 717.6ZM228.9 707.9 236.2 707.8 236.3 717.5 229 717.6ZM185.2 717.3 236.3 717.5 236.5 727.2 185 727ZM148.2 725.7 162.9 726.4 162.5 736.1 147.7 735.4ZM177.6 726.9 229.1 727.3 229.2 737 177.3 736.6ZM155.1 735.8 184.7 736.7 214.4 737.1 214.4 746.8 184.5 746.5 154.7 745.5ZM154.7 745.5 199.5 746.7 199.4 756.4 154.2 755.2ZM146.7 754.8 184.3 756.2 221.9 756.5 222 766.2 184.1 765.9 146.2 764.5ZM131.1 763.6 161.4 765.2 191.7 766 222 766.2 222 775.9 191.5 775.7 161 774.9 130.5 773.3ZM138.1 773.8 161 774.9 160.6 784.6 137.6 783.5ZM168.6 775.1 191.5 775.7 191.3 785.4 168.3 784.9ZM206.8 775.9 229.7 775.8 229.8 785.5 206.7 785.6ZM137.6 783.5 145.3 783.9 144.8 793.6 137 793.2Z"/>
<path fill="#0055d5" stroke="#0055d5" stroke-width=".7" d="M221.4 669.1 249.6 668.6 249.8 678.3 221.5 678.8ZM193.1 678.6 207.3 678.8 207.3 688.5 193 688.4ZM214.4 678.8 235.7 678.6 235.8 688.4 214.4 688.5ZM264 677.9 292.3 676.4 292.9 686.1 264.4 687.6ZM143 686.5 171.6 687.8 200.1 688.5 228.7 688.5 228.8 698.2 200 698.2 171.2 697.5 142.5 696.2ZM278.7 686.9 292.9 686.1 293.5 695.8 279.1 696.6ZM142.5 696.2 178.4 697.7 214.4 698.2 214.4 708 178.1 707.4 141.9 705.9ZM221.6 698.2 228.8 698.2 228.9 707.9 221.7 707.9ZM141.9 705.9 170.9 707.2 199.9 707.9 199.8 717.6 170.6 716.9 141.4 715.6ZM221.7 707.9 228.9 707.9 229 717.6 221.7 717.6ZM141.4 715.6 185.2 717.3 185 727 140.8 725.3ZM140.8 725.3 148.2 725.7 147.7 735.4 140.3 735ZM162.9 726.4 177.6 726.9 177.3 736.6 162.5 736.1ZM147.7 735.4 155.1 735.8 154.7 745.5 147.2 745.1ZM131.7 754 146.7 754.8 146.2 764.5 131.1 763.6ZM191.3 785.4 229.8 785.5 229.9 795.2 191.2 795.1ZM206.7 795.3 229.9 795.2 230 805 206.6 805Z"/>
<path fill="#002bea" stroke="#002bea" stroke-width=".7" d="M151.6 657.8 200.4 659.3 200.3 669 151.1 667.5ZM137.1 666.7 165.2 668.2 193.3 668.9 221.4 669.1 221.5 678.8 193.1 678.6 164.8 677.9 136.5 676.4ZM136.5 676.4 164.8 677.9 193.1 678.6 193 688.4 164.4 687.6 135.9 686.1ZM207.3 678.8 214.4 678.8 214.4 688.5 207.3 688.5ZM132.9 734.6 147.7 735.4 147.2 745.1 132.3 744.3ZM132.3 744.3 154.7 745.5 154.2 755.2 131.7 754Z"/>
</g>
<path d="M165.6 658.5 159.5 813.7M200.4 659.3 198.7 814.7M235.3 659.2 237.9 814.6M270.2 658.2 277.2 813.4M122.2 782.5 152.9 784.3 183.7 785.3 214.4 785.6 245.1 785.3 275.9 784.3 306.5 782.5M125.5 734.1 155.1 735.8 184.7 736.7 214.4 737.1 244.1 736.7 273.7 735.8 303.3 734.1M128.8 685.7 157.3 687.3 185.8 688.2 214.4 688.5 243 688.2 271.5 687.3 300 685.7" fill="none" stroke="#c8c8c8" stroke-opacity=".3" stroke-width=".6" stroke-dasharray="1 1"/>
<path d="M247.9 670.2 244.4 671.1 240.2 672.3 236.8 671.8 233.4 670.5 230 671 227.4 672.3 223.1 671 220.6 668.9 216.4 670.1 213.6 670.7 208.3 671 203.3 670.4 199.9 669.4 194.7 668.2 191.4 667.5 188.9 666.1 185.4 668.4 181.1 667.5 176.9 667.4 172.6 668.4 169.2 666.6 166.7 664.7 164.1 663.3 160.7 662.9 158.2 664.2 155.6 665.8 154.3 667.9 155.6 670.5 152.1 669.5 148.7 670.5 145.4 671.7 142 673.8 139.8 676 139.3 678.5 141.5 680.2 142.8 682.1 145.3 683.2 146.7 684.6 143.6 685.4 145.4 687.4 147.4 689.7 147.9 691.3 145.4 692.1 145 694.8 144.6 697.3 145.4 700.7 145.9 705.8 146.7 712.6 146.7 720.4 145.3 722.6 144 727 142.8 732 140.6 737.2 138.5 742.3 135.9 746 133.9 748.3 133.5 752.5 132.1 756.7 131.8 759.4 134.2 760.1 137.6 759.4 140.1 756.8 141 754.7 143.7 752.5 141 756.8 139.4 759.7 137.6 761.1 136 762.8 136.3 764.9 139.4 764.5 141.9 764.1 144 766.1 141.9 767 141.5 770.5 141 774.7 141.9 779.8 140.6 784 139.3 788.2 138 792.5 140.2 791.6 144 790.8 147.8 791.6 151.3 792.5 154.2 793.8 157.2 792.6 161 790.6 164.9 790 168.3 790.5 171.8 792.2 175.1 795.2 177.6 798.1 179.4 796.8 181.9 793.8 179.4 796.8 177.6 798.1 176.8 801 179.4 803.6 181.1 807 184.5 810.4 187.9 812.9 190.1 814.3 192.6 812.1 194.2 809.2 196.5 806.1 199.9 805 203.2 804.8 206.6 802.7 210 800.6 212.1 800 217.2 799.8 222.3 800.6 227.4 799.7 232.6 800.3 235.1 800.6 236.7 798.1 240.1 797.6 242.8 799.7 245.7 796.7 247.5 793.4 248.8 790.1 251.3 787.1 254.6 784.1 258.1 782.8 261.5 783.3 264.1 781.4 263.2 778.9 264.9 774.6 266.6 770.5 269.2 766.7 272.5 764 275.9 762.3 277.6 759.7 275.6 757.6 273 756.4 271.3 752.6 270 747.4 270 744.1 271.8 739.7 273.8 735.6 276.4 731.2 279.3 726.9 281.5 723.3 283.7 722 285.8 720.8 284.4 720.1 285.3 717.5 287.9 714.4 292.2 712.2 296.5 711 300.6 709.8 301.6 709.3M247.9 670.2 249.6 673.1 251.3 673.6 250.8 677.3 253.8 677.8 258.1 678.7 262.3 681.2 266.6 681.2 270.9 683 276 682.6 280.3 682.9 281.6 680 285.4 681.3 290.5 682 292.6 683.8 291.8 686.4 293.8 687.2 296.5 685.5 296.1 683.8 292.6 683.8 296.1 683.8 296.5 685.5 298.9 686.3 300.2 688.2M247.9 670.2 249.5 667.3 250.4 663.7 251.3 658.9M144.6 697.3 146.2 696.4 150.5 694.7 153.9 694.3 154.7 696.5 155.6 699.8 158.2 699 162.3 699.9 165.8 700.6 169.2 698.6 173.5 698.2 177.7 698.5 177.7 702.4 179.4 704.2 182.8 705.8 181.1 709.3 177.7 711.7 174.3 714.3 171.8 716 173.4 719.4 173.4 724.6 172.7 729.6 170.1 732.3 170.1 734.8 171.8 737.4 171 740.6 169.3 742.9 165.8 742.8 162.4 742.5 161.9 743.6 164 746.6 165.9 750.2 167.6 752.6 170.5 755 167.5 758.4 165.3 761.8 164.5 766.1 166.7 769.6 170 771.3 168.7 773.8 165.3 775 163.1 778.8 161.1 783.2 161 790.6M278.6 813.3 282.8 808.8 287.9 805.2 293 802.4 299.8 800.7 307.7 799.8M292.7 755.6 294.3 753 297.3 751.6 299 752.9 297.6 755.5 295.6 757.2 293 756.7 292.7 755.6M295.2 759.7 298.6 760.7" fill="none" stroke="#000" stroke-width="1.2" stroke-linejoin="round"/>
<path d="M295.2 759.7 298.6 760.7M283.6 721.7 286 721" fill="none" stroke="#000" stroke-width="1.9" stroke-linecap="round"/>
<path d="M130.7 656.6 158.6 658.2 186.5 659.1 214.4 659.4 242.3 659.1 270.2 658.2 298.1 656.6 308.5 811.6 277.2 813.4 245.8 814.4 214.4 814.8 183 814.4 151.6 813.4 120.3 811.6Z" fill="none" stroke="#2e2e2e" stroke-width="1.15"/>
<g opacity=".82">
<text x="125.5" y="688.3" class="tk" text-anchor="end">42.5<tspan dy="-2.2" font-size="4.5">°</tspan><tspan dy="2.2"> N</tspan></text>
<text x="122.2" y="736.7" class="tk" text-anchor="end">40.0<tspan dy="-2.2" font-size="4.5">°</tspan><tspan dy="2.2"> N</tspan></text>
<text x="118.9" y="785.1" class="tk" text-anchor="end">37.5<tspan dy="-2.2" font-size="4.5">°</tspan><tspan dy="2.2"> N</tspan></text>
</g>
<text x="214.4" y="651.4" class="ti" text-anchor="middle">1979</text></g>
<g><g filter="url(#bl)">
<path fill="#00ff80" stroke="#00ff80" stroke-width=".7" d="M445.6 658.2 459.6 658.7 459.3 668.4 445.2 667.9ZM424.1 666.7 445.2 667.9 444.7 677.6 423.5 676.4ZM423.5 676.4 437.7 677.2 437.2 686.9 422.9 686.1ZM434.7 735.4 457 736.3 456.6 746 434.2 745.1ZM464.1 746.3 471.6 746.5 471.4 756.2 463.8 756ZM441.3 755.2 448.8 755.5 448.4 765.2 440.8 764.9ZM486.4 756.4 494 756.5 493.9 766.2 486.3 766.1ZM440.8 764.9 448.4 765.2 448 774.9 440.4 774.6ZM493.9 766.2 501.5 766.2 501.5 775.9 493.9 775.9ZM432.8 774.2 448 774.9 447.7 784.6 432.3 783.9ZM501.5 775.9 509.1 775.9 509.2 785.6 501.5 785.6ZM424.6 783.5 447.7 784.6 447.3 794.3 424.1 793.2ZM493.8 785.6 501.5 785.6 501.5 795.3 493.8 795.3ZM462.8 794.8 478.3 795.1 478.1 804.8 462.5 804.5ZM486 795.2 509.2 795.3 509.3 805 485.9 805Z"/>
<path fill="#00d595" stroke="#00d595" stroke-width=".7" d="M459.6 658.7 487.5 659.3 487.4 669 459.3 668.4ZM445.2 667.9 459.3 668.4 458.9 678.1 444.7 677.6ZM427.9 725.3 435.2 725.7 434.7 735.4 427.3 735ZM442.6 726.1 457.3 726.6 457 736.3 442.1 735.8ZM427.3 735 434.7 735.4 434.2 745.1 426.8 744.7ZM457 736.3 464.4 736.6 464.1 746.3 456.6 746ZM434.2 745.1 441.7 745.5 441.3 755.2 433.7 754.8ZM471.6 746.5 479.1 746.6 478.9 756.3 471.4 756.2ZM433.7 754.8 441.3 755.2 440.8 764.9 433.3 764.5ZM494 756.5 501.5 756.5 501.5 766.2 493.9 766.2ZM433.3 764.5 440.8 764.9 440.4 774.6 432.8 774.2ZM425.1 773.8 432.8 774.2 432.3 783.9 424.6 783.5ZM501.5 785.6 516.9 785.5 517 795.2 501.5 795.3Z"/>
<path fill="#00aaaa" stroke="#00aaaa" stroke-width=".7" d="M437.7 677.2 444.7 677.6 444.3 687.3 437.2 686.9ZM573 686.5 580.1 686.1 580.7 695.8 573.5 696.2ZM428.4 715.6 457.6 716.9 457.3 726.6 427.9 725.3ZM435.2 725.7 442.6 726.1 442.1 735.8 434.7 735.4ZM457.3 726.6 464.7 726.9 464.4 736.6 457 736.3ZM419.9 734.6 427.3 735 426.8 744.7 419.3 744.3ZM464.4 736.6 471.8 736.7 471.6 746.5 464.1 746.3ZM419.3 744.3 434.2 745.1 433.7 754.8 418.7 754ZM479.1 746.6 486.5 746.7 486.4 756.4 478.9 756.3ZM418.7 754 433.7 754.8 433.3 764.5 418.1 763.6ZM501.5 756.5 509 756.5 509.1 766.2 501.5 766.2ZM418.1 763.6 433.3 764.5 432.8 774.2 417.5 773.3ZM501.5 766.2 509.1 766.2 509.1 775.9 501.5 775.9ZM509.1 775.9 516.8 775.8 516.9 785.5 509.2 785.6ZM509.2 795.3 540.2 794.8 540.5 804.5 509.3 805Z"/>
<path fill="#0080bf" stroke="#0080bf" stroke-width=".7" d="M459.3 668.4 480.4 668.9 480.2 678.6 458.9 678.1ZM444.7 677.6 451.8 677.9 451.5 687.6 444.3 687.3ZM515.7 678.7 547.6 678 579.5 676.4 580.1 686.1 548 687.7 515.8 688.5ZM430 686.5 437.2 686.9 436.7 696.6 429.5 696.2ZM530.1 688.2 544.4 687.8 544.7 697.5 530.3 697.9ZM551.5 687.6 573 686.5 573.5 696.2 551.9 697.3ZM551.9 697.3 580.7 695.8 581.3 705.5 552.3 707ZM428.9 705.9 443.4 706.7 443 716.4 428.4 715.6ZM574.1 705.9 581.3 705.5 581.9 715.2 574.6 715.6ZM552.7 716.7 560 716.4 560.4 726.1 553.1 726.4ZM471.8 736.7 479.2 736.9 479.1 746.6 471.6 746.5ZM509 756.5 516.6 756.4 516.7 766.1 509.1 766.2ZM509.1 766.2 516.7 766.1 516.8 775.8 509.1 775.9ZM516.8 775.8 524.4 775.7 524.6 785.4 516.9 785.5ZM516.9 785.5 540 785.1 540.2 794.8 517 795.2Z"/>
<path fill="#0055d5" stroke="#0055d5" stroke-width=".7" d="M515.6 669 536.7 668.6 537 678.3 515.7 678.7ZM451.8 677.9 466 678.3 465.7 688 451.5 687.6ZM508.6 678.8 515.7 678.7 515.8 688.5 508.7 688.5ZM437.2 686.9 451.5 687.6 451.1 697.3 436.7 696.6ZM508.7 688.5 530.1 688.2 530.3 697.9 508.7 698.2ZM544.4 687.8 551.5 687.6 551.9 697.3 544.7 697.5ZM429.5 696.2 443.9 697 443.4 706.7 428.9 705.9ZM530.3 697.9 544.7 697.5 545.1 707.2 530.5 707.6ZM443.4 706.7 457.9 707.2 457.6 716.9 443 716.4ZM545.1 707.2 566.8 706.3 567.3 716 545.4 716.9ZM457.6 716.9 464.9 717.2 464.7 726.9 457.3 726.6ZM560 716.4 574.6 715.6 575.1 725.3 560.4 726.1ZM464.7 726.9 472 727 471.8 736.7 464.4 736.6ZM545.7 726.6 567.8 725.7 568.3 735.4 546 736.3ZM479.2 736.9 494.1 737.1 494 746.8 479.1 746.6ZM546 736.3 560.9 735.8 561.3 745.5 546.4 746ZM486.5 746.7 509 746.8 509 756.5 486.4 756.4ZM516.6 756.4 524.1 756.3 524.3 766 516.7 766.1ZM516.7 766.1 539.4 765.7 539.7 775.4 516.8 775.8ZM524.4 775.7 547.3 775.1 547.7 784.9 524.6 785.4Z"/>
<path fill="#002bea" stroke="#002bea" stroke-width=".7" d="M480.4 668.9 515.6 669 515.7 678.7 480.2 678.6ZM466 678.3 508.6 678.8 508.7 688.5 465.7 688ZM451.5 687.6 487.2 688.5 487.1 698.2 451.1 697.3ZM501.5 688.5 508.7 688.5 508.7 698.2 501.5 698.2ZM443.9 697 472.7 697.9 472.5 707.6 443.4 706.7ZM523.1 698.1 530.3 697.9 530.5 707.6 523.3 707.8ZM544.7 697.5 551.9 697.3 552.3 707 545.1 707.2ZM457.9 707.2 472.5 707.6 472.2 717.3 457.6 716.9ZM530.5 707.6 545.1 707.2 545.4 716.9 530.8 717.3ZM566.8 706.3 574.1 705.9 574.6 715.6 567.3 716ZM464.9 717.2 479.6 717.5 479.4 727.2 464.7 726.9ZM538.1 717.2 552.7 716.7 553.1 726.4 538.3 726.9ZM472 727 486.8 727.3 486.7 737 471.8 736.7ZM538.3 726.9 545.7 726.6 546 736.3 538.6 736.6ZM538.6 736.6 546 736.3 546.4 746 538.9 746.3ZM509 746.8 516.5 746.7 516.6 756.4 509 756.5ZM538.9 746.3 561.3 745.5 561.7 755.2 539.2 756ZM524.1 756.3 561.7 755.2 562.2 764.9 524.3 766ZM539.4 765.7 562.2 764.9 562.6 774.6 539.7 775.4ZM547.3 775.1 555 774.9 555.3 784.6 547.7 784.9Z"/>
<path fill="#0000ff" stroke="#0000ff" stroke-width=".7" d="M487.2 688.5 501.5 688.5 501.5 698.2 487.1 698.2ZM472.7 697.9 479.9 698.1 479.7 707.8 472.5 707.6ZM515.9 698.2 523.1 698.1 523.3 707.8 516 707.9ZM523.3 707.8 530.5 707.6 530.8 717.3 523.4 717.5ZM530.8 717.3 538.1 717.2 538.3 726.9 531 727ZM531 727 538.3 726.9 538.6 736.6 531.2 736.7ZM494.1 737.1 538.6 736.6 538.9 746.3 494 746.8ZM516.5 746.7 538.9 746.3 539.2 756 516.6 756.4Z"/>
<path fill="#bf00bf" stroke="#bf00bf" stroke-width=".7" d="M479.9 698.1 515.9 698.2 516 707.9 479.7 707.8ZM472.5 707.6 494.2 707.9 494.2 717.6 472.2 717.3ZM516 707.9 523.3 707.8 523.4 717.5 516.1 717.6ZM479.6 717.5 486.9 717.6 486.8 727.3 479.4 727.2ZM523.4 717.5 530.8 717.3 531 727 523.6 727.2ZM486.8 727.3 494.1 727.3 494.1 737.1 486.7 737ZM501.5 727.4 531 727 531.2 736.7 501.5 737.1Z"/>
<path fill="#800080" stroke="#800080" stroke-width=".7" d="M494.2 707.9 516 707.9 516.1 717.6 494.2 717.6ZM486.9 717.6 523.4 717.5 523.6 727.2 486.8 727.3ZM494.1 727.3 501.5 727.4 501.5 737.1 494.1 737.1Z"/>
</g>
<path d="M452.6 658.5 446.5 813.7M487.5 659.3 485.8 814.7M522.5 659.2 525.1 814.6M557.4 658.2 564.3 813.4M409.2 782.5 440 784.3 470.7 785.3 501.5 785.6 532.3 785.3 563 784.3 593.8 782.5M412.5 734.1 442.1 735.8 471.8 736.7 501.5 737.1 531.2 736.7 560.9 735.8 590.5 734.1M415.7 685.7 444.3 687.3 472.9 688.2 501.5 688.5 530.1 688.2 558.7 687.3 587.3 685.7" fill="none" stroke="#c8c8c8" stroke-opacity=".3" stroke-width=".6" stroke-dasharray="1 1"/>
<path d="M535.1 670.2 531.6 671.1 527.3 672.3 523.9 671.8 520.5 670.5 517.2 671 514.5 672.3 510.2 671 507.7 668.9 503.5 670.1 500.7 670.7 495.4 671 490.4 670.4 487 669.4 481.8 668.2 478.4 667.5 475.9 666.1 472.5 668.4 468.2 667.5 463.9 667.4 459.7 668.4 456.2 666.6 453.8 664.7 451.1 663.3 447.8 662.9 445.2 664.2 442.6 665.8 441.4 667.9 442.7 670.5 439.2 669.5 435.7 670.5 432.4 671.7 429 673.8 426.8 676 426.3 678.5 428.5 680.2 429.8 682.1 432.4 683.2 433.7 684.6 430.7 685.4 432.4 687.4 434.4 689.7 434.9 691.3 432.4 692.1 432 694.8 431.6 697.3 432.4 700.7 432.9 705.8 433.7 712.6 433.7 720.4 432.3 722.6 431 727 429.9 732 427.6 737.2 425.6 742.3 422.9 746 420.9 748.3 420.5 752.5 419.1 756.7 418.8 759.4 421.2 760.1 424.6 759.4 427.2 756.8 428 754.7 430.7 752.5 428.1 756.8 426.4 759.7 424.6 761.1 423 762.8 423.4 764.9 426.4 764.5 428.9 764.1 431 766.1 428.9 767 428.5 770.5 428 774.7 429 779.8 427.7 784 426.3 788.2 425 792.5 427.2 791.6 431 790.8 434.8 791.6 438.4 792.5 441.2 793.8 444.2 792.6 448 790.6 451.9 790 455.3 790.5 458.8 792.2 462.1 795.2 464.7 798.1 466.4 796.8 469 793.8 466.4 796.8 464.7 798.1 463.8 801 466.4 803.6 468.2 807 471.6 810.4 475 812.9 477.1 814.3 479.7 812.1 481.3 809.2 483.5 806.1 487 805 490.3 804.8 493.7 802.7 497.1 800.6 499.2 800 504.3 799.8 509.4 800.6 514.6 799.7 519.7 800.3 522.2 800.6 523.9 798.1 527.3 797.6 530 799.7 532.8 796.7 534.6 793.4 535.9 790.1 538.5 787.1 541.8 784.1 545.3 782.8 548.7 783.3 551.2 781.4 550.4 778.9 552 774.6 553.7 770.5 556.3 766.7 559.7 764 563.1 762.3 564.8 759.7 562.7 757.6 560.1 756.4 558.5 752.6 557.2 747.4 557.2 744.1 559 739.7 561 735.6 563.6 731.2 566.5 726.9 568.7 723.3 570.8 722 573 720.8 571.6 720.1 572.5 717.5 575.1 714.4 579.4 712.2 583.7 711 587.8 709.8 588.8 709.3M535.1 670.2 536.7 673.1 538.4 673.6 537.9 677.3 540.9 677.8 545.2 678.7 549.4 681.2 553.7 681.2 558.1 683 563.2 682.6 567.5 682.9 568.8 680 572.5 681.3 577.7 682 579.8 683.8 579 686.4 581 687.2 583.7 685.5 583.3 683.8 579.8 683.8 583.3 683.8 583.7 685.5 586.1 686.3 587.4 688.2M535.1 670.2 536.7 667.3 537.6 663.7 538.4 658.9M431.6 697.3 433.2 696.4 437.5 694.7 441 694.3 441.7 696.5 442.6 699.8 445.2 699 449.4 699.9 452.8 700.6 456.2 698.6 460.6 698.2 464.7 698.5 464.8 702.4 466.5 704.2 469.9 705.8 468.2 709.3 464.8 711.7 461.4 714.3 458.8 716 460.5 719.4 460.5 724.6 459.7 729.6 457.1 732.3 457.2 734.8 458.9 737.4 458 740.6 456.3 742.9 452.9 742.8 449.5 742.5 449 743.6 451.1 746.6 452.9 750.2 454.6 752.6 457.6 755 454.6 758.4 452.3 761.8 451.6 766.1 453.7 769.6 457 771.3 455.7 773.8 452.3 775 450.2 778.8 448.2 783.2 448 790.6M565.7 813.3 569.9 808.8 575.1 805.2 580.2 802.4 587 800.7 594.9 799.8M579.9 755.6 581.5 753 584.4 751.6 586.2 752.9 584.8 755.5 582.8 757.2 580.2 756.7 579.9 755.6M582.4 759.7 585.8 760.7" fill="none" stroke="#000" stroke-width="1.2" stroke-linejoin="round"/>
<path d="M582.4 759.7 585.8 760.7M570.8 721.7 573.1 721" fill="none" stroke="#000" stroke-width="1.9" stroke-linecap="round"/>
<path d="M417.7 656.6 445.6 658.2 473.5 659.1 501.5 659.4 529.5 659.1 557.4 658.2 585.3 656.6 595.7 811.6 564.3 813.4 532.9 814.4 501.5 814.8 470.1 814.4 438.7 813.4 407.3 811.6Z" fill="none" stroke="#2e2e2e" stroke-width="1.15"/>
<g opacity=".82">
<text x="412.4" y="688.3" class="tk" text-anchor="end">42.5<tspan dy="-2.2" font-size="4.5">°</tspan><tspan dy="2.2"> N</tspan></text>
<text x="409.2" y="736.7" class="tk" text-anchor="end">40.0<tspan dy="-2.2" font-size="4.5">°</tspan><tspan dy="2.2"> N</tspan></text>
<text x="405.9" y="785.1" class="tk" text-anchor="end">37.5<tspan dy="-2.2" font-size="4.5">°</tspan><tspan dy="2.2"> N</tspan></text>
</g>
<text x="501.5" y="651.4" class="ti" text-anchor="middle">1959</text></g>
<g><g filter="url(#bl)">
<path fill="#00ff80" stroke="#00ff80" stroke-width=".7" d="M758.4 659.2 765.4 659.3 765.3 669 758.2 668.9ZM765.3 669 772.3 669.1 772.3 678.8 765.2 678.7ZM758.1 678.6 772.3 678.8 772.2 688.5 757.9 688.4ZM807.9 678.5 815 678.3 815.2 688 808.1 688.2ZM757.9 688.4 765.1 688.5 765 698.2 757.7 698.1ZM808.1 688.2 815.2 688 815.5 697.7 808.3 697.9ZM750.5 697.9 765 698.2 764.8 707.9 750.3 707.6ZM750.3 707.6 757.6 707.8 757.4 717.5 750.1 717.3ZM750.1 717.3 757.4 717.5 757.2 727.2 749.9 727ZM749.9 727 757.2 727.2 757.1 736.9 749.6 736.7ZM786.8 727.3 794.2 727.3 794.3 737 786.8 737.1ZM749.6 736.7 764.5 737 764.4 746.7 749.4 746.5ZM772 737.1 779.4 737.1 779.4 746.8 771.9 746.8ZM831.5 736.1 838.9 735.8 839.3 745.5 831.9 745.8ZM756.9 746.6 771.9 746.8 771.9 756.5 756.8 756.3ZM816.9 746.3 824.4 746 824.7 755.7 817.1 756ZM809.6 756.2 817.1 756 817.4 765.7 809.8 765.9ZM794.9 795.2 802.7 795.1 802.9 804.8 795 805Z"/>
<path fill="#00d595" stroke="#00d595" stroke-width=".7" d="M751.4 659.1 758.4 659.2 758.2 668.9 751.2 668.8ZM751.2 668.8 765.3 669 765.2 678.7 750.9 678.5ZM750.9 678.5 758.1 678.6 757.9 688.4 750.7 688.2ZM750.7 688.2 757.9 688.4 757.7 698.1 750.5 697.9ZM801.1 698.1 808.3 697.9 808.5 707.6 801.2 707.8ZM743 707.4 750.3 707.6 750.1 717.3 742.7 717.2ZM801.2 707.8 808.5 707.6 808.7 717.3 801.4 717.5ZM742.7 717.2 750.1 717.3 749.9 727 742.5 726.9ZM794.1 717.6 801.4 717.5 801.6 727.2 794.2 727.3ZM742.5 726.9 749.9 727 749.6 736.7 742.2 736.6ZM794.2 727.3 801.6 727.2 801.7 736.9 794.3 737ZM742.2 736.6 749.6 736.7 749.4 746.5 741.9 746.3ZM779.4 737.1 786.8 737.1 786.9 746.8 779.4 746.8ZM749.4 746.5 756.9 746.6 756.8 756.3 749.2 756.2ZM809.4 746.5 816.9 746.3 817.1 756 809.6 756.2ZM787.2 795.3 794.9 795.2 795 805 787.2 805Z"/>
<path fill="#00aaaa" stroke="#00aaaa" stroke-width=".7" d="M716.4 657.8 751.4 659.1 751.2 668.8 715.9 667.5ZM701.8 666.7 751.2 668.8 750.9 678.5 701.2 676.4ZM701.2 676.4 750.9 678.5 750.7 688.2 700.6 686.1ZM815 678.3 822.1 678.1 822.4 687.8 815.2 688ZM707.8 686.5 750.7 688.2 750.5 697.9 707.2 696.2ZM815.2 688 822.4 687.8 822.7 697.5 815.5 697.7ZM707.2 696.2 750.5 697.9 750.3 707.6 706.7 705.9ZM808.3 697.9 815.5 697.7 815.8 707.4 808.5 707.6ZM706.7 705.9 743 707.4 742.7 717.2 706.1 715.6ZM844.9 706.3 859.4 705.5 860 715.2 845.4 716ZM706.1 715.6 742.7 717.2 742.5 726.9 705.6 725.3ZM801.4 717.5 808.7 717.3 808.9 727 801.6 727.2ZM838 716.4 852.7 715.6 853.2 725.3 838.5 726.1ZM705.6 725.3 742.5 726.9 742.2 736.6 705 735ZM801.6 727.2 808.9 727 809.2 736.7 801.7 736.9ZM831.1 726.4 845.8 725.7 846.3 735.4 831.5 736.1ZM697.6 734.6 742.2 736.6 741.9 746.3 697 744.3ZM786.8 737.1 831.5 736.1 831.9 745.8 786.9 746.8ZM697 744.3 749.4 746.5 749.2 756.2 696.4 754ZM771.9 746.8 779.4 746.8 779.4 756.5 771.9 756.5ZM801.9 746.6 809.4 746.5 809.6 756.2 802 756.3ZM696.4 754 719 755.2 718.6 764.9 695.8 763.6ZM726.6 755.5 749.2 756.2 749 765.9 726.2 765.2ZM802 756.3 809.6 756.2 809.8 765.9 802.2 766ZM794.6 766.1 809.8 765.9 810 775.6 794.7 775.8ZM787.1 775.9 810 775.6 810.2 785.3 787.1 785.6ZM787.1 785.6 802.5 785.4 802.7 795.1 787.2 795.3ZM779.4 795.3 787.2 795.3 787.2 805 779.4 805Z"/>
<path fill="#0080bf" stroke="#0080bf" stroke-width=".7" d="M822.1 678.1 829.2 677.9 829.6 687.6 822.4 687.8ZM822.4 687.8 829.6 687.6 829.9 697.3 822.7 697.5ZM851 686.5 858.2 686.1 858.8 695.8 851.6 696.2ZM815.5 697.7 822.7 697.5 823.1 707.2 815.8 707.4ZM808.5 707.6 815.8 707.4 816.1 717.2 808.7 717.3ZM830.3 707 844.9 706.3 845.4 716 830.7 716.7ZM808.7 717.3 816.1 717.2 816.3 726.9 808.9 727ZM823.4 716.9 838 716.4 838.5 726.1 823.7 726.6ZM808.9 727 816.3 726.9 816.6 736.6 809.2 736.7ZM823.7 726.6 831.1 726.4 831.5 736.1 824 736.3ZM779.4 746.8 801.9 746.6 802 756.3 779.4 756.5ZM719 755.2 726.6 755.5 726.2 765.2 718.6 764.9ZM749.2 756.2 764.3 756.4 764.2 766.1 749 765.9ZM771.9 756.5 802 756.3 802.2 766 771.8 766.2ZM695.8 763.6 733.8 765.4 733.5 775.1 695.2 773.3ZM787 766.2 794.6 766.1 794.7 775.8 787.1 775.9ZM702.9 773.8 710.5 774.2 710 783.9 702.3 783.5ZM702.3 783.5 710 783.9 709.5 793.6 701.8 793.2ZM764 785.5 787.1 785.6 787.2 795.3 763.9 795.2ZM740.6 794.8 779.4 795.3 779.4 805 740.3 804.5ZM740.3 804.5 763.8 805 763.6 814.7 740 814.2Z"/>
<path fill="#0055d5" stroke="#0055d5" stroke-width=".7" d="M829.2 677.9 857.6 676.4 858.2 686.1 829.6 687.6ZM829.6 687.6 836.7 687.3 837.2 697 829.9 697.3ZM843.9 686.9 851 686.5 851.6 696.2 844.4 696.6ZM822.7 697.5 858.8 695.8 859.4 705.5 823.1 707.2ZM815.8 707.4 830.3 707 830.7 716.7 816.1 717.2ZM816.1 717.2 823.4 716.9 823.7 726.6 816.3 726.9ZM816.3 726.9 823.7 726.6 824 736.3 816.6 736.6ZM764.3 756.4 771.9 756.5 771.8 766.2 764.2 766.1ZM733.8 765.4 787 766.2 787.1 775.9 733.5 775.1ZM710.5 774.2 748.8 775.6 787.1 775.9 787.1 785.6 748.6 785.3 710 783.9ZM710 783.9 733.1 784.9 732.8 794.6 709.5 793.6ZM740.8 785.1 764 785.5 763.9 795.2 740.6 794.8Z"/>
<path fill="#002bea" stroke="#002bea" stroke-width=".7" d="M836.7 687.3 843.9 686.9 844.4 696.6 837.2 697ZM733.1 784.9 740.8 785.1 740.6 794.8 732.8 794.6Z"/>
</g>
<path d="M730.4 658.5 724.3 813.7M765.4 659.3 763.6 814.7M800.4 659.2 803 814.6M835.4 658.2 842.4 813.4M686.9 782.5 717.7 784.3 748.6 785.3 779.4 785.6 810.2 785.3 841.1 784.3 871.9 782.5M690.2 734.1 719.9 735.8 749.6 736.7 779.4 737.1 809.2 736.7 838.9 735.8 868.6 734.1M693.4 685.7 722.1 687.3 750.7 688.2 779.4 688.5 808.1 688.2 836.7 687.3 865.4 685.7" fill="none" stroke="#c8c8c8" stroke-opacity=".3" stroke-width=".6" stroke-dasharray="1 1"/>
<path d="M813 670.2 809.5 671.1 805.3 672.3 801.9 671.8 798.5 670.5 795.1 671 792.4 672.3 788.2 671 785.6 668.9 781.4 670.1 778.6 670.7 773.3 671 768.2 670.4 764.9 669.4 759.6 668.2 756.3 667.5 753.8 666.1 750.3 668.4 746 667.5 741.7 667.4 737.5 668.4 734 666.6 731.5 664.7 728.9 663.3 725.6 662.9 723 664.2 720.4 665.8 719.1 667.9 720.4 670.5 716.9 669.5 713.5 670.5 710.1 671.7 706.8 673.8 704.5 676 704.1 678.5 706.2 680.2 707.6 682.1 710.1 683.2 711.4 684.6 708.4 685.4 710.1 687.4 712.2 689.7 712.7 691.3 710.2 692.1 709.7 694.8 709.3 697.3 710.2 700.7 710.6 705.8 711.4 712.6 711.5 720.4 710 722.6 708.7 727 707.6 732 705.4 737.2 703.3 742.3 700.7 746 698.6 748.3 698.2 752.5 696.8 756.7 696.5 759.4 698.9 760.1 702.3 759.4 704.9 756.8 705.7 754.7 708.4 752.5 705.8 756.8 704.1 759.7 702.4 761.1 700.7 762.8 701.1 764.9 704.1 764.5 706.6 764.1 708.8 766.1 706.6 767 706.3 770.5 705.7 774.7 706.7 779.8 705.4 784 704.1 788.2 702.7 792.5 705 791.6 708.7 790.8 712.6 791.6 716.1 792.5 719 793.8 722 792.6 725.8 790.6 729.7 790 733.1 790.5 736.6 792.2 739.9 795.2 742.5 798.1 744.2 796.8 746.8 793.8 744.2 796.8 742.5 798.1 741.6 801 744.2 803.6 746 807 749.4 810.4 752.8 812.9 755 814.3 757.5 812.1 759.2 809.2 761.4 806.1 764.9 805 768.1 804.8 771.6 802.7 775 800.6 777.1 800 782.2 799.8 787.4 800.6 792.5 799.7 797.6 800.3 800.1 800.6 801.8 798.1 805.2 797.6 807.9 799.7 810.8 796.7 812.6 793.4 813.9 790.1 816.5 787.1 819.8 784.1 823.3 782.8 826.7 783.3 829.2 781.4 828.4 778.9 830.1 774.6 831.7 770.5 834.3 766.7 837.7 764 841.2 762.3 842.9 759.7 840.8 757.6 838.2 756.4 836.5 752.6 835.2 747.4 835.2 744.1 837 739.7 839 735.6 841.7 731.2 844.6 726.9 846.8 723.3 848.9 722 851.1 720.8 849.7 720.1 850.6 717.5 853.2 714.4 857.5 712.2 861.8 711 866 709.8 866.9 709.3M813 670.2 814.7 673.1 816.4 673.6 815.9 677.3 818.9 677.8 823.2 678.7 827.5 681.2 831.7 681.2 836.1 683 841.2 682.6 845.5 682.9 846.8 680 850.6 681.3 855.8 682 857.9 683.8 857.1 686.4 859.1 687.2 861.8 685.5 861.4 683.8 857.9 683.8 861.4 683.8 861.8 685.5 864.3 686.3 865.5 688.2M813 670.2 814.7 667.3 815.5 663.7 816.4 658.9M709.3 697.3 711 696.4 715.2 694.7 718.7 694.3 719.5 696.5 720.3 699.8 723 699 727.2 699.9 730.6 700.6 734 698.6 738.4 698.2 742.5 698.5 742.6 702.4 744.3 704.2 747.7 705.8 746 709.3 742.6 711.7 739.2 714.3 736.6 716 738.3 719.4 738.3 724.6 737.5 729.6 734.9 732.3 735 734.8 736.7 737.4 735.8 740.6 734.1 742.9 730.7 742.8 727.2 742.5 726.7 743.6 728.9 746.6 730.7 750.2 732.4 752.6 735.3 755 732.4 758.4 730.1 761.8 729.4 766.1 731.5 769.6 734.8 771.3 733.5 773.8 730.1 775 728 778.8 725.9 783.2 725.8 790.6M843.8 813.3 848 808.8 853.2 805.2 858.3 802.4 865.1 800.7 873 799.8M857.9 755.6 859.6 753 862.5 751.6 864.3 752.9 862.9 755.5 860.9 757.2 858.3 756.7 857.9 755.6M860.5 759.7 863.9 760.7" fill="none" stroke="#000" stroke-width="1.2" stroke-linejoin="round"/>
<path d="M860.5 759.7 863.9 760.7M848.9 721.7 851.2 721" fill="none" stroke="#000" stroke-width="1.9" stroke-linecap="round"/>
<path d="M695.4 656.6 723.4 658.2 751.4 659.1 779.4 659.4 807.4 659.1 835.4 658.2 863.4 656.6 873.8 811.6 842.4 813.4 810.9 814.4 779.4 814.8 747.9 814.4 716.4 813.4 685 811.6Z" fill="none" stroke="#2e2e2e" stroke-width="1.15"/>
<g opacity=".82">
<text x="690.1" y="688.3" class="tk" text-anchor="end">42.5<tspan dy="-2.2" font-size="4.5">°</tspan><tspan dy="2.2"> N</tspan></text>
<text x="686.9" y="736.7" class="tk" text-anchor="end">40.0<tspan dy="-2.2" font-size="4.5">°</tspan><tspan dy="2.2"> N</tspan></text>
<text x="683.6" y="785.1" class="tk" text-anchor="end">37.5<tspan dy="-2.2" font-size="4.5">°</tspan><tspan dy="2.2"> N</tspan></text>
</g>
<text x="779.4" y="651.4" class="ti" text-anchor="middle">1969</text></g>
<g><g filter="url(#bl)">
<path fill="#00ff80" stroke="#00ff80" stroke-width=".7" d="M1031.3 746.3 1038.9 746.5 1038.6 756.2 1031.1 756ZM1046.4 746.6 1053.9 746.7 1053.8 756.4 1046.2 756.3ZM985.7 754 1000.8 754.8 1000.3 764.5 985.1 763.6ZM1015.9 755.5 1023.5 755.7 1023.2 765.4 1015.6 765.2ZM1084 756.4 1091.6 756.3 1091.8 766 1084.1 766.1ZM985.1 763.6 1015.6 765.2 1015.2 774.9 984.5 773.3ZM1091.8 766 1099.4 765.9 1099.6 775.6 1091.9 775.7ZM1099.8 785.3 1107.5 785.1 1107.8 794.8 1100 795Z"/>
<path fill="#00d595" stroke="#00d595" stroke-width=".7" d="M1032.4 707.4 1039.7 707.6 1039.5 717.3 1032.2 717.2ZM986.3 744.3 1031.3 746.3 1031.1 756 985.7 754ZM1038.9 746.5 1046.4 746.6 1046.2 756.3 1038.6 756.2ZM1053.9 746.7 1076.4 746.8 1076.5 756.5 1053.8 756.4ZM1000.8 754.8 1015.9 755.5 1015.6 765.2 1000.3 764.5ZM1099.4 765.9 1107 765.7 1107.3 775.4 1099.6 775.6ZM1099.6 775.6 1122.6 774.9 1123 784.6 1099.8 785.3Z"/>
<path fill="#00aaaa" stroke="#00aaaa" stroke-width=".7" d="M1097.2 668.8 1104.3 668.6 1104.6 678.3 1097.4 678.5ZM1040.4 678.5 1047.5 678.6 1047.3 688.4 1040.2 688.2ZM1025.8 687.8 1054.5 688.5 1054.4 698.2 1025.5 697.5ZM1112 687.8 1119.2 687.6 1119.6 697.3 1112.3 697.5ZM1133.5 686.9 1140.7 686.5 1141.3 696.2 1134 696.6ZM1018.2 697.3 1054.4 698.2 1054.3 707.9 1017.9 707ZM1017.9 707 1032.4 707.4 1032.2 717.2 1017.5 716.7ZM1039.7 707.6 1047 707.8 1046.9 717.5 1039.5 717.3ZM1083.5 707.9 1090.8 707.8 1090.9 717.5 1083.6 717.6ZM1024.8 716.9 1039.5 717.3 1039.3 727 1024.5 726.6ZM1024.5 726.6 1057.8 727.3 1091.1 727.2 1091.3 736.9 1057.7 737 1024.2 736.3ZM986.9 734.6 1020.4 736.2 1054 737 1053.9 746.7 1020.1 745.9 986.3 744.3ZM1061.4 737.1 1098.7 736.7 1098.9 746.5 1061.4 746.8ZM1076.4 746.8 1091.4 746.6 1091.6 756.3 1076.5 756.5ZM1091.6 756.3 1099.2 756.2 1099.4 765.9 1091.8 766ZM1107 765.7 1122.2 765.2 1122.6 774.9 1107.3 775.4Z"/>
<path fill="#0080bf" stroke="#0080bf" stroke-width=".7" d="M1012.3 667.9 1019.4 668.2 1019 677.9 1011.9 677.6ZM1026.4 668.4 1033.5 668.6 1033.2 678.3 1026.1 678.1ZM1083.1 669 1097.2 668.8 1097.4 678.5 1083.2 678.7ZM1011.9 677.6 1040.4 678.5 1040.2 688.2 1011.4 687.3ZM1047.5 678.6 1061.8 678.8 1061.7 688.5 1047.3 688.4ZM1083.2 678.7 1111.7 678.1 1140.2 676.8 1140.7 686.5 1112 687.8 1083.3 688.5ZM1004.3 686.9 1025.8 687.8 1025.5 697.5 1003.8 696.6ZM1054.5 688.5 1068.9 688.5 1068.9 698.2 1054.4 698.2ZM1076.1 688.5 1090.5 688.4 1090.6 698.1 1076.1 698.2ZM1097.6 688.2 1112 687.8 1112.3 697.5 1097.9 697.9ZM1119.2 687.6 1133.5 686.9 1134 696.6 1119.6 697.3ZM1140.7 686.5 1147.9 686.1 1148.5 695.8 1141.3 696.2ZM1011 697 1018.2 697.3 1017.9 707 1010.6 706.7ZM1054.4 698.2 1085.8 698.1 1117.2 697.3 1148.5 695.8 1149.1 705.5 1117.5 707.1 1085.9 707.8 1054.3 707.9ZM1010.6 706.7 1017.9 707 1017.5 716.7 1010.1 716.4ZM1047 707.8 1083.5 707.9 1083.6 717.6 1046.9 717.5ZM1090.8 707.8 1105.4 707.4 1105.6 717.2 1090.9 717.5ZM1141.8 705.9 1149.1 705.5 1149.7 715.2 1142.4 715.6ZM1010.1 716.4 1024.8 716.9 1024.5 726.6 1009.7 726.1ZM1039.5 717.3 1072.6 717.7 1105.6 717.2 1105.9 726.9 1072.6 727.4 1039.3 727ZM1135 716 1142.4 715.6 1142.9 725.3 1135.5 725.7ZM994.9 725.3 1024.5 726.6 1024.2 736.3 994.4 735ZM1091.1 727.2 1105.9 726.9 1106.2 736.6 1091.3 736.9ZM1054 737 1061.4 737.1 1061.4 746.8 1053.9 746.7ZM1114.3 755.7 1129.4 755.2 1129.9 764.9 1114.6 765.4ZM1122.2 765.2 1129.9 764.9 1130.3 774.6 1122.6 774.9Z"/>
<path fill="#0055d5" stroke="#0055d5" stroke-width=".7" d="M1005.7 657.8 1054.9 659.3 1054.7 669 1005.2 667.5ZM991.1 666.7 1012.3 667.9 1011.9 677.6 990.5 676.4ZM1019.4 668.2 1026.4 668.4 1026.1 678.1 1019 677.9ZM1033.5 668.6 1083.1 669 1083.2 678.7 1033.2 678.3ZM990.5 676.4 1011.9 677.6 1011.4 687.3 989.9 686.1ZM1061.8 678.8 1083.2 678.7 1083.3 688.5 1061.7 688.5ZM1140.2 676.8 1147.3 676.4 1147.9 686.1 1140.7 686.5ZM997.1 686.5 1004.3 686.9 1003.8 696.6 996.5 696.2ZM1068.9 688.5 1076.1 688.5 1076.1 698.2 1068.9 698.2ZM1090.5 688.4 1097.6 688.2 1097.9 697.9 1090.6 698.1ZM996.5 696.2 1011 697 1010.6 706.7 996 705.9ZM996 705.9 1010.6 706.7 1010.1 716.4 995.4 715.6ZM1105.4 707.4 1141.8 705.9 1142.4 715.6 1105.6 717.2ZM995.4 715.6 1010.1 716.4 1009.7 726.1 994.9 725.3ZM1105.6 717.2 1113 716.9 1113.3 726.6 1105.9 726.9ZM1120.3 716.7 1135 716 1135.5 725.7 1120.7 726.4ZM1105.9 726.9 1113.3 726.6 1113.6 736.3 1106.2 736.6ZM1120.7 726.4 1135.5 725.7 1136 735.4 1121.1 736.1ZM1098.7 736.7 1113.6 736.3 1114 746 1098.9 746.5ZM1121.1 736.1 1128.5 735.8 1129 745.5 1121.5 745.8ZM1091.4 746.6 1129 745.5 1129.4 755.2 1091.6 756.3ZM1099.2 756.2 1114.3 755.7 1114.6 765.4 1099.4 765.9Z"/>
<path fill="#002bea" stroke="#002bea" stroke-width=".7" d="M1113 716.9 1120.3 716.7 1120.7 726.4 1113.3 726.6ZM1113.3 726.6 1120.7 726.4 1121.1 736.1 1113.6 736.3ZM1113.6 736.3 1121.1 736.1 1121.5 745.8 1114 746Z"/>
</g>
<path d="M1019.8 658.5 1013.7 813.7M1054.9 659.3 1053.1 814.7M1090 659.2 1092.6 814.6M1125.1 658.2 1132 813.4M976.2 782.5 1007.1 784.3 1038 785.3 1068.9 785.6 1099.8 785.3 1130.7 784.3 1161.6 782.5M979.5 734.1 1009.3 735.8 1039.1 736.7 1068.9 737.1 1098.7 736.7 1128.5 735.8 1158.3 734.1M982.7 685.7 1011.4 687.3 1040.2 688.2 1068.9 688.5 1097.6 688.2 1126.4 687.3 1155.1 685.7" fill="none" stroke="#c8c8c8" stroke-opacity=".3" stroke-width=".6" stroke-dasharray="1 1"/>
<path d="M1102.6 670.2 1099.1 671.1 1094.9 672.3 1091.5 671.8 1088 670.5 1084.6 671 1082 672.3 1077.7 671 1075.1 668.9 1070.9 670.1 1068 670.7 1062.8 671 1057.7 670.4 1054.3 669.4 1049.1 668.2 1045.7 667.5 1043.2 666.1 1039.8 668.4 1035.4 667.5 1031.2 667.4 1026.9 668.4 1023.4 666.6 1020.9 664.7 1018.3 663.3 1014.9 662.9 1012.3 664.2 1009.7 665.8 1008.5 667.9 1009.8 670.5 1006.3 669.5 1002.8 670.5 999.5 671.7 996.1 673.8 993.8 676 993.4 678.5 995.6 680.2 996.9 682.1 999.4 683.2 1000.8 684.6 997.7 685.4 999.5 687.4 1001.5 689.7 1002 691.3 999.5 692.1 999.1 694.8 998.7 697.3 999.5 700.7 999.9 705.8 1000.8 712.6 1000.8 720.4 999.3 722.6 998.1 727 996.9 732 994.7 737.2 992.6 742.3 990 746 987.9 748.3 987.5 752.5 986.2 756.7 985.8 759.4 988.2 760.1 991.6 759.4 994.2 756.8 995.1 754.7 997.8 752.5 995.1 756.8 993.4 759.7 991.7 761.1 990.1 762.8 990.4 764.9 993.5 764.5 995.9 764.1 998.1 766.1 995.9 767 995.6 770.5 995 774.7 996 779.8 994.7 784 993.4 788.2 992.1 792.5 994.3 791.6 998.1 790.8 1001.9 791.6 1005.5 792.5 1008.4 793.8 1011.4 792.6 1015.2 790.6 1019.1 790 1022.5 790.5 1026 792.2 1029.3 795.2 1031.9 798.1 1033.7 796.8 1036.2 793.8 1033.7 796.8 1031.9 798.1 1031.1 801 1033.6 803.6 1035.4 807 1038.8 810.4 1042.2 812.9 1044.4 814.3 1047 812.1 1048.6 809.2 1050.9 806.1 1054.3 805 1057.6 804.8 1061.1 802.7 1064.5 800.6 1066.6 800 1071.7 799.8 1076.9 800.6 1082 799.7 1087.2 800.3 1089.7 800.6 1091.4 798.1 1094.8 797.6 1097.5 799.7 1100.4 796.7 1102.2 793.4 1103.5 790.1 1106.1 787.1 1109.4 784.1 1112.9 782.8 1116.3 783.3 1118.9 781.4 1118 778.9 1119.7 774.6 1121.4 770.5 1124 766.7 1127.4 764 1130.8 762.3 1132.5 759.7 1130.4 757.6 1127.8 756.4 1126.1 752.6 1124.9 747.4 1124.9 744.1 1126.6 739.7 1128.7 735.6 1131.3 731.2 1134.2 726.9 1136.4 723.3 1138.6 722 1140.7 720.8 1139.4 720.1 1140.2 717.5 1142.9 714.4 1147.2 712.2 1151.5 711 1155.7 709.8 1156.7 709.3M1102.6 670.2 1104.3 673.1 1106 673.6 1105.5 677.3 1108.5 677.8 1112.8 678.7 1117.1 681.2 1121.4 681.2 1125.7 683 1130.9 682.6 1135.2 682.9 1136.5 680 1140.3 681.3 1145.5 682 1147.6 683.8 1146.8 686.4 1148.8 687.2 1151.5 685.5 1151.1 683.8 1147.6 683.8 1151.1 683.8 1151.5 685.5 1154 686.3 1155.2 688.2M1102.6 670.2 1104.2 667.3 1105.1 663.7 1106 658.9M998.7 697.3 1000.3 696.4 1004.6 694.7 1008.1 694.3 1008.8 696.5 1009.7 699.8 1012.4 699 1016.5 699.9 1020 700.6 1023.4 698.6 1027.8 698.2 1032 698.5 1032 702.4 1033.7 704.2 1037.1 705.8 1035.4 709.3 1032 711.7 1028.6 714.3 1026 716 1027.7 719.4 1027.7 724.6 1026.9 729.6 1024.3 732.3 1024.4 734.8 1026.1 737.4 1025.2 740.6 1023.5 742.9 1020 742.8 1016.6 742.5 1016.1 743.6 1018.2 746.6 1020.1 750.2 1021.8 752.6 1024.7 755 1021.7 758.4 1019.5 761.8 1018.7 766.1 1020.9 769.6 1024.2 771.3 1022.9 773.8 1019.5 775 1017.3 778.8 1015.3 783.2 1015.2 790.6M1133.5 813.3 1137.7 808.8 1142.8 805.2 1148 802.4 1154.8 800.7 1162.8 799.8M1147.6 755.6 1149.3 753 1152.2 751.6 1154 752.9 1152.6 755.5 1150.6 757.2 1148 756.7 1147.6 755.6M1150.2 759.7 1153.6 760.7" fill="none" stroke="#000" stroke-width="1.2" stroke-linejoin="round"/>
<path d="M1150.2 759.7 1153.6 760.7M1138.6 721.7 1140.9 721" fill="none" stroke="#000" stroke-width="1.9" stroke-linecap="round"/>
<path d="M984.7 656.6 1012.7 658.2 1040.8 659.1 1068.9 659.4 1097 659.1 1125.1 658.2 1153.1 656.6 1163.6 811.6 1132 813.4 1100.5 814.4 1068.9 814.8 1037.3 814.4 1005.8 813.4 974.2 811.6Z" fill="none" stroke="#2e2e2e" stroke-width="1.15"/>
<g opacity=".82">
<text x="979.4" y="688.3" class="tk" text-anchor="end">42.5<tspan dy="-2.2" font-size="4.5">°</tspan><tspan dy="2.2"> N</tspan></text>
<text x="976.2" y="736.7" class="tk" text-anchor="end">40.0<tspan dy="-2.2" font-size="4.5">°</tspan><tspan dy="2.2"> N</tspan></text>
<text x="972.9" y="785.1" class="tk" text-anchor="end">37.5<tspan dy="-2.2" font-size="4.5">°</tspan><tspan dy="2.2"> N</tspan></text>
</g>
<text x="1068.9" y="651.4" class="ti" text-anchor="middle">1977</text></g>
<g><g filter="url(#bl)">
<path fill="#00ff80" stroke="#00ff80" stroke-width=".7" d="M215.8 859.5 229.9 859.4 230 869.1 215.8 869.2ZM244.1 859.2 251.1 859 251.4 868.7 244.3 868.9ZM237.2 869 258.5 868.5 258.9 878.2 237.3 878.8ZM244.5 878.6 251.7 878.4 252 888.1 244.7 888.3ZM260.5 926.7 275.4 926.2 275.8 935.9 260.8 936.4ZM253.3 936.7 260.8 936.4 261.1 946.1 253.6 946.4ZM246 946.6 253.6 946.4 253.9 956.1 246.2 956.3ZM246.2 956.3 253.9 956.1 254.1 965.8 246.5 966ZM246.5 966 254.1 965.8 254.4 975.5 246.7 975.7ZM246.7 975.7 254.4 975.5 254.7 985.2 246.9 985.4ZM239.1 985.5 254.7 985.2 254.9 994.9 239.3 995.2Z"/>
<path fill="#00d595" stroke="#00d595" stroke-width=".7" d="M194.8 849.6 201.8 849.7 201.7 859.4 194.6 859.3ZM208.7 859.5 215.8 859.5 215.8 869.2 208.7 869.2ZM230 869.1 237.2 869 237.3 878.8 230.2 878.9ZM237.3 878.8 244.5 878.6 244.7 888.3 237.5 888.5ZM251.7 878.4 258.9 878.2 259.2 887.9 252 888.1ZM244.7 888.3 266.4 887.7 266.8 897.4 244.9 898ZM259.5 897.6 274.1 897.1 274.5 906.8 259.8 907.3ZM259.8 907.3 281.8 906.4 282.3 916.1 260.2 917ZM252.8 917.3 282.3 916.1 282.8 925.8 253 927ZM171.1 926.7 193.5 927.3 193.3 937 170.8 936.4ZM253 927 260.5 926.7 260.8 936.4 253.3 936.7ZM245.8 936.9 253.3 936.7 253.6 946.4 246 946.6Z"/>
<path fill="#00aaaa" stroke="#00aaaa" stroke-width=".7" d="M173.7 849.1 194.8 849.6 194.6 859.3 173.4 858.8ZM180.5 859 208.7 859.5 208.7 869.2 180.2 868.7ZM222.9 869.2 230 869.1 230.2 878.9 223 878.9ZM258.5 868.5 265.6 868.3 266 878 258.9 878.2ZM230.2 878.9 237.3 878.8 237.5 888.5 230.3 888.6ZM258.9 878.2 266 878 266.4 887.7 259.2 887.9ZM230.3 888.6 244.7 888.3 244.9 898 230.4 898.3ZM266.4 887.7 273.6 887.4 274.1 897.1 266.8 897.4ZM237.7 898.2 259.5 897.6 259.8 907.3 237.8 907.9ZM274.1 897.1 281.3 896.7 281.8 906.4 274.5 906.8ZM142.4 906 171.8 907.3 201.1 908 230.5 908 259.8 907.3 260.2 917 230.6 917.7 201 917.7 171.4 917 141.9 915.7ZM281.8 906.4 289.2 906 289.7 915.7 282.3 916.1ZM141.9 915.7 173.9 917.1 205.9 917.7 238 917.6 238.1 927.3 205.9 927.4 173.6 926.8 141.3 925.4ZM245.4 917.4 252.8 917.3 253 927 245.6 927.1ZM133.9 925 171.1 926.7 170.8 936.4 133.3 934.7ZM193.5 927.3 238.1 927.3 238.3 937 193.3 937ZM245.6 927.1 253 927 253.3 936.7 245.8 936.9ZM133.3 934.7 167 936.3 200.8 937.1 200.7 946.8 166.7 946 132.7 944.4ZM238.3 937 245.8 936.9 246 946.6 238.5 946.7ZM132.7 944.4 162.9 945.9 162.5 955.6 132.1 954ZM238.5 946.7 246 946.6 246.2 956.3 238.6 956.4ZM132.1 954 147.3 954.9 146.8 964.6 131.5 963.7ZM238.6 956.4 246.2 956.3 246.5 966 238.8 966.1ZM139.2 964.2 146.8 964.6 146.3 974.3 138.6 973.9ZM238.8 966.1 246.5 966 246.7 975.7 239 975.8ZM239 975.8 246.7 975.7 246.9 985.4 239.1 985.5Z"/>
<path fill="#0080bf" stroke="#0080bf" stroke-width=".7" d="M152.7 848.2 173.7 849.1 173.4 858.8 152.2 857.9ZM138.1 857.1 180.5 859 180.2 868.7 137.5 866.8ZM137.5 866.8 166 868.3 194.4 869 222.9 869.2 223 878.9 194.3 878.8 165.6 878 136.9 876.5ZM265.6 868.3 272.8 868 273.2 877.7 266 878ZM144.1 876.9 172.7 878.2 201.4 878.9 230.2 878.9 230.3 888.6 201.3 888.6 172.4 887.9 143.5 886.6ZM266 878 273.2 877.7 273.6 887.4 266.4 887.7ZM143.5 886.6 172.4 887.9 201.3 888.6 230.3 888.6 230.4 898.3 201.2 898.3 172.1 897.6 143 896.3ZM273.6 887.4 280.9 887 281.3 896.7 274.1 897.1ZM143 896.3 174.5 897.7 206.1 898.3 237.7 898.2 237.8 907.9 206 908 174.2 907.4 142.4 906ZM238 917.6 245.4 917.4 245.6 927.1 238.1 927.3ZM238.1 927.3 245.6 927.1 245.8 936.9 238.3 937ZM200.8 937.1 238.3 937 238.5 946.7 200.7 946.8ZM162.9 945.9 200.7 946.8 200.6 956.5 162.5 955.6ZM230.9 946.8 238.5 946.7 238.6 956.4 231 956.5ZM147.3 954.9 185.4 956.3 185.1 966 146.8 964.6ZM146.8 964.6 185.1 966 184.9 975.7 146.3 974.3ZM138.6 973.9 177.2 975.5 176.9 985.2 138.1 983.6ZM176.9 985.2 192.5 985.5 192.3 995.2 176.7 994.9ZM223.6 985.7 239.1 985.5 239.3 995.2 223.6 995.4ZM176.7 994.9 200.1 995.4 200 1005.1 176.4 1004.6Z"/>
<path fill="#0055d5" stroke="#0055d5" stroke-width=".7" d="M272.8 868 279.9 867.6 280.4 877.3 273.2 877.7ZM273.2 877.7 280.4 877.3 280.9 887 273.6 887.4ZM280.9 887 295.3 886.2 295.9 895.9 281.3 896.7ZM281.3 896.7 295.9 895.9 296.5 905.6 281.8 906.4ZM200.7 946.8 230.9 946.8 231 956.5 200.6 956.5ZM185.4 956.3 238.6 956.4 238.8 966.1 185.1 966ZM185.1 966 200.5 966.2 200.4 975.9 184.9 975.7ZM215.8 966.3 238.8 966.1 239 975.8 215.8 976ZM177.2 975.5 208.1 976 239 975.8 239.1 985.5 208 985.7 176.9 985.2ZM192.5 985.5 223.6 985.7 223.6 995.4 192.3 995.2Z"/>
<path fill="#002bea" stroke="#002bea" stroke-width=".7" d="M279.9 867.6 294.1 866.8 294.7 876.5 280.4 877.3ZM280.4 877.3 294.7 876.5 295.3 886.2 280.9 887ZM200.5 966.2 215.8 966.3 215.8 976 200.4 975.9Z"/>
</g>
<path d="M166.7 848.9 160.6 1004.1M201.8 849.7 200 1005.1M236.8 849.6 239.5 1005M271.9 848.6 278.9 1003.8M123.2 972.9 154 974.7 184.9 975.7 215.8 976 246.7 975.7 277.6 974.7 308.4 972.9M126.5 924.5 156.2 926.2 186 927.1 215.8 927.5 245.6 927.1 275.4 926.2 305.1 924.5M129.7 876.1 158.4 877.7 187.1 878.6 215.8 878.9 244.5 878.6 273.2 877.7 301.9 876.1" fill="none" stroke="#c8c8c8" stroke-opacity=".3" stroke-width=".6" stroke-dasharray="1 1"/>
<path d="M249.5 860.6 246 861.5 241.7 862.7 238.3 862.2 234.9 860.9 231.5 861.4 228.8 862.7 224.6 861.4 222 859.3 217.8 860.5 215 861.1 209.7 861.4 204.6 860.8 201.2 859.8 196 858.6 192.6 857.9 190.1 856.5 186.7 858.8 182.3 857.9 178.1 857.8 173.8 858.8 170.4 857 167.9 855.1 165.3 853.7 161.9 853.3 159.3 854.6 156.7 856.2 155.5 858.3 156.7 860.9 153.2 859.9 149.8 860.9 146.5 862.1 143.1 864.2 140.8 866.4 140.4 868.9 142.6 870.6 143.9 872.5 146.4 873.6 147.8 875 144.7 875.8 146.5 877.8 148.5 880.1 149 881.7 146.5 882.5 146.1 885.2 145.6 887.7 146.5 891.1 146.9 896.2 147.7 903 147.8 910.8 146.3 913 145.1 917.4 143.9 922.4 141.7 927.6 139.6 932.7 137 936.4 134.9 938.7 134.5 942.9 133.1 947.1 132.8 949.8 135.2 950.5 138.6 949.8 141.2 947.2 142.1 945.1 144.7 942.9 142.1 947.2 140.4 950.1 138.7 951.5 137 953.2 137.4 955.3 140.5 954.9 142.9 954.5 145.1 956.5 142.9 957.4 142.6 960.9 142 965.1 143 970.2 141.7 974.4 140.4 978.6 139.1 982.9 141.3 982 145.1 981.2 148.9 982 152.4 982.9 155.3 984.2 158.3 983 162.1 981 166 980.4 169.4 980.9 173 982.6 176.3 985.6 178.9 988.5 180.6 987.2 183.2 984.2 180.6 987.2 178.9 988.5 178 991.4 180.6 994 182.4 997.4 185.8 1000.8 189.2 1003.3 191.4 1004.7 193.9 1002.5 195.5 999.6 197.8 996.5 201.2 995.4 204.5 995.2 208 993.1 211.4 991 213.5 990.4 218.6 990.2 223.8 991 228.9 990.1 234.1 990.7 236.6 991 238.2 988.5 241.7 988 244.4 990.1 247.3 987.1 249 983.8 250.4 980.5 252.9 977.5 256.2 974.5 259.7 973.2 263.1 973.7 265.7 971.8 264.8 969.3 266.5 965 268.2 960.9 270.8 957.1 274.2 954.4 277.6 952.7 279.3 950.1 277.3 948 274.6 946.8 273 943 271.7 937.8 271.7 934.5 273.5 930.1 275.5 926 278.1 921.6 281.1 917.3 283.2 913.7 285.4 912.4 287.5 911.2 286.2 910.5 287.1 907.9 289.7 904.8 294 902.6 298.3 901.4 302.5 900.2 303.5 899.7M249.5 860.6 251.1 863.5 252.8 864 252.4 867.7 255.4 868.2 259.7 869.1 263.9 871.6 268.2 871.6 272.6 873.4 277.7 873 282 873.3 283.3 870.4 287.1 871.7 292.3 872.4 294.4 874.2 293.6 876.8 295.6 877.6 298.3 875.9 297.9 874.2 294.4 874.2 297.9 874.2 298.3 875.9 300.8 876.7 302 878.6M249.5 860.6 251.1 857.7 252 854.1 252.8 849.3M145.6 887.7 147.3 886.8 151.6 885.1 155.1 884.7 155.8 886.9 156.7 890.2 159.3 889.4 163.5 890.3 166.9 891 170.4 889 174.7 888.6 178.9 888.9 178.9 892.8 180.6 894.6 184.1 896.2 182.4 899.7 179 902.1 175.5 904.7 173 906.4 174.6 909.8 174.6 915 173.9 920 171.2 922.7 171.3 925.2 173 927.8 172.2 931 170.4 933.3 167 933.2 163.6 932.9 163.1 934 165.2 937 167 940.6 168.8 943 171.7 945.4 168.7 948.8 166.5 952.2 165.7 956.5 167.9 960 171.2 961.7 169.9 964.2 166.4 965.4 164.3 969.2 162.3 973.6 162.1 981M280.3 1003.7 284.5 999.2 289.6 995.6 294.8 992.8 301.6 991.1 309.6 990.2M294.4 946 296.1 943.4 299 942 300.8 943.3 299.4 945.9 297.4 947.6 294.8 947.1 294.4 946M297 950.1 300.4 951.1" fill="none" stroke="#000" stroke-width="1.2" stroke-linejoin="round"/>
<path d="M297 950.1 300.4 951.1M285.4 912.1 287.7 911.4" fill="none" stroke="#000" stroke-width="1.9" stroke-linecap="round"/>
<path d="M131.7 847 159.7 848.6 187.7 849.5 215.8 849.8 243.9 849.5 271.9 848.6 299.9 847 310.3 1002 278.9 1003.8 247.3 1004.8 215.8 1005.2 184.3 1004.8 152.7 1003.8 121.3 1002Z" fill="none" stroke="#2e2e2e" stroke-width="1.15"/>
<g opacity=".82">
<text x="126.4" y="878.7" class="tk" text-anchor="end">42.5<tspan dy="-2.2" font-size="4.5">°</tspan><tspan dy="2.2"> N</tspan></text>
<text x="123.2" y="927.1" class="tk" text-anchor="end">40.0<tspan dy="-2.2" font-size="4.5">°</tspan><tspan dy="2.2"> N</tspan></text>
<text x="119.9" y="975.5" class="tk" text-anchor="end">37.5<tspan dy="-2.2" font-size="4.5">°</tspan><tspan dy="2.2"> N</tspan></text>
</g>
<text x="215.8" y="841.8" class="ti" text-anchor="middle">1960</text></g>
<g><g filter="url(#bl)">
<path fill="#00ff80" stroke="#00ff80" stroke-width=".7" d="M431.6 867.2 438.7 867.6 438.2 877.3 431.1 876.9ZM427.3 944.8 434.8 945.2 434.3 954.9 426.7 954.5ZM441.9 955.3 449.5 955.6 449.1 965.3 441.5 965ZM556.1 955.6 563.7 955.3 564.1 965 556.5 965.3ZM541.1 965.8 556.5 965.3 556.8 975 541.4 975.5Z"/>
<path fill="#00d595" stroke="#00d595" stroke-width=".7" d="M425.1 857.1 446.3 858.3 445.8 868 424.5 866.8ZM424.5 866.8 431.6 867.2 431.1 876.9 423.9 876.5ZM438.7 867.6 445.8 868 445.4 877.7 438.2 877.3ZM431.1 876.9 438.2 877.3 437.7 887 430.5 886.6ZM553 878 560.2 877.7 560.6 887.4 553.4 887.7ZM574.5 876.9 581.7 876.5 582.3 886.2 575.1 886.6ZM430.5 886.6 437.7 887 437.3 896.7 430 896.3ZM430 896.3 451.8 897.4 451.4 907.1 429.4 906ZM429.4 906 458.8 907.3 458.4 917 428.9 915.7ZM428.9 915.7 465.8 917.3 465.6 927 428.3 925.4ZM420.9 925 450.7 926.5 480.5 927.3 480.3 937 450.3 936.2 420.3 934.7ZM420.3 934.7 472.8 936.9 472.6 946.6 419.7 944.4ZM419.7 944.4 427.3 944.8 426.7 954.5 419.1 954ZM434.8 945.2 472.6 946.6 472.4 956.3 434.3 954.9ZM548.1 946.1 563.2 945.6 563.7 955.3 548.5 955.8ZM419.1 954 441.9 955.3 441.5 965 418.5 963.7ZM449.5 955.6 464.7 956.1 464.5 965.8 449.1 965.3ZM540.9 956.1 556.1 955.6 556.5 965.3 541.1 965.8ZM426.2 964.2 456.8 965.5 456.5 975.3 425.6 973.9ZM425.6 973.9 456.5 975.3 456.2 985 425.1 983.6ZM526 975.8 533.7 975.7 533.9 985.4 526.1 985.5ZM463.9 985.2 471.7 985.4 471.5 995.1 463.7 994.9ZM533.9 985.4 541.7 985.2 541.9 994.9 534.1 995.1ZM463.7 994.9 471.5 995.1 471.3 1004.8 463.4 1004.6ZM479.3 995.2 487.1 995.4 487 1005.1 479.1 1005Z"/>
<path fill="#00aaaa" stroke="#00aaaa" stroke-width=".7" d="M439.7 848.2 453.7 848.9 453.3 858.6 439.2 857.9ZM446.3 858.3 460.4 858.8 460.1 868.5 445.8 868ZM445.8 868 460.1 868.5 459.7 878.2 445.4 877.7ZM552.6 868.3 581.1 866.8 581.7 876.5 553 878ZM438.2 877.3 459.7 878.2 459.4 887.9 437.7 887ZM560.2 877.7 574.5 876.9 575.1 886.6 560.6 887.4ZM437.7 887 466.6 888.1 466.4 897.8 437.3 896.7ZM546.2 887.9 575.1 886.6 575.6 896.3 546.5 897.6ZM451.8 897.4 466.4 897.8 466.1 907.6 451.4 907.1ZM539.2 897.8 575.6 896.3 576.2 906 539.5 907.6ZM458.8 907.3 466.1 907.6 465.8 917.3 458.4 917ZM473.4 907.7 480.8 907.9 480.6 917.6 473.2 917.4ZM539.5 907.6 576.2 906 576.7 915.7 539.8 917.3ZM465.8 917.3 473.2 917.4 473 927.1 465.6 927ZM480.6 917.6 488 917.7 487.9 927.4 480.5 927.3ZM532.4 917.4 554.6 916.8 554.9 926.5 532.6 927.1ZM480.5 927.3 495.4 927.5 495.3 937.2 480.3 937ZM547.5 926.7 562.4 926.2 562.8 935.9 547.8 936.4ZM472.8 936.9 487.8 937.1 487.7 946.8 472.6 946.6ZM540.3 936.7 562.8 935.9 563.2 945.6 540.6 946.4ZM472.6 946.6 480.1 946.7 480 956.4 472.4 956.3ZM540.6 946.4 548.1 946.1 548.5 955.8 540.9 956.1ZM464.7 956.1 480 956.4 479.8 966.1 464.5 965.8ZM525.6 956.4 540.9 956.1 541.1 965.8 525.8 966.1ZM456.8 965.5 472.1 966 471.9 975.7 456.5 975.3ZM525.8 966.1 541.1 965.8 541.4 975.5 526 975.8ZM456.5 975.3 487.4 975.9 487.2 985.6 456.2 985ZM518.2 975.9 526 975.8 526.1 985.5 518.4 985.6ZM533.7 975.7 541.4 975.5 541.7 985.2 533.9 985.4ZM471.7 985.4 502.8 985.7 533.9 985.4 534.1 995.1 502.8 995.4 471.5 995.1ZM471.5 995.1 479.3 995.2 479.1 1005 471.3 1004.8Z"/>
<path fill="#0080bf" stroke="#0080bf" stroke-width=".7" d="M453.7 848.9 460.7 849.1 460.4 858.8 453.3 858.6ZM460.1 868.5 474.3 868.9 474.1 878.6 459.7 878.2ZM531.3 868.9 552.6 868.3 553 878 531.5 878.6ZM459.7 878.2 488.4 878.9 488.3 888.6 459.4 887.9ZM531.5 878.6 553 878 553.4 887.7 531.7 888.3ZM466.6 888.1 488.3 888.6 488.2 898.3 466.4 897.8ZM524.5 888.5 546.2 887.9 546.5 897.6 524.7 898.2ZM575.1 886.6 582.3 886.2 582.9 895.9 575.6 896.3ZM466.4 897.8 495.5 898.3 495.5 908 466.1 907.6ZM531.9 898 539.2 897.8 539.5 907.6 532.2 907.7ZM575.6 896.3 582.9 895.9 583.5 905.6 576.2 906ZM466.1 907.6 473.4 907.7 473.2 917.4 465.8 917.3ZM480.8 907.9 510.1 908 510.2 917.7 480.6 917.6ZM532.2 907.7 539.5 907.6 539.8 917.3 532.4 917.4ZM473.2 917.4 480.6 917.6 480.5 927.3 473 927.1ZM488 917.7 525 917.6 525.1 927.3 487.9 927.4ZM554.6 916.8 569.3 916.1 569.8 925.8 554.9 926.5ZM495.4 927.5 502.8 927.5 502.8 937.2 495.3 937.2ZM517.7 927.4 547.5 926.7 547.8 936.4 517.8 937.1ZM487.8 937.1 502.8 937.2 502.8 946.9 487.7 946.8ZM525.3 937 540.3 936.7 540.6 946.4 525.5 946.7ZM480.1 946.7 487.7 946.8 487.6 956.5 480 956.4ZM525.5 946.7 540.6 946.4 540.9 956.1 525.6 956.4ZM518 956.5 525.6 956.4 525.8 966.1 518.1 966.2ZM472.1 966 502.8 966.3 502.8 976 471.9 975.7ZM510.5 966.3 525.8 966.1 526 975.8 510.5 976ZM487.4 975.9 518.2 975.9 518.4 985.6 487.2 985.6Z"/>
<path fill="#0055d5" stroke="#0055d5" stroke-width=".7" d="M460.7 849.1 467.7 849.3 467.5 859 460.4 858.8ZM460.4 858.8 474.5 859.2 474.3 868.9 460.1 868.5ZM488.7 859.4 495.7 859.5 495.7 869.2 488.6 869.1ZM516.9 859.4 538.1 859 538.4 868.7 517 869.1ZM474.3 868.9 495.7 869.2 495.6 878.9 474.1 878.6ZM517 869.1 531.3 868.9 531.5 878.6 517.2 878.9ZM488.4 878.9 502.8 878.9 502.8 888.6 488.3 888.6ZM524.3 878.8 531.5 878.6 531.7 888.3 524.5 888.5ZM488.3 888.6 502.8 888.6 502.8 898.4 488.2 898.3ZM517.3 888.6 524.5 888.5 524.7 898.2 517.4 898.3ZM495.5 898.3 510.1 898.3 510.1 908 495.5 908ZM517.4 898.3 531.9 898 532.2 907.7 517.5 908ZM510.1 908 532.2 907.7 532.4 917.4 510.2 917.7ZM525 917.6 532.4 917.4 532.6 927.1 525.1 927.3ZM502.8 927.5 517.7 927.4 517.8 937.1 502.8 937.2ZM502.8 937.2 525.3 937 525.5 946.7 502.8 946.9ZM487.7 946.8 525.5 946.7 525.6 956.4 487.6 956.5ZM480 956.4 518 956.5 518.1 966.2 479.8 966.1ZM502.8 966.3 510.5 966.3 510.5 976 502.8 976Z"/>
<path fill="#002bea" stroke="#002bea" stroke-width=".7" d="M467.7 849.3 488.8 849.7 488.7 859.4 467.5 859ZM474.5 859.2 488.7 859.4 488.6 869.1 474.3 868.9ZM495.7 859.5 516.9 859.4 517 869.1 495.7 869.2ZM495.7 869.2 517 869.1 517.2 878.9 495.6 878.9ZM510 878.9 524.3 878.8 524.5 888.5 510 888.6ZM502.8 888.6 517.3 888.6 517.4 898.3 502.8 898.4ZM510.1 898.3 517.4 898.3 517.5 908 510.1 908Z"/>
<path fill="#0000ff" stroke="#0000ff" stroke-width=".7" d="M502.8 878.9 510 878.9 510 888.6 502.8 888.6Z"/>
</g>
<path d="M453.7 848.9 447.6 1004.1M488.8 849.7 487 1005.1M523.8 849.6 526.5 1005M558.9 848.6 565.9 1003.8M410.2 972.9 441 974.7 471.9 975.7 502.8 976 533.7 975.7 564.6 974.7 595.4 972.9M413.5 924.5 443.2 926.2 473 927.1 502.8 927.5 532.6 927.1 562.4 926.2 592.1 924.5M416.7 876.1 445.4 877.7 474.1 878.6 502.8 878.9 531.5 878.6 560.2 877.7 588.9 876.1" fill="none" stroke="#c8c8c8" stroke-opacity=".3" stroke-width=".6" stroke-dasharray="1 1"/>
<path d="M536.5 860.6 533 861.5 528.7 862.7 525.3 862.2 521.9 860.9 518.5 861.4 515.8 862.7 511.6 861.4 509 859.3 504.8 860.5 502 861.1 496.7 861.4 491.6 860.8 488.2 859.8 483 858.6 479.6 857.9 477.1 856.5 473.7 858.8 469.3 857.9 465.1 857.8 460.8 858.8 457.4 857 454.9 855.1 452.3 853.7 448.9 853.3 446.3 854.6 443.7 856.2 442.5 858.3 443.7 860.9 440.2 859.9 436.8 860.9 433.5 862.1 430.1 864.2 427.8 866.4 427.4 868.9 429.6 870.6 430.9 872.5 433.4 873.6 434.8 875 431.7 875.8 433.5 877.8 435.5 880.1 436 881.7 433.5 882.5 433.1 885.2 432.6 887.7 433.5 891.1 433.9 896.2 434.7 903 434.8 910.8 433.3 913 432.1 917.4 430.9 922.4 428.7 927.6 426.6 932.7 424 936.4 421.9 938.7 421.5 942.9 420.1 947.1 419.8 949.8 422.2 950.5 425.6 949.8 428.2 947.2 429.1 945.1 431.7 942.9 429.1 947.2 427.4 950.1 425.7 951.5 424 953.2 424.4 955.3 427.5 954.9 429.9 954.5 432.1 956.5 429.9 957.4 429.6 960.9 429 965.1 430 970.2 428.7 974.4 427.4 978.6 426.1 982.9 428.3 982 432.1 981.2 435.9 982 439.4 982.9 442.3 984.2 445.3 983 449.1 981 453 980.4 456.4 980.9 460 982.6 463.3 985.6 465.9 988.5 467.6 987.2 470.2 984.2 467.6 987.2 465.9 988.5 465 991.4 467.6 994 469.4 997.4 472.8 1000.8 476.2 1003.3 478.4 1004.7 480.9 1002.5 482.5 999.6 484.8 996.5 488.2 995.4 491.5 995.2 495 993.1 498.4 991 500.5 990.4 505.6 990.2 510.8 991 515.9 990.1 521.1 990.7 523.6 991 525.2 988.5 528.7 988 531.4 990.1 534.3 987.1 536 983.8 537.4 980.5 539.9 977.5 543.2 974.5 546.7 973.2 550.1 973.7 552.7 971.8 551.8 969.3 553.5 965 555.2 960.9 557.8 957.1 561.2 954.4 564.6 952.7 566.3 950.1 564.3 948 561.6 946.8 560 943 558.7 937.8 558.7 934.5 560.5 930.1 562.5 926 565.1 921.6 568.1 917.3 570.2 913.7 572.4 912.4 574.5 911.2 573.2 910.5 574.1 907.9 576.7 904.8 581 902.6 585.3 901.4 589.5 900.2 590.5 899.7M536.5 860.6 538.1 863.5 539.8 864 539.4 867.7 542.4 868.2 546.7 869.1 550.9 871.6 555.2 871.6 559.6 873.4 564.7 873 569 873.3 570.3 870.4 574.1 871.7 579.3 872.4 581.4 874.2 580.6 876.8 582.6 877.6 585.3 875.9 584.9 874.2 581.4 874.2 584.9 874.2 585.3 875.9 587.8 876.7 589 878.6M536.5 860.6 538.1 857.7 539 854.1 539.8 849.3M432.6 887.7 434.3 886.8 438.6 885.1 442.1 884.7 442.8 886.9 443.7 890.2 446.3 889.4 450.5 890.3 453.9 891 457.4 889 461.7 888.6 465.9 888.9 465.9 892.8 467.6 894.6 471.1 896.2 469.4 899.7 466 902.1 462.5 904.7 460 906.4 461.6 909.8 461.6 915 460.9 920 458.2 922.7 458.3 925.2 460 927.8 459.2 931 457.4 933.3 454 933.2 450.6 932.9 450.1 934 452.2 937 454 940.6 455.8 943 458.7 945.4 455.7 948.8 453.5 952.2 452.7 956.5 454.9 960 458.2 961.7 456.9 964.2 453.4 965.4 451.3 969.2 449.3 973.6 449.1 981M567.3 1003.7 571.5 999.2 576.6 995.6 581.8 992.8 588.6 991.1 596.6 990.2M581.4 946 583.1 943.4 586 942 587.8 943.3 586.4 945.9 584.4 947.6 581.8 947.1 581.4 946M584 950.1 587.4 951.1" fill="none" stroke="#000" stroke-width="1.2" stroke-linejoin="round"/>
<path d="M584 950.1 587.4 951.1M572.4 912.1 574.7 911.4" fill="none" stroke="#000" stroke-width="1.9" stroke-linecap="round"/>
<path d="M418.7 847 446.7 848.6 474.7 849.5 502.8 849.8 530.9 849.5 558.9 848.6 586.9 847 597.3 1002 565.9 1003.8 534.3 1004.8 502.8 1005.2 471.3 1004.8 439.7 1003.8 408.3 1002Z" fill="none" stroke="#2e2e2e" stroke-width="1.15"/>
<g opacity=".82">
<text x="413.4" y="878.7" class="tk" text-anchor="end">42.5<tspan dy="-2.2" font-size="4.5">°</tspan><tspan dy="2.2"> N</tspan></text>
<text x="410.2" y="927.1" class="tk" text-anchor="end">40.0<tspan dy="-2.2" font-size="4.5">°</tspan><tspan dy="2.2"> N</tspan></text>
<text x="406.9" y="975.5" class="tk" text-anchor="end">37.5<tspan dy="-2.2" font-size="4.5">°</tspan><tspan dy="2.2"> N</tspan></text>
</g>
<text x="502.8" y="841.8" class="ti" text-anchor="middle">1941</text></g>
<g><g filter="url(#bl)">
<path fill="#00ff80" stroke="#00ff80" stroke-width=".7" d="M781.9 871.1 796.1 871.1 796.3 880.7 781.9 880.8ZM824.6 870.4 831.7 870.2 832.1 879.8 825 880.1ZM753.2 880.5 781.9 880.8 810.6 880.5 810.8 890.2 781.9 890.5 753 890.2ZM825 880.1 853.6 878.8 854.2 888.5 825.3 889.8ZM753 890.2 789.1 890.5 789.2 900.1 752.8 899.8ZM796.4 890.4 832.5 889.5 832.9 899.2 796.5 900.1ZM745.5 899.6 760 900 759.9 909.6 745.2 909.3ZM818.3 899.6 825.6 899.4 825.9 909.1 818.6 909.3ZM840.2 898.9 847.4 898.5 847.9 908.2 840.6 908.5ZM745.2 909.3 767.2 909.7 767.1 919.4 744.9 919ZM825.9 909.1 855.3 907.8 855.8 917.4 826.3 918.8ZM819.1 928.7 826.6 928.4 826.9 938.1 819.4 938.3ZM819.4 938.3 834.4 937.8 834.8 947.5 819.7 948Z"/>
<path fill="#00d595" stroke="#00d595" stroke-width=".7" d="M781.9 861.5 789 861.4 789 871.1 781.9 871.1ZM789.1 890.5 796.4 890.4 796.5 900.1 789.2 900.1ZM781.9 900.2 789.2 900.1 789.2 909.8 781.9 909.8ZM796.5 900.1 803.8 900 803.9 909.6 796.6 909.7ZM774.6 909.8 781.9 909.8 781.9 919.5 774.5 919.5ZM818.6 909.3 825.9 909.1 826.3 918.8 818.9 919ZM818.9 919 833.7 918.5 834 928.2 819.1 928.7ZM827.2 947.8 834.8 947.5 835.2 957.2 827.6 957.4ZM835.2 957.2 842.8 956.8 843.2 966.5 835.6 966.8ZM820.2 967.3 835.6 966.8 835.9 976.5 820.5 977Z"/>
<path fill="#00aaaa" stroke="#00aaaa" stroke-width=".7" d="M760.7 861.3 781.9 861.5 781.9 871.1 760.5 871ZM753.4 870.8 781.9 871.1 781.9 880.8 753.2 880.5ZM746 880.3 753.2 880.5 753 890.2 745.7 890ZM745.7 890 753 890.2 752.8 899.8 745.5 899.6ZM738.2 899.4 745.5 899.6 745.2 909.3 737.9 909.1ZM789.2 900.1 796.5 900.1 796.6 909.7 789.2 909.8ZM803.8 900 818.3 899.6 818.6 909.3 803.9 909.6ZM737.9 909.1 745.2 909.3 744.9 919 737.5 918.8ZM781.9 909.8 818.6 909.3 818.9 919 781.9 919.5ZM737.5 918.8 752.3 919.2 752.1 928.8 737.2 928.4ZM759.7 919.3 796.7 919.4 796.8 929.1 759.6 929ZM804.1 919.3 818.9 919 819.1 928.7 804.2 929ZM729.8 928.2 781.9 929.2 781.9 938.8 729.4 937.8ZM811.7 928.8 819.1 928.7 819.4 938.3 811.9 938.5ZM714.4 937.2 766.9 938.8 766.8 948.4 713.9 946.8ZM811.9 938.5 819.4 938.3 819.7 948 812.1 948.2ZM713.9 946.8 759.2 948.3 759.1 958 713.4 956.5ZM804.6 948.3 827.2 947.8 827.6 957.4 804.7 958ZM713.4 956.5 751.5 957.8 751.2 967.5 712.9 966.1ZM820 957.7 835.2 957.2 835.6 966.8 820.2 967.3ZM720.6 966.5 751.2 967.5 751 977.2 720.1 976.2ZM751 977.2 758.7 977.3 758.6 987 750.8 986.9ZM813 986.9 820.8 986.7 821 996.3 813.2 996.5Z"/>
<path fill="#0080bf" stroke="#0080bf" stroke-width=".7" d="M753.8 851.5 767.9 851.7 767.8 861.4 753.6 861.2ZM746.6 861 760.7 861.3 760.5 871 746.3 870.6ZM739.2 870.4 753.4 870.8 753.2 880.5 738.8 880.1ZM731.7 879.8 746 880.3 745.7 890 731.3 889.5ZM724.1 889.2 745.7 890 745.5 899.6 723.6 898.9ZM723.6 898.9 738.2 899.4 737.9 909.1 723.2 908.5ZM715.9 908.2 737.9 909.1 737.5 918.8 715.4 917.8ZM708 917.4 737.5 918.8 737.2 928.4 707.4 927.1ZM752.3 919.2 759.7 919.3 759.6 929 752.1 928.8ZM796.7 919.4 804.1 919.3 804.2 929 796.8 929.1ZM700 926.7 729.8 928.2 729.4 937.8 699.4 936.3ZM781.9 929.2 811.7 928.8 811.9 938.5 781.9 938.8ZM699.4 936.3 714.4 937.2 713.9 946.8 698.8 946ZM766.9 938.8 811.9 938.5 812.1 948.2 766.8 948.4ZM698.8 946 713.9 946.8 713.4 956.5 698.2 955.6ZM759.2 948.3 781.9 948.5 781.9 958.2 759.1 958ZM698.2 955.6 713.4 956.5 712.9 966.1 697.6 965.3ZM751.5 957.8 774.3 958.2 774.2 967.8 751.2 967.5ZM804.7 958 820 957.7 820.2 967.3 804.9 967.7ZM705.3 965.7 720.6 966.5 720.1 976.2 704.7 975.4ZM751.2 967.5 774.2 967.8 774.2 977.5 751 977.2ZM704.7 975.4 751 977.2 750.8 986.9 704.2 985ZM758.7 977.3 781.9 977.5 781.9 987.2 758.6 987ZM812.8 977.2 820.5 977 820.8 986.7 813 986.9ZM743 986.7 781.9 987.2 781.9 996.9 742.8 996.3ZM742.8 996.3 766.2 996.8 766.1 1006.5 742.5 1006Z"/>
<path fill="#0055d5" stroke="#0055d5" stroke-width=".7" d="M739.8 851.1 753.8 851.5 753.6 861.2 739.5 860.8ZM732.4 860.5 746.6 861 746.3 870.6 732.1 870.2ZM724.9 869.9 739.2 870.4 738.8 880.1 724.5 879.5ZM717.3 879.2 731.7 879.8 731.3 889.5 716.8 888.9ZM716.8 888.9 724.1 889.2 723.6 898.9 716.4 898.5ZM716.4 898.5 723.6 898.9 723.2 908.5 715.9 908.2ZM708.5 907.8 715.9 908.2 715.4 917.8 708 917.4ZM781.9 948.5 804.6 948.3 804.7 958 781.9 958.2ZM774.3 958.2 804.7 958 804.9 967.7 774.2 967.8ZM774.2 967.8 797.2 967.8 797.3 977.4 774.2 977.5ZM812.6 967.5 820.2 967.3 820.5 977 812.8 977.2ZM781.9 977.5 789.6 977.5 789.7 987.2 781.9 987.2ZM805.1 977.3 812.8 977.2 813 986.9 805.2 987ZM781.9 987.2 813 986.9 813.2 996.5 781.9 996.9Z"/>
<path fill="#002bea" stroke="#002bea" stroke-width=".7" d="M718.8 850.2 739.8 851.1 739.5 860.8 718.3 859.9ZM704.2 859.1 711.3 859.5 710.7 869.2 703.6 868.8ZM718.3 859.9 732.4 860.5 732.1 870.2 717.8 869.5ZM703.6 868.8 710.7 869.2 710.2 878.8 703 878.4ZM717.8 869.5 724.9 869.9 724.5 879.5 717.3 879.2ZM710.2 878.8 717.3 879.2 716.8 888.9 709.6 888.5ZM709.6 888.5 716.8 888.9 716.4 898.5 709.1 898.1ZM709.1 898.1 716.4 898.5 715.9 908.2 708.5 907.8ZM797.2 967.8 812.6 967.5 812.8 977.2 797.3 977.4ZM789.6 977.5 805.1 977.3 805.2 987 789.7 987.2Z"/>
<path fill="#0000ff" stroke="#0000ff" stroke-width=".7" d="M711.3 859.5 718.3 859.9 717.8 869.5 710.7 869.2ZM710.7 869.2 717.8 869.5 717.3 879.2 710.2 878.8Z"/>
</g>
<path d="M732.8 850.8 726.7 1005.5M767.9 851.7 766.1 1006.5M802.9 851.6 805.6 1006.3M838 850.6 845 1005.1M689.3 974.5 720.1 976.2 751 977.2 781.9 977.5 812.8 977.2 843.7 976.2 874.5 974.5M692.6 926.2 722.3 927.8 752.1 928.8 781.9 929.2 811.7 928.8 841.5 927.8 871.2 926.2M695.8 877.9 724.5 879.5 753.2 880.5 781.9 880.8 810.6 880.5 839.3 879.5 868 877.9" fill="none" stroke="#c8c8c8" stroke-opacity=".3" stroke-width=".6" stroke-dasharray="1 1"/>
<path d="M815.6 862.6 812.1 863.4 807.8 864.7 804.4 864.2 801 862.9 797.6 863.3 794.9 864.7 790.7 863.4 788.1 861.3 783.9 862.4 781.1 863 775.8 863.4 770.7 862.8 767.3 861.8 762.1 860.5 758.7 859.9 756.2 858.5 752.8 860.7 748.4 859.9 744.2 859.7 739.9 860.8 736.5 858.9 734 857.1 731.4 855.6 728 855.3 725.4 856.5 722.8 858.2 721.6 860.2 722.8 862.8 719.3 861.9 715.9 862.9 712.6 864 709.2 866.2 706.9 868.4 706.5 870.9 708.7 872.5 710 874.4 712.5 875.5 713.9 876.9 710.8 877.7 712.6 879.7 714.6 882 715.1 883.5 712.6 884.4 712.2 887.1 711.7 889.6 712.6 892.9 713 898 713.8 904.8 713.9 912.5 712.4 914.8 711.2 919.2 710 924.1 707.8 929.3 705.7 934.4 703.1 938.1 701 940.3 700.6 944.5 699.2 948.7 698.9 951.4 701.3 952.1 704.7 951.4 707.3 948.8 708.2 946.7 710.8 944.5 708.2 948.8 706.5 951.7 704.8 953.1 703.1 954.8 703.5 956.9 706.6 956.5 709 956.1 711.2 958.1 709 959 708.7 962.4 708.1 966.7 709.1 971.8 707.8 975.9 706.5 980.1 705.2 984.3 707.4 983.5 711.2 982.7 715 983.5 718.5 984.4 721.4 985.7 724.4 984.5 728.2 982.5 732.1 981.9 735.5 982.4 739.1 984 742.4 987 745 990 746.7 988.7 749.3 985.7 746.7 988.7 745 990 744.1 992.9 746.7 995.5 748.5 998.8 751.9 1002.2 755.3 1004.7 757.5 1006.1 760 1003.9 761.6 1001 763.9 997.9 767.3 996.8 770.6 996.6 774.1 994.5 777.5 992.4 779.6 991.8 784.7 991.6 789.9 992.4 795 991.6 800.2 992.1 802.7 992.5 804.3 989.9 807.8 989.5 810.5 991.6 813.4 988.6 815.1 985.3 816.5 981.9 819 979 822.3 976 825.8 974.7 829.2 975.2 831.8 973.3 830.9 970.9 832.6 966.5 834.3 962.4 836.9 958.6 840.3 956 843.7 954.3 845.4 951.7 843.4 949.6 840.7 948.4 839.1 944.6 837.8 939.4 837.8 936.1 839.6 931.8 841.6 927.6 844.2 923.3 847.2 919.1 849.3 915.5 851.5 914.2 853.6 912.9 852.3 912.2 853.2 909.7 855.8 906.6 860.1 904.4 864.4 903.2 868.6 901.9 869.6 901.5M815.6 862.6 817.2 865.4 818.9 866 818.5 869.6 821.5 870.1 825.8 871 830 873.5 834.3 873.6 838.7 875.3 843.8 874.9 848.1 875.2 849.4 872.3 853.2 873.6 858.4 874.3 860.5 876.1 859.7 878.7 861.7 879.5 864.4 877.8 864 876.1 860.5 876.1 864 876.1 864.4 877.8 866.9 878.6 868.1 880.5M815.6 862.6 817.2 859.6 818.1 856.1 818.9 851.3M711.7 889.6 713.4 888.7 717.7 887 721.2 886.6 721.9 888.7 722.8 892 725.4 891.2 729.6 892.1 733 892.9 736.5 890.9 740.8 890.4 745 890.7 745 894.6 746.7 896.4 750.2 898 748.5 901.5 745.1 903.9 741.6 906.5 739.1 908.2 740.7 911.5 740.7 916.7 740 921.7 737.3 924.4 737.4 926.9 739.1 929.5 738.3 932.7 736.5 935 733.1 934.9 729.7 934.5 729.2 935.7 731.3 938.7 733.1 942.2 734.9 944.6 737.8 947 734.8 950.4 732.6 953.8 731.8 958 734 961.6 737.3 963.3 736 965.7 732.5 967 730.4 970.8 728.4 975.1 728.2 982.5M846.4 1005.1 850.6 1000.6 855.7 997.1 860.9 994.3 867.7 992.5 875.7 991.6M860.5 947.6 862.2 945 865.1 943.6 866.9 944.9 865.5 947.5 863.5 949.2 860.9 948.7 860.5 947.6M863.1 951.7 866.5 952.7" fill="none" stroke="#000" stroke-width="1.2" stroke-linejoin="round"/>
<path d="M863.1 951.7 866.5 952.7M851.5 913.8 853.8 913.1" fill="none" stroke="#000" stroke-width="1.9" stroke-linecap="round"/>
<path d="M697.8 849 725.8 850.6 753.8 851.5 781.9 851.8 810 851.5 838 850.6 866 849 876.4 1003.4 845 1005.1 813.4 1006.2 781.9 1006.5 750.4 1006.2 718.8 1005.1 687.4 1003.4Z" fill="none" stroke="#2e2e2e" stroke-width="1.15"/>
<g opacity=".82">
<text x="692.5" y="880.5" class="tk" text-anchor="end">42.5<tspan dy="-2.2" font-size="4.5">°</tspan><tspan dy="2.2"> N</tspan></text>
<text x="689.3" y="928.8" class="tk" text-anchor="end">40.0<tspan dy="-2.2" font-size="4.5">°</tspan><tspan dy="2.2"> N</tspan></text>
<text x="686" y="977.1" class="tk" text-anchor="end">37.5<tspan dy="-2.2" font-size="4.5">°</tspan><tspan dy="2.2"> N</tspan></text>
</g>
<text x="781.9" y="843.8" class="ti" text-anchor="middle">1947</text></g>
<g><g filter="url(#bl)">
<path fill="#00ff80" stroke="#00ff80" stroke-width=".7" d="M998.9 860.2 1034.2 861.3 1034.1 871 998.5 869.9ZM991.4 869.5 1005.6 870.2 1005.2 879.8 990.9 879.2ZM990.9 879.2 998.1 879.5 997.6 889.2 990.4 888.9ZM983.2 888.5 997.6 889.2 997.2 898.9 982.7 898.1ZM982.7 898.1 1004.5 899.2 1004.1 908.8 982.1 907.8ZM982.1 907.8 1011.4 909.1 1011.1 918.8 981.6 917.4ZM981.6 917.4 996.3 918.2 995.9 927.8 981 927.1ZM981 927.1 995.9 927.8 995.5 937.5 980.5 936.8ZM1018.2 928.7 1033.1 929 1032.9 938.7 1017.9 938.3ZM988 937.2 995.5 937.5 995 947.2 987.5 946.8ZM995 947.2 1002.6 947.5 1002.2 957.2 994.6 956.8ZM1047.9 948.5 1055.4 948.5 1055.4 958.2 1047.8 958.2ZM987 956.5 1002.2 957.2 1001.8 966.8 986.5 966.1ZM1055.4 958.2 1063 958.2 1063.1 967.8 1055.4 967.9ZM978.9 965.7 1001.8 966.8 1001.4 976.5 978.3 975.4ZM978.3 975.4 986 975.8 985.5 985.5 977.8 985ZM1047.7 977.5 1063.1 977.5 1063.2 987.2 1047.6 987.2ZM1039.9 987.1 1055.4 987.2 1055.4 996.9 1039.8 996.8Z"/>
<path fill="#00d595" stroke="#00d595" stroke-width=".7" d="M1034.2 861.3 1076.6 861.3 1076.7 871 1034.1 871ZM1083.6 861.2 1090.7 861 1091 870.6 1083.9 870.8ZM1005.6 870.2 1019.8 870.6 1019.6 880.3 1005.2 879.8ZM998.1 879.5 1005.2 879.8 1004.9 889.5 997.6 889.2ZM997.6 889.2 1004.9 889.5 1004.5 899.2 997.2 898.9ZM1004.5 899.2 1011.7 899.4 1011.4 909.1 1004.1 908.8ZM1011.4 909.1 1018.7 909.3 1018.5 919 1011.1 918.8ZM1018.5 919 1025.9 919.2 1025.6 928.8 1018.2 928.7ZM973.6 926.7 981 927.1 980.5 936.8 973 936.3ZM973 936.3 988 937.2 987.5 946.8 972.4 946ZM1032.9 938.7 1040.4 938.8 1040.3 948.4 1032.8 948.3ZM979.9 946.4 995 947.2 994.6 956.8 979.4 956.1ZM1055.4 948.5 1062.9 948.5 1063 958.2 1055.4 958.2ZM979.4 956.1 987 956.5 986.5 966.1 978.9 965.7ZM1063 958.2 1070.6 958.1 1070.7 967.8 1063.1 967.8ZM1063.1 967.8 1070.7 967.8 1070.8 977.4 1063.1 977.5ZM1063.1 977.5 1070.8 977.4 1070.9 987.1 1063.2 987.2ZM1055.4 987.2 1070.9 987.1 1071 996.8 1055.4 996.9Z"/>
<path fill="#00aaaa" stroke="#00aaaa" stroke-width=".7" d="M1076.6 861.3 1083.6 861.2 1083.9 870.8 1076.7 871ZM1019.8 870.6 1048.3 871.1 1048.2 880.8 1019.6 880.3ZM1062.5 871.1 1098.1 870.4 1098.4 880.1 1062.6 880.8ZM1005.2 879.8 1041.1 880.7 1041 890.4 1004.9 889.5ZM1062.6 880.8 1069.7 880.7 1069.8 890.4 1062.6 890.5ZM1004.9 889.5 1019.3 890 1019 899.6 1004.5 899.2ZM1120.4 888.9 1127.6 888.5 1128.1 898.1 1120.9 898.5ZM1011.7 899.4 1019 899.6 1018.7 909.3 1011.4 909.1ZM1033.1 929 1040.5 929.1 1040.4 938.8 1032.9 938.7ZM1040.4 938.8 1062.9 938.8 1062.9 948.5 1040.3 948.4ZM972.4 946 979.9 946.4 979.4 956.1 971.8 955.6ZM1062.9 948.5 1070.5 948.4 1070.6 958.1 1063 958.2ZM971.8 955.6 979.4 956.1 978.9 965.7 971.2 965.3ZM1070.7 967.8 1078.4 967.7 1078.5 977.3 1070.8 977.4ZM1070.8 977.4 1078.5 977.3 1078.7 987 1070.9 987.1ZM1070.9 987.1 1086.5 986.9 1086.7 996.5 1071 996.8Z"/>
<path fill="#0080bf" stroke="#0080bf" stroke-width=".7" d="M1048.3 871.1 1062.5 871.1 1062.6 880.8 1048.2 880.8ZM1119.4 869.5 1133.6 868.8 1134.2 878.4 1119.9 879.2ZM1041.1 880.7 1062.6 880.8 1062.6 890.5 1041 890.4ZM1069.7 880.7 1091.2 880.3 1091.5 890 1069.8 890.4ZM1127 878.8 1134.2 878.4 1134.8 888.1 1127.6 888.5ZM1019.3 890 1026.5 890.2 1026.3 899.8 1019 899.6ZM1127.6 888.5 1134.8 888.1 1135.4 897.7 1128.1 898.1ZM1019 899.6 1026.3 899.8 1026.1 909.5 1018.7 909.3ZM1018.7 909.3 1026.1 909.5 1025.9 919.2 1018.5 919ZM1025.9 919.2 1033.2 919.3 1033.1 929 1025.6 928.8ZM1040.5 929.1 1055.4 929.2 1055.4 938.8 1040.4 938.8ZM1062.9 938.8 1070.4 938.8 1070.5 948.4 1062.9 948.5ZM1070.6 958.1 1078.2 958 1078.4 967.7 1070.7 967.8ZM1078.5 977.3 1094 977 1094.2 986.7 1078.7 987ZM1086.5 986.9 1094.2 986.7 1094.5 996.3 1086.7 996.5Z"/>
<path fill="#0055d5" stroke="#0055d5" stroke-width=".7" d="M1098.1 870.4 1119.4 869.5 1119.9 879.2 1098.4 880.1ZM1091.2 880.3 1127 878.8 1127.6 888.5 1091.5 890ZM1026.5 890.2 1055.4 890.5 1055.4 900.2 1026.3 899.8ZM1062.6 890.5 1077.1 890.3 1077.2 900 1062.7 900.1ZM1113.2 889.2 1120.4 888.9 1120.9 898.5 1113.6 898.9ZM1026.3 899.8 1048.1 900.1 1048.1 909.8 1026.1 909.5ZM1113.6 898.9 1135.4 897.7 1136 907.4 1114 908.5ZM1026.1 909.5 1040.7 909.7 1040.6 919.4 1025.9 919.2ZM1106.7 908.8 1121.4 908.2 1121.8 917.8 1107.1 918.5ZM1033.2 919.3 1048 919.5 1048 929.1 1033.1 929ZM1099.7 918.8 1114.5 918.2 1114.9 927.8 1100 928.4ZM1055.4 929.2 1070.3 929.1 1070.4 938.8 1055.4 938.8ZM1070.4 938.8 1077.9 938.7 1078 948.3 1070.5 948.4ZM1070.5 948.4 1085.6 948.2 1085.8 957.8 1070.6 958.1ZM1078.2 958 1085.8 957.8 1086 967.5 1078.4 967.7ZM1078.4 967.7 1101.3 967.1 1101.7 976.8 1078.5 977.3Z"/>
<path fill="#002bea" stroke="#002bea" stroke-width=".7" d="M1055.4 890.5 1062.6 890.5 1062.7 900.1 1055.4 900.2ZM1077.1 890.3 1113.2 889.2 1113.6 898.9 1077.2 900ZM1048.1 900.1 1080.9 899.9 1113.6 898.9 1114 908.5 1081.1 909.6 1048.1 909.8ZM1040.7 909.7 1070.1 909.7 1070.2 919.4 1040.6 919.4ZM1077.4 909.6 1084.7 909.5 1084.9 919.2 1077.6 919.3ZM1092.1 909.3 1106.7 908.8 1107.1 918.5 1092.3 919ZM1121.4 908.2 1128.7 907.8 1129.2 917.4 1121.8 917.8ZM1048 919.5 1084.9 919.2 1085.2 928.8 1048 929.1ZM1114.5 918.2 1121.8 917.8 1122.3 927.5 1114.9 927.8ZM1070.3 929.1 1114.9 927.8 1115.3 937.5 1070.4 938.8ZM1092.9 938.3 1115.3 937.5 1115.8 947.2 1093.1 948ZM1085.6 948.2 1093.1 948 1093.4 957.7 1085.8 957.8ZM1100.7 947.8 1115.8 947.2 1116.2 956.8 1101 957.4ZM1085.8 957.8 1116.2 956.8 1116.6 966.5 1086 967.5ZM1101.3 967.1 1109 966.8 1109.4 976.5 1101.7 976.8Z"/>
<path fill="#0000ff" stroke="#0000ff" stroke-width=".7" d="M1070.1 909.7 1077.4 909.6 1077.6 919.3 1070.2 919.4ZM1084.7 909.5 1092.1 909.3 1092.3 919 1084.9 919.2ZM1084.9 919.2 1099.7 918.8 1100 928.4 1085.2 928.8ZM1077.9 938.7 1092.9 938.3 1093.1 948 1078 948.3ZM1093.1 948 1100.7 947.8 1101 957.4 1093.4 957.7Z"/>
</g>
<path d="M1006.4 850.8 1000.3 1005.5M1041.4 851.7 1039.6 1006.5M1076.4 851.6 1079 1006.3M1111.4 850.6 1118.4 1005.1M962.9 974.5 993.7 976.2 1024.6 977.2 1055.4 977.5 1086.2 977.2 1117.1 976.2 1147.9 974.5M966.2 926.2 995.9 927.8 1025.6 928.8 1055.4 929.2 1085.2 928.8 1114.9 927.8 1144.6 926.2M969.4 877.9 998.1 879.5 1026.7 880.5 1055.4 880.8 1084.1 880.5 1112.7 879.5 1141.4 877.9" fill="none" stroke="#c8c8c8" stroke-opacity=".3" stroke-width=".6" stroke-dasharray="1 1"/>
<path d="M1089 862.6 1085.5 863.4 1081.3 864.7 1077.9 864.2 1074.5 862.9 1071.1 863.3 1068.4 864.7 1064.2 863.4 1061.6 861.3 1057.4 862.4 1054.6 863 1049.3 863.4 1044.2 862.8 1040.9 861.8 1035.6 860.5 1032.3 859.9 1029.8 858.5 1026.3 860.7 1022 859.9 1017.7 859.7 1013.5 860.8 1010 858.9 1007.5 857.1 1004.9 855.6 1001.6 855.3 999 856.5 996.4 858.2 995.1 860.2 996.4 862.8 992.9 861.9 989.5 862.9 986.1 864 982.8 866.2 980.5 868.4 980.1 870.9 982.2 872.5 983.6 874.4 986.1 875.5 987.4 876.9 984.4 877.7 986.1 879.7 988.2 882 988.7 883.5 986.2 884.4 985.7 887.1 985.3 889.6 986.2 892.9 986.6 898 987.4 904.8 987.5 912.5 986 914.8 984.7 919.2 983.6 924.1 981.4 929.3 979.3 934.4 976.7 938.1 974.6 940.3 974.2 944.5 972.8 948.7 972.5 951.4 974.9 952.1 978.3 951.4 980.9 948.8 981.7 946.7 984.4 944.5 981.8 948.8 980.1 951.7 978.4 953.1 976.7 954.8 977.1 956.9 980.1 956.5 982.6 956.1 984.8 958.1 982.6 959 982.3 962.4 981.7 966.7 982.7 971.8 981.4 975.9 980.1 980.1 978.7 984.3 981 983.5 984.7 982.7 988.6 983.5 992.1 984.4 995 985.7 998 984.5 1001.8 982.5 1005.7 981.9 1009.1 982.4 1012.6 984 1015.9 987 1018.5 990 1020.2 988.7 1022.8 985.7 1020.2 988.7 1018.5 990 1017.6 992.9 1020.2 995.5 1022 998.8 1025.4 1002.2 1028.8 1004.7 1031 1006.1 1033.5 1003.9 1035.2 1001 1037.4 997.9 1040.9 996.8 1044.1 996.6 1047.6 994.5 1051 992.4 1053.1 991.8 1058.2 991.6 1063.4 992.4 1068.5 991.6 1073.6 992.1 1076.1 992.5 1077.8 989.9 1081.2 989.5 1083.9 991.6 1086.8 988.6 1088.6 985.3 1089.9 981.9 1092.5 979 1095.8 976 1099.3 974.7 1102.7 975.2 1105.2 973.3 1104.4 970.9 1106.1 966.5 1107.7 962.4 1110.3 958.6 1113.7 956 1117.2 954.3 1118.9 951.7 1116.8 949.6 1114.2 948.4 1112.5 944.6 1111.2 939.4 1111.2 936.1 1113 931.8 1115 927.6 1117.7 923.3 1120.6 919.1 1122.8 915.5 1124.9 914.2 1127.1 912.9 1125.7 912.2 1126.6 909.7 1129.2 906.6 1133.5 904.4 1137.8 903.2 1142 901.9 1142.9 901.5M1089 862.6 1090.7 865.4 1092.4 866 1091.9 869.6 1094.9 870.1 1099.2 871 1103.5 873.5 1107.7 873.6 1112.1 875.3 1117.2 874.9 1121.5 875.2 1122.8 872.3 1126.6 873.6 1131.8 874.3 1133.9 876.1 1133.1 878.7 1135.1 879.5 1137.8 877.8 1137.4 876.1 1133.9 876.1 1137.4 876.1 1137.8 877.8 1140.3 878.6 1141.5 880.5M1089 862.6 1090.7 859.6 1091.5 856.1 1092.4 851.3M985.3 889.6 987 888.7 991.2 887 994.7 886.6 995.5 888.7 996.3 892 999 891.2 1003.2 892.1 1006.6 892.9 1010 890.9 1014.4 890.4 1018.5 890.7 1018.6 894.6 1020.3 896.4 1023.7 898 1022 901.5 1018.6 903.9 1015.2 906.5 1012.6 908.2 1014.3 911.5 1014.3 916.7 1013.5 921.7 1010.9 924.4 1011 926.9 1012.7 929.5 1011.8 932.7 1010.1 935 1006.7 934.9 1003.2 934.5 1002.7 935.7 1004.9 938.7 1006.7 942.2 1008.4 944.6 1011.3 947 1008.4 950.4 1006.1 953.8 1005.4 958 1007.5 961.6 1010.8 963.3 1009.5 965.7 1006.1 967 1004 970.8 1001.9 975.1 1001.8 982.5M1119.8 1005.1 1124 1000.6 1129.2 997.1 1134.3 994.3 1141.1 992.5 1149 991.6M1133.9 947.6 1135.6 945 1138.5 943.6 1140.3 944.9 1138.9 947.5 1136.9 949.2 1134.3 948.7 1133.9 947.6M1136.5 951.7 1139.9 952.7" fill="none" stroke="#000" stroke-width="1.2" stroke-linejoin="round"/>
<path d="M1136.5 951.7 1139.9 952.7M1124.9 913.8 1127.2 913.1" fill="none" stroke="#000" stroke-width="1.9" stroke-linecap="round"/>
<path d="M971.4 849 999.4 850.6 1027.4 851.5 1055.4 851.8 1083.4 851.5 1111.4 850.6 1139.4 849 1149.8 1003.4 1118.4 1005.1 1086.9 1006.2 1055.4 1006.5 1023.9 1006.2 992.4 1005.1 961 1003.4Z" fill="none" stroke="#2e2e2e" stroke-width="1.15"/>
<g opacity=".82">
<text x="966.1" y="880.5" class="tk" text-anchor="end">42.5<tspan dy="-2.2" font-size="4.5">°</tspan><tspan dy="2.2"> N</tspan></text>
<text x="962.9" y="928.8" class="tk" text-anchor="end">40.0<tspan dy="-2.2" font-size="4.5">°</tspan><tspan dy="2.2"> N</tspan></text>
<text x="959.6" y="977.1" class="tk" text-anchor="end">37.5<tspan dy="-2.2" font-size="4.5">°</tspan><tspan dy="2.2"> N</tspan></text>
</g>
<text x="1055.4" y="843.8" class="ti" text-anchor="middle">1959</text></g>
<g><g filter="url(#bl)">
<path fill="#00ff80" stroke="#00ff80" stroke-width=".7" d="M146.7 1049.1 153.8 1049.6 153.3 1059.2 146.1 1058.8ZM160.9 1049.9 203.6 1051.3 203.4 1061 160.4 1059.6ZM146.1 1058.8 167.6 1060 167.2 1069.7 145.5 1068.5ZM203.4 1061 217.7 1061.2 217.7 1070.9 203.2 1070.8ZM289.4 1059.6 303.7 1058.8 304.3 1068.5 289.8 1069.3ZM152.7 1068.9 160 1069.3 159.5 1079 152.2 1078.6ZM224.9 1070.9 232.1 1070.9 232.2 1080.6 224.9 1080.6ZM282.6 1069.7 304.3 1068.5 304.9 1078.2 283.1 1079.4ZM152.2 1078.6 159.5 1079 159 1088.7 151.6 1088.3ZM254 1080.3 261.3 1080.1 261.5 1089.8 254.2 1090ZM275.8 1079.7 304.9 1078.2 305.5 1087.9 276.2 1089.4ZM254.2 1090 298.2 1088.3 298.7 1098 254.4 1099.7ZM269.2 1099.3 298.7 1098 299.2 1107.7 269.5 1109ZM277 1108.8 291.8 1108.1 292.3 1117.8 277.3 1118.5Z"/>
<path fill="#00d595" stroke="#00d595" stroke-width=".7" d="M167.6 1060 203.4 1061 203.2 1070.8 167.2 1069.7ZM160 1069.3 181.6 1070.2 181.3 1079.9 159.5 1079ZM203.2 1070.8 224.9 1070.9 224.9 1080.6 203.1 1080.5ZM159.5 1079 174 1079.7 173.6 1089.4 159 1088.7ZM217.6 1080.6 246.7 1080.5 246.9 1090.2 217.6 1090.3ZM298.2 1088.3 305.5 1087.9 306.1 1097.6 298.7 1098ZM254.4 1099.7 269.2 1099.3 269.5 1109 254.7 1109.4ZM269.5 1109 277 1108.8 277.3 1118.5 269.9 1118.7Z"/>
<path fill="#00aaaa" stroke="#00aaaa" stroke-width=".7" d="M181.6 1070.2 203.2 1070.8 203.1 1080.5 181.3 1079.9ZM174 1079.7 217.6 1080.6 217.6 1090.3 173.6 1089.4ZM166.3 1089.1 173.6 1089.4 173.2 1099.1 165.8 1098.8ZM188.3 1089.8 221.2 1090.3 254.2 1090 254.4 1099.7 221.2 1100.1 188 1099.6ZM195.4 1099.7 217.5 1100 217.5 1109.7 195.1 1109.4ZM232.3 1100 254.4 1099.7 254.7 1109.4 232.3 1109.7ZM254.7 1109.4 269.5 1109 269.9 1118.7 254.9 1119.1ZM269.9 1118.7 284.8 1118.2 285.3 1127.9 270.2 1128.4Z"/>
<path fill="#0080bf" stroke="#0080bf" stroke-width=".7" d="M151.6 1088.3 166.3 1089.1 165.8 1098.8 151.1 1098ZM173.6 1089.4 188.3 1089.8 188 1099.6 173.2 1099.1ZM158.5 1098.4 195.4 1099.7 195.1 1109.4 158 1108.1ZM217.5 1100 232.3 1100 232.3 1109.7 217.5 1109.7ZM187.7 1109.3 224.9 1109.8 224.9 1119.5 187.4 1119ZM232.3 1109.7 254.7 1109.4 254.9 1119.1 232.4 1119.5ZM217.4 1119.5 224.9 1119.5 224.9 1129.2 217.4 1129.2ZM270.2 1128.4 285.3 1127.9 285.7 1137.6 270.5 1138.1ZM278.1 1137.9 285.7 1137.6 286.1 1147.3 278.5 1147.6Z"/>
<path fill="#0055d5" stroke="#0055d5" stroke-width=".7" d="M151.1 1098 158.5 1098.4 158 1108.1 150.6 1107.7ZM150.6 1107.7 187.7 1109.3 187.4 1119 150 1117.4ZM224.9 1109.8 232.3 1109.7 232.4 1119.5 224.9 1119.5ZM187.4 1119 217.4 1119.5 217.4 1129.2 187.2 1128.7ZM224.9 1119.5 269.9 1118.7 270.2 1128.4 224.9 1129.2ZM194.7 1128.9 202.3 1129 202.1 1138.7 194.5 1138.6ZM209.8 1129.1 240 1129.1 240.1 1138.8 209.7 1138.8ZM262.6 1128.7 270.2 1128.4 270.5 1138.1 262.9 1138.4ZM202.1 1138.7 232.5 1138.9 232.6 1148.6 201.9 1148.4ZM270.5 1138.1 278.1 1137.9 278.5 1147.6 270.8 1147.8ZM201.9 1148.4 224.9 1148.6 224.9 1158.3 201.8 1158.1ZM278.5 1147.6 286.1 1147.3 286.6 1157 278.9 1157.3Z"/>
<path fill="#002bea" stroke="#002bea" stroke-width=".7" d="M142.5 1117 187.4 1119 187.2 1128.7 141.9 1126.7ZM141.9 1126.7 157 1127.5 156.5 1137.2 141.3 1136.4ZM172.1 1128.2 194.7 1128.9 194.5 1138.6 171.7 1137.9ZM202.3 1129 209.8 1129.1 209.7 1138.8 202.1 1138.7ZM240 1129.1 262.6 1128.7 262.9 1138.4 240.1 1138.8ZM141.3 1136.4 156.5 1137.2 156 1146.9 140.7 1146ZM171.7 1137.9 202.1 1138.7 201.9 1148.4 171.3 1147.6ZM232.5 1138.9 247.7 1138.7 247.9 1148.4 232.6 1148.6ZM148.4 1146.5 201.9 1148.4 201.8 1158.1 147.8 1156.2ZM224.9 1148.6 232.6 1148.6 232.6 1158.3 224.9 1158.3ZM270.8 1147.8 278.5 1147.6 278.9 1157.3 271.2 1157.5ZM147.8 1156.2 190.2 1157.9 232.6 1158.3 232.7 1168 189.9 1167.6 147.3 1165.9ZM271.2 1157.5 278.9 1157.3 279.3 1167 271.5 1167.3ZM147.3 1165.9 189.9 1167.6 232.7 1168 232.7 1177.7 189.7 1177.3 146.7 1175.6ZM185.8 1177.2 217.1 1177.7 217 1187.4 185.5 1186.9ZM185.5 1186.9 209.1 1187.4 209 1197.1 185.2 1196.6Z"/>
<path fill="#0000ff" stroke="#0000ff" stroke-width=".7" d="M157 1127.5 172.1 1128.2 171.7 1137.9 156.5 1137.2ZM156.5 1137.2 171.7 1137.9 171.3 1147.6 156 1146.9ZM247.7 1138.7 270.5 1138.1 270.8 1147.8 247.9 1148.4ZM140.7 1146 148.4 1146.5 147.8 1156.2 140.1 1155.7ZM232.6 1148.6 270.8 1147.8 271.2 1157.5 232.6 1158.3ZM232.6 1158.3 240.3 1158.2 240.4 1167.9 232.7 1168ZM255.7 1158 271.2 1157.5 271.5 1167.3 256 1167.7ZM232.7 1168 240.4 1167.9 240.5 1177.6 232.7 1177.7ZM217.1 1177.7 240.5 1177.6 240.7 1187.4 217 1187.4ZM256.2 1177.4 264 1177.2 264.3 1186.9 256.4 1187.1Z"/>
<path fill="#bf00bf" stroke="#bf00bf" stroke-width=".7" d="M240.3 1158.2 255.7 1158 256 1167.7 240.4 1167.9ZM240.4 1167.9 263.7 1167.5 264 1177.2 240.5 1177.6ZM240.5 1177.6 256.2 1177.4 256.4 1187.1 240.7 1187.4Z"/>
</g>
<path d="M175.5 1040.9 169.4 1196.1M210.8 1041.7 209 1197.1M246.1 1041.6 248.7 1197M281.3 1040.6 288.3 1195.8M131.8 1164.9 162.8 1166.7 193.8 1167.7 224.9 1168 256 1167.7 287 1166.7 318 1164.9M135 1116.5 165 1118.2 194.9 1119.1 224.9 1119.5 254.9 1119.1 284.8 1118.2 314.8 1116.5M138.3 1068.1 167.2 1069.7 196 1070.6 224.9 1070.9 253.8 1070.6 282.6 1069.7 311.5 1068.1" fill="none" stroke="#c8c8c8" stroke-opacity=".3" stroke-width=".6" stroke-dasharray="1 1"/>
<path d="M258.8 1052.6 255.2 1053.5 251 1054.7 247.6 1054.2 244.1 1052.9 240.7 1053.4 238 1054.7 233.7 1053.4 231.2 1051.3 226.9 1052.5 224 1053.1 218.8 1053.4 213.7 1052.8 210.2 1051.8 205 1050.6 201.6 1049.9 199.1 1048.5 195.6 1050.8 191.2 1049.9 187 1049.8 182.7 1050.8 179.2 1049 176.7 1047.1 174.1 1045.7 170.7 1045.3 168.1 1046.6 165.4 1048.2 164.2 1050.3 165.5 1052.9 162 1051.9 158.5 1052.9 155.2 1054.1 151.7 1056.2 149.5 1058.4 149 1060.9 151.2 1062.6 152.6 1064.5 155.1 1065.6 156.5 1067 153.4 1067.8 155.1 1069.8 157.2 1072.1 157.7 1073.7 155.2 1074.5 154.7 1077.2 154.3 1079.7 155.2 1083.1 155.6 1088.2 156.4 1095 156.5 1102.8 155 1105 153.7 1109.4 152.6 1114.4 150.3 1119.6 148.2 1124.7 145.6 1128.4 143.5 1130.7 143.1 1134.9 141.8 1139.1 141.4 1141.8 143.8 1142.5 147.3 1141.8 149.8 1139.2 150.7 1137.1 153.4 1134.9 150.8 1139.2 149.1 1142.1 147.3 1143.5 145.7 1145.2 146 1147.3 149.1 1146.9 151.6 1146.5 153.8 1148.5 151.6 1149.4 151.2 1152.9 150.7 1157.1 151.7 1162.2 150.3 1166.4 149 1170.6 147.7 1174.9 149.9 1174 153.7 1173.2 157.6 1174 161.2 1174.9 164.1 1176.2 167.1 1175 170.9 1173 174.9 1172.4 178.3 1172.9 181.8 1174.6 185.2 1177.6 187.7 1180.5 189.5 1179.2 192.1 1176.2 189.5 1179.2 187.7 1180.5 186.9 1183.4 189.5 1186 191.3 1189.4 194.7 1192.8 198.1 1195.3 200.3 1196.7 202.9 1194.5 204.5 1191.6 206.8 1188.5 210.2 1187.4 213.6 1187.2 217 1185.1 220.5 1183 222.5 1182.4 227.7 1182.2 232.9 1183 238.1 1182.1 243.3 1182.7 245.8 1183 247.5 1180.5 250.9 1180 253.6 1182.1 256.5 1179.1 258.3 1175.8 259.7 1172.5 262.2 1169.5 265.6 1166.5 269.1 1165.2 272.5 1165.7 275.1 1163.8 274.2 1161.3 275.9 1157 277.6 1152.9 280.2 1149.1 283.7 1146.4 287.1 1144.7 288.8 1142.1 286.7 1140 284.1 1138.8 282.4 1135 281.1 1129.8 281.1 1126.5 282.9 1122.1 285 1118 287.6 1113.6 290.5 1109.3 292.7 1105.7 294.9 1104.4 297.1 1103.2 295.7 1102.5 296.6 1099.9 299.2 1096.8 303.5 1094.6 307.9 1093.4 312.1 1092.2 313.1 1091.7M258.8 1052.6 260.4 1055.5 262.2 1056 261.7 1059.7 264.7 1060.2 269 1061.1 273.3 1063.6 277.6 1063.6 282 1065.4 287.2 1065 291.5 1065.3 292.8 1062.4 296.6 1063.7 301.8 1064.4 304 1066.2 303.1 1068.8 305.2 1069.6 307.8 1067.9 307.4 1066.2 304 1066.2 307.4 1066.2 307.8 1067.9 310.4 1068.7 311.6 1070.6M258.8 1052.6 260.4 1049.7 261.3 1046.1 262.1 1041.3M154.3 1079.7 156 1078.8 160.3 1077.1 163.8 1076.7 164.6 1078.9 165.4 1082.2 168.1 1081.4 172.3 1082.3 175.8 1083 179.2 1081 183.6 1080.6 187.8 1080.9 187.8 1084.8 189.5 1086.6 193 1088.2 191.3 1091.7 187.8 1094.1 184.4 1096.7 181.8 1098.4 183.5 1101.8 183.5 1107 182.7 1112 180.1 1114.7 180.1 1117.2 181.9 1119.8 181 1123 179.3 1125.3 175.8 1125.2 172.4 1124.9 171.9 1126 174 1129 175.8 1132.6 177.6 1135 180.5 1137.4 177.5 1140.8 175.3 1144.2 174.5 1148.5 176.7 1152 180 1153.7 178.7 1156.2 175.2 1157.4 173.1 1161.2 171.1 1165.6 170.9 1173M289.8 1195.7 294 1191.2 299.2 1187.6 304.4 1184.8 311.2 1183.1 319.2 1182.2M304 1138 305.7 1135.4 308.6 1134 310.4 1135.3 309 1137.9 307 1139.6 304.4 1139.1 304 1138M306.5 1142.1 310 1143.1" fill="none" stroke="#000" stroke-width="1.2" stroke-linejoin="round"/>
<path d="M306.5 1142.1 310 1143.1M294.9 1104.1 297.2 1103.4" fill="none" stroke="#000" stroke-width="1.9" stroke-linecap="round"/>
<path d="M140.3 1039 168.5 1040.6 196.7 1041.5 224.9 1041.8 253.1 1041.5 281.3 1040.6 309.5 1039 320 1194 288.3 1195.8 256.6 1196.8 224.9 1197.2 193.2 1196.8 161.5 1195.8 129.8 1194Z" fill="none" stroke="#2e2e2e" stroke-width="1.15"/>
<g opacity=".82">
<text x="135" y="1070.7" class="tk" text-anchor="end">42.5<tspan dy="-2.2" font-size="4.5">°</tspan><tspan dy="2.2"> N</tspan></text>
<text x="131.7" y="1119.1" class="tk" text-anchor="end">40.0<tspan dy="-2.2" font-size="4.5">°</tspan><tspan dy="2.2"> N</tspan></text>
<text x="128.5" y="1167.5" class="tk" text-anchor="end">37.5<tspan dy="-2.2" font-size="4.5">°</tspan><tspan dy="2.2"> N</tspan></text>
<text x="129.8" y="1210" class="tk" text-anchor="middle">10.0° W</text>
<text x="209" y="1213.1" class="tk" text-anchor="middle">5.0° W</text>
<text x="288.3" y="1211.8" class="tk" text-anchor="middle">0.0°</text>
</g>
<text x="224.9" y="1033.8" class="ti" text-anchor="middle">2010</text></g>
<g><g filter="url(#bl)">
<path fill="#00ff80" stroke="#00ff80" stroke-width=".7" d="M465.4 1051 472.5 1051.2 472.2 1060.9 465.1 1060.7ZM465.1 1060.7 472.2 1060.9 472 1070.6 464.8 1070.4ZM457.6 1070.2 472 1070.6 471.8 1080.3 457.3 1079.9ZM457.3 1079.9 471.8 1080.3 471.6 1090 456.9 1089.6ZM449.6 1089.4 464.3 1089.8 464 1099.6 449.2 1099.1ZM449.2 1099.1 456.6 1099.3 456.3 1109 448.8 1108.8ZM456.3 1109 463.7 1109.3 463.4 1119 455.9 1118.7ZM463.4 1119 470.9 1119.1 470.7 1128.9 463.2 1128.7ZM470.7 1128.9 485.8 1129.1 485.7 1138.8 470.5 1138.6ZM478.1 1138.7 493.3 1138.9 493.2 1148.6 477.9 1148.4ZM485.6 1148.5 500.9 1148.6 500.9 1158.3 485.5 1158.2ZM485.5 1158.2 508.6 1158.3 508.7 1168 485.4 1167.9ZM423.3 1165.9 465.9 1167.6 508.7 1168 508.7 1177.7 465.7 1177.3 422.7 1175.6ZM461.8 1177.2 500.9 1177.7 500.9 1187.4 461.5 1186.9ZM461.5 1186.9 485.1 1187.4 485 1197.1 461.2 1196.6Z"/>
<path fill="#00d595" stroke="#00d595" stroke-width=".7" d="M472.5 1051.2 479.6 1051.3 479.4 1061 472.2 1060.9ZM472.2 1060.9 479.4 1061 479.2 1070.8 472 1070.6ZM472 1070.6 479.2 1070.8 479.1 1080.5 471.8 1080.3ZM471.8 1080.3 479.1 1080.5 478.9 1090.2 471.6 1090ZM464.3 1089.8 471.6 1090 471.4 1099.7 464 1099.6ZM456.6 1099.3 464 1099.6 463.7 1109.3 456.3 1109ZM463.7 1109.3 471.1 1109.4 470.9 1119.1 463.4 1119ZM470.9 1119.1 478.4 1119.3 478.3 1129 470.7 1128.9ZM485.8 1129.1 493.4 1129.2 493.3 1138.9 485.7 1138.8ZM493.3 1138.9 500.9 1138.9 500.9 1148.6 493.2 1148.6ZM500.9 1148.6 508.6 1148.6 508.6 1158.3 500.9 1158.3ZM508.6 1158.3 516.3 1158.2 516.4 1167.9 508.7 1168ZM508.7 1168 516.4 1167.9 516.5 1177.6 508.7 1177.7ZM500.9 1177.7 508.7 1177.7 508.8 1187.4 500.9 1187.4Z"/>
<path fill="#00aaaa" stroke="#00aaaa" stroke-width=".7" d="M465.6 1041.3 479.7 1041.6 479.6 1051.3 465.4 1051ZM479.6 1051.3 493.8 1051.5 493.7 1061.2 479.4 1061ZM479.4 1061 493.7 1061.2 493.7 1070.9 479.2 1070.8ZM479.2 1070.8 493.7 1070.9 493.6 1080.6 479.1 1080.5ZM479.1 1080.5 515.4 1080.6 515.6 1090.3 478.9 1090.2ZM471.6 1090 486.2 1090.3 486.1 1100 471.4 1099.7ZM500.9 1090.4 515.6 1090.3 515.7 1100 500.9 1100.1ZM464 1099.6 478.7 1099.9 478.6 1109.6 463.7 1109.3ZM500.9 1100.1 515.7 1100 515.8 1109.7 500.9 1109.8ZM471.1 1109.4 486 1109.7 485.9 1119.4 470.9 1119.1ZM478.4 1119.3 493.4 1119.5 493.4 1129.2 478.3 1129ZM493.4 1129.2 508.4 1129.2 508.5 1138.9 493.3 1138.9ZM500.9 1138.9 516.1 1138.8 516.2 1148.5 500.9 1148.6ZM508.6 1148.6 523.9 1148.4 524 1158.1 508.6 1158.3ZM516.3 1158.2 524 1158.1 524.2 1167.8 516.4 1167.9ZM516.4 1167.9 524.2 1167.8 524.4 1177.5 516.5 1177.6ZM508.7 1177.7 524.4 1177.5 524.5 1187.2 508.8 1187.4Z"/>
<path fill="#0080bf" stroke="#0080bf" stroke-width=".7" d="M479.7 1041.6 486.8 1041.7 486.7 1051.4 479.6 1051.3ZM493.8 1051.5 529.3 1051.2 529.6 1060.9 493.7 1061.2ZM493.7 1061.2 529.6 1060.9 529.8 1070.6 493.7 1070.9ZM493.7 1070.9 529.8 1070.6 530 1080.3 493.6 1080.6ZM515.4 1080.6 522.7 1080.5 522.9 1090.2 515.6 1090.3ZM486.2 1090.3 500.9 1090.4 500.9 1100.1 486.1 1100ZM515.6 1090.3 530.2 1090 530.4 1099.7 515.7 1100ZM486.1 1100 500.9 1100.1 500.9 1109.8 486 1109.7ZM486 1109.7 500.9 1109.8 500.9 1119.5 485.9 1119.4ZM493.4 1119.5 500.9 1119.5 500.9 1129.2 493.4 1129.2ZM508.4 1119.5 515.9 1119.4 516 1129.1 508.4 1129.2ZM508.4 1129.2 516 1129.1 516.1 1138.8 508.5 1138.9ZM516.1 1138.8 531.3 1138.6 531.5 1148.3 516.2 1148.5ZM523.9 1148.4 531.5 1148.3 531.7 1158 524 1158.1ZM524 1158.1 531.7 1158 532 1167.7 524.2 1167.8Z"/>
<path fill="#0055d5" stroke="#0055d5" stroke-width=".7" d="M529.3 1051.2 536.4 1051 536.7 1060.7 529.6 1060.9ZM529.6 1060.9 543.9 1060.5 544.2 1070.2 529.8 1070.6ZM572.5 1059.2 579.7 1058.8 580.3 1068.5 573.1 1068.9ZM529.8 1070.6 537 1070.4 537.3 1080.1 530 1080.3ZM573.1 1068.9 580.3 1068.5 580.9 1078.2 573.6 1078.6ZM522.7 1080.5 537.3 1080.1 537.5 1089.8 522.9 1090.2ZM530.2 1090 537.5 1089.8 537.8 1099.6 530.4 1099.7ZM478.7 1099.9 486.1 1100 486 1109.7 478.6 1109.6ZM515.7 1100 537.8 1099.6 538.1 1109.3 515.8 1109.7ZM500.9 1109.8 538.1 1109.3 538.4 1119 500.9 1119.5ZM500.9 1119.5 508.4 1119.5 508.4 1129.2 500.9 1129.2ZM515.9 1119.4 538.4 1119 538.6 1128.7 516 1129.1ZM516 1129.1 531.1 1128.9 531.3 1138.6 516.1 1138.8ZM531.3 1138.6 538.9 1138.4 539.2 1148.1 531.5 1148.3ZM531.5 1148.3 539.2 1148.1 539.5 1157.8 531.7 1158ZM531.7 1158 539.5 1157.8 539.7 1167.5 532 1167.7Z"/>
<path fill="#002bea" stroke="#002bea" stroke-width=".7" d="M543.9 1060.5 572.5 1059.2 573.1 1068.9 544.2 1070.2ZM537 1070.4 551.4 1070 551.8 1079.7 537.3 1080.1ZM558.6 1069.7 573.1 1068.9 573.6 1078.6 559.1 1079.4ZM559.1 1079.4 580.9 1078.2 581.5 1087.9 559.5 1089.1ZM537.5 1089.8 544.9 1089.6 545.2 1099.3 537.8 1099.6ZM574.2 1088.3 581.5 1087.9 582.1 1097.6 574.7 1098ZM537.8 1099.6 567.3 1098.4 567.8 1108.1 538.1 1109.3ZM538.1 1109.3 567.8 1108.1 568.3 1117.8 538.4 1119ZM538.4 1119 560.8 1118.2 561.3 1127.9 538.6 1128.7ZM531.1 1128.9 561.3 1127.9 561.7 1137.6 531.3 1138.6ZM538.9 1138.4 561.7 1137.6 562.1 1147.3 539.2 1148.1ZM539.2 1148.1 562.1 1147.3 562.6 1157 539.5 1157.8ZM539.5 1157.8 554.9 1157.3 555.3 1167 539.7 1167.5ZM524.2 1167.8 539.7 1167.5 540 1177.2 524.4 1177.5ZM524.4 1177.5 540 1177.2 540.3 1186.9 524.5 1187.2Z"/>
<path fill="#0000ff" stroke="#0000ff" stroke-width=".7" d="M551.4 1070 558.6 1069.7 559.1 1079.4 551.8 1079.7ZM537.3 1080.1 559.1 1079.4 559.5 1089.1 537.5 1089.8ZM544.9 1089.6 574.2 1088.3 574.7 1098 545.2 1099.3ZM567.3 1098.4 574.7 1098 575.2 1107.7 567.8 1108.1Z"/>
</g>
<path d="M451.5 1040.9 445.4 1196.1M486.8 1041.7 485 1197.1M522.1 1041.6 524.7 1197M557.3 1040.6 564.3 1195.8M407.8 1164.9 438.8 1166.7 469.8 1167.7 500.9 1168 532 1167.7 563 1166.7 594 1164.9M411 1116.5 441 1118.2 470.9 1119.1 500.9 1119.5 530.9 1119.1 560.8 1118.2 590.8 1116.5M414.3 1068.1 443.2 1069.7 472 1070.6 500.9 1070.9 529.8 1070.6 558.6 1069.7 587.5 1068.1" fill="none" stroke="#c8c8c8" stroke-opacity=".3" stroke-width=".6" stroke-dasharray="1 1"/>
<path d="M534.8 1052.6 531.2 1053.5 527 1054.7 523.6 1054.2 520.1 1052.9 516.7 1053.4 514 1054.7 509.7 1053.4 507.2 1051.3 502.9 1052.5 500 1053.1 494.8 1053.4 489.7 1052.8 486.2 1051.8 481 1050.6 477.6 1049.9 475.1 1048.5 471.6 1050.8 467.2 1049.9 463 1049.8 458.7 1050.8 455.2 1049 452.7 1047.1 450.1 1045.7 446.7 1045.3 444.1 1046.6 441.4 1048.2 440.2 1050.3 441.5 1052.9 438 1051.9 434.5 1052.9 431.2 1054.1 427.7 1056.2 425.5 1058.4 425 1060.9 427.2 1062.6 428.6 1064.5 431.1 1065.6 432.5 1067 429.4 1067.8 431.1 1069.8 433.2 1072.1 433.7 1073.7 431.2 1074.5 430.7 1077.2 430.3 1079.7 431.2 1083.1 431.6 1088.2 432.4 1095 432.5 1102.8 431 1105 429.7 1109.4 428.6 1114.4 426.3 1119.6 424.2 1124.7 421.6 1128.4 419.5 1130.7 419.1 1134.9 417.8 1139.1 417.4 1141.8 419.8 1142.5 423.3 1141.8 425.8 1139.2 426.7 1137.1 429.4 1134.9 426.8 1139.2 425.1 1142.1 423.3 1143.5 421.7 1145.2 422 1147.3 425.1 1146.9 427.6 1146.5 429.8 1148.5 427.6 1149.4 427.2 1152.9 426.7 1157.1 427.7 1162.2 426.3 1166.4 425 1170.6 423.7 1174.9 425.9 1174 429.7 1173.2 433.6 1174 437.2 1174.9 440.1 1176.2 443.1 1175 446.9 1173 450.9 1172.4 454.3 1172.9 457.8 1174.6 461.2 1177.6 463.7 1180.5 465.5 1179.2 468.1 1176.2 465.5 1179.2 463.7 1180.5 462.9 1183.4 465.5 1186 467.3 1189.4 470.7 1192.8 474.1 1195.3 476.3 1196.7 478.9 1194.5 480.5 1191.6 482.8 1188.5 486.2 1187.4 489.6 1187.2 493 1185.1 496.5 1183 498.5 1182.4 503.7 1182.2 508.9 1183 514.1 1182.1 519.3 1182.7 521.8 1183 523.5 1180.5 526.9 1180 529.6 1182.1 532.5 1179.1 534.3 1175.8 535.7 1172.5 538.2 1169.5 541.6 1166.5 545.1 1165.2 548.5 1165.7 551.1 1163.8 550.2 1161.3 551.9 1157 553.6 1152.9 556.2 1149.1 559.7 1146.4 563.1 1144.7 564.8 1142.1 562.7 1140 560.1 1138.8 558.4 1135 557.1 1129.8 557.1 1126.5 558.9 1122.1 561 1118 563.6 1113.6 566.5 1109.3 568.7 1105.7 570.9 1104.4 573.1 1103.2 571.7 1102.5 572.6 1099.9 575.2 1096.8 579.5 1094.6 583.9 1093.4 588.1 1092.2 589.1 1091.7M534.8 1052.6 536.4 1055.5 538.2 1056 537.7 1059.7 540.7 1060.2 545 1061.1 549.3 1063.6 553.6 1063.6 558 1065.4 563.2 1065 567.5 1065.3 568.8 1062.4 572.6 1063.7 577.8 1064.4 580 1066.2 579.1 1068.8 581.2 1069.6 583.8 1067.9 583.4 1066.2 580 1066.2 583.4 1066.2 583.8 1067.9 586.4 1068.7 587.6 1070.6M534.8 1052.6 536.4 1049.7 537.3 1046.1 538.1 1041.3M430.3 1079.7 432 1078.8 436.3 1077.1 439.8 1076.7 440.6 1078.9 441.4 1082.2 444.1 1081.4 448.3 1082.3 451.8 1083 455.2 1081 459.6 1080.6 463.8 1080.9 463.8 1084.8 465.5 1086.6 469 1088.2 467.3 1091.7 463.8 1094.1 460.4 1096.7 457.8 1098.4 459.5 1101.8 459.5 1107 458.7 1112 456.1 1114.7 456.1 1117.2 457.9 1119.8 457 1123 455.3 1125.3 451.8 1125.2 448.4 1124.9 447.9 1126 450 1129 451.8 1132.6 453.6 1135 456.5 1137.4 453.5 1140.8 451.3 1144.2 450.5 1148.5 452.7 1152 456 1153.7 454.7 1156.2 451.2 1157.4 449.1 1161.2 447.1 1165.6 446.9 1173M565.8 1195.7 570 1191.2 575.2 1187.6 580.4 1184.8 587.2 1183.1 595.2 1182.2M580 1138 581.7 1135.4 584.6 1134 586.4 1135.3 585 1137.9 583 1139.6 580.4 1139.1 580 1138M582.5 1142.1 586 1143.1" fill="none" stroke="#000" stroke-width="1.2" stroke-linejoin="round"/>
<path d="M582.5 1142.1 586 1143.1M570.9 1104.1 573.2 1103.4" fill="none" stroke="#000" stroke-width="1.9" stroke-linecap="round"/>
<path d="M416.3 1039 444.5 1040.6 472.7 1041.5 500.9 1041.8 529.1 1041.5 557.3 1040.6 585.5 1039 596 1194 564.3 1195.8 532.6 1196.8 500.9 1197.2 469.2 1196.8 437.5 1195.8 405.8 1194Z" fill="none" stroke="#2e2e2e" stroke-width="1.15"/>
<g opacity=".82">
<text x="411" y="1070.7" class="tk" text-anchor="end">42.5<tspan dy="-2.2" font-size="4.5">°</tspan><tspan dy="2.2"> N</tspan></text>
<text x="407.7" y="1119.1" class="tk" text-anchor="end">40.0<tspan dy="-2.2" font-size="4.5">°</tspan><tspan dy="2.2"> N</tspan></text>
<text x="404.5" y="1167.5" class="tk" text-anchor="end">37.5<tspan dy="-2.2" font-size="4.5">°</tspan><tspan dy="2.2"> N</tspan></text>
<text x="405.8" y="1210" class="tk" text-anchor="middle">10.0° W</text>
<text x="485" y="1213.1" class="tk" text-anchor="middle">5.0° W</text>
<text x="564.3" y="1211.8" class="tk" text-anchor="middle">0.0°</text>
</g>
<text x="500.9" y="1033.8" class="ti" text-anchor="middle">1972</text></g>
<g><g filter="url(#bl)">
<path fill="#00ff80" stroke="#00ff80" stroke-width=".7" d="M830.8 1061.2 845.1 1060.6 845.6 1070.2 831.2 1070.9ZM824 1071.1 831.2 1070.9 831.6 1080.5 824.3 1080.8ZM802.9 1100.7 810.3 1100.5 810.5 1110.2 803.1 1110.4ZM780.8 1110.5 795.6 1110.5 795.8 1120.1 780.8 1120.2ZM765.8 1120.1 780.8 1120.2 780.8 1129.9 765.7 1129.8ZM765.7 1129.8 773.3 1129.9 773.2 1139.6 765.6 1139.5ZM765.6 1139.5 780.8 1139.6 780.8 1149.3 765.5 1149.2ZM757.9 1149.1 773.2 1149.2 773.1 1158.9 757.7 1158.7ZM750 1158.6 765.4 1158.8 765.3 1168.5 749.8 1168.3ZM726.6 1167.6 749.8 1168.3 749.6 1177.9 726.2 1177.2Z"/>
<path fill="#00d595" stroke="#00d595" stroke-width=".7" d="M809.2 1052.2 816.3 1052 816.5 1061.7 809.4 1061.8ZM816.5 1061.7 830.8 1061.2 831.2 1070.9 816.8 1071.3ZM816.8 1071.3 824 1071.1 824.3 1080.8 817.1 1081ZM795.5 1100.8 802.9 1100.7 803.1 1110.4 795.6 1110.5ZM773.4 1110.5 780.8 1110.5 780.8 1120.2 773.3 1120.2ZM758.4 1120 765.8 1120.1 765.7 1129.8 758.2 1129.7ZM758.2 1129.7 765.7 1129.8 765.6 1139.5 758 1139.4ZM750.5 1139.2 765.6 1139.5 765.5 1149.2 750.2 1148.9ZM742.6 1148.7 757.9 1149.1 757.7 1158.7 742.3 1158.4ZM734.6 1158.2 750 1158.6 749.8 1168.3 734.3 1167.8ZM711.1 1166.9 726.6 1167.6 726.2 1177.2 710.6 1176.5Z"/>
<path fill="#00aaaa" stroke="#00aaaa" stroke-width=".7" d="M795 1052.4 809.2 1052.2 809.4 1061.8 795.1 1062.1ZM802.2 1062 816.5 1061.7 816.8 1071.3 802.4 1071.7ZM809.6 1071.5 816.8 1071.3 817.1 1081 809.8 1081.2ZM795.3 1081.4 817.1 1081 817.4 1090.7 795.4 1091.1ZM795.4 1091.1 817.4 1090.7 817.6 1100.4 795.5 1100.8ZM780.8 1100.9 795.5 1100.8 795.6 1110.5 780.8 1110.5ZM743.7 1110 773.4 1110.5 773.3 1120.2 743.4 1119.7ZM750.9 1119.9 758.4 1120 758.2 1129.7 750.7 1129.6ZM750.7 1129.6 758.2 1129.7 758 1139.4 750.5 1139.2ZM735.3 1138.8 750.5 1139.2 750.2 1148.9 735 1148.5ZM727.3 1148.2 742.6 1148.7 742.3 1158.4 727 1157.9ZM703.9 1156.8 734.6 1158.2 734.3 1167.8 703.3 1166.5ZM703.3 1166.5 711.1 1166.9 710.6 1176.5 702.8 1176.1Z"/>
<path fill="#0080bf" stroke="#0080bf" stroke-width=".7" d="M780.8 1052.5 795 1052.4 795.1 1062.1 780.8 1062.2ZM787.9 1062.1 802.2 1062 802.4 1071.7 788 1071.8ZM802.4 1071.7 809.6 1071.5 809.8 1081.2 802.6 1081.3ZM788.1 1081.5 795.3 1081.4 795.4 1091.1 788.1 1091.2ZM751.6 1090.9 795.4 1091.1 795.5 1100.8 751.3 1100.5ZM736.6 1100.1 780.8 1100.9 780.8 1110.5 736.3 1109.8ZM714 1108.9 743.7 1110 743.4 1119.7 713.5 1118.5ZM736 1119.5 750.9 1119.9 750.7 1129.6 735.6 1129.1ZM698 1127.4 750.7 1129.6 750.5 1139.2 697.4 1137ZM697.4 1137 735.3 1138.8 735 1148.5 696.8 1146.7ZM696.8 1146.7 727.3 1148.2 727 1157.9 696.2 1156.4Z"/>
<path fill="#0055d5" stroke="#0055d5" stroke-width=".7" d="M773.7 1052.5 780.8 1052.5 780.8 1062.2 773.7 1062.1ZM766.5 1062.1 787.9 1062.1 788 1071.8 766.4 1071.8ZM752 1071.5 802.4 1071.7 802.6 1081.3 751.8 1081.2ZM751.8 1081.2 788.1 1081.5 788.1 1091.2 751.6 1090.9ZM736.9 1090.5 751.6 1090.9 751.3 1100.5 736.6 1100.1ZM707.2 1098.8 736.6 1100.1 736.3 1109.8 706.6 1108.5ZM706.6 1108.5 714 1108.9 713.5 1118.5 706.1 1118.2ZM698.6 1117.7 736 1119.5 735.6 1129.1 698 1127.4Z"/>
<path fill="#002bea" stroke="#002bea" stroke-width=".7" d="M759.7 1042.6 766.7 1042.7 766.6 1052.4 759.5 1052.3ZM752.4 1052.2 773.7 1052.5 773.7 1062.1 752.2 1061.8ZM737.9 1061.4 766.5 1062.1 766.4 1071.8 737.6 1071.1ZM708.8 1069.8 752 1071.5 751.8 1081.2 708.3 1079.5ZM708.3 1079.5 751.8 1081.2 751.6 1090.9 707.7 1089.2ZM707.7 1089.2 736.9 1090.5 736.6 1100.1 707.2 1098.8Z"/>
<path fill="#0000ff" stroke="#0000ff" stroke-width=".7" d="M717.5 1041.2 759.7 1042.6 759.5 1052.3 717 1050.9ZM702.8 1050.1 752.4 1052.2 752.2 1061.8 702.2 1059.8ZM702.2 1059.8 737.9 1061.4 737.6 1071.1 701.6 1069.4Z"/>
</g>
<path d="M731.5 1041.8 725.4 1196.6M766.7 1042.7 765 1197.6M801.9 1042.6 804.5 1197.4M837.1 1041.6 844.1 1196.2M687.9 1165.5 718.8 1167.2 749.8 1168.3 780.8 1168.6 811.8 1168.3 842.8 1167.2 873.7 1165.5M691.2 1117.2 721 1118.9 750.9 1119.9 780.8 1120.2 810.7 1119.9 840.6 1118.9 870.4 1117.2M694.4 1069 723.2 1070.6 752 1071.5 780.8 1071.8 809.6 1071.5 838.4 1070.6 867.2 1069" fill="none" stroke="#c8c8c8" stroke-opacity=".3" stroke-width=".6" stroke-dasharray="1 1"/>
<path d="M814.6 1053.6 811.1 1054.4 806.8 1055.7 803.4 1055.2 800 1053.9 796.6 1054.3 793.9 1055.7 789.6 1054.4 787 1052.3 782.8 1053.4 779.9 1054 774.7 1054.4 769.6 1053.8 766.2 1052.8 761 1051.5 757.6 1050.9 755 1049.5 751.6 1051.8 747.2 1050.9 743 1050.8 738.7 1051.8 735.2 1049.9 732.7 1048.1 730.1 1046.6 726.7 1046.3 724.1 1047.5 721.5 1049.2 720.2 1051.2 721.5 1053.8 718 1052.9 714.6 1053.9 711.2 1055 707.8 1057.2 705.5 1059.4 705.1 1061.9 707.3 1063.6 708.6 1065.4 711.2 1066.5 712.5 1067.9 709.5 1068.7 711.2 1070.7 713.3 1073 713.8 1074.6 711.3 1075.4 710.8 1078.1 710.4 1080.6 711.2 1083.9 711.7 1089 712.5 1095.8 712.5 1103.6 711.1 1105.8 709.8 1110.2 708.6 1115.2 706.4 1120.3 704.3 1125.4 701.7 1129.2 699.6 1131.4 699.2 1135.6 697.9 1139.8 697.5 1142.5 699.9 1143.2 703.3 1142.4 705.9 1139.9 706.8 1137.8 709.5 1135.6 706.8 1139.9 705.1 1142.7 703.4 1144.2 701.8 1145.8 702.1 1148 705.2 1147.6 707.7 1147.1 709.8 1149.2 707.7 1150 707.3 1153.5 706.8 1157.7 707.7 1162.8 706.4 1167 705.1 1171.2 703.8 1175.4 706 1174.6 709.8 1173.8 713.7 1174.6 717.2 1175.5 720.1 1176.8 723.1 1175.6 727 1173.6 730.9 1173 734.3 1173.5 737.8 1175.1 741.2 1178.1 743.7 1181.1 745.5 1179.8 748.1 1176.7 745.5 1179.8 743.7 1181.1 742.9 1184 745.5 1186.6 747.3 1189.9 750.7 1193.3 754.1 1195.8 756.3 1197.2 758.8 1195 760.5 1192.1 762.7 1189 766.2 1187.9 769.5 1187.7 773 1185.6 776.4 1183.5 778.5 1182.9 783.6 1182.7 788.8 1183.5 794 1182.7 799.1 1183.2 801.6 1183.6 803.3 1181 806.8 1180.6 809.5 1182.6 812.4 1179.7 814.2 1176.3 815.5 1173 818 1170.1 821.4 1167.1 824.9 1165.8 828.3 1166.3 830.9 1164.4 830 1161.9 831.7 1157.6 833.4 1153.5 836 1149.7 839.4 1147 842.9 1145.3 844.6 1142.7 842.5 1140.7 839.8 1139.5 838.2 1135.7 836.9 1130.5 836.9 1127.2 838.7 1122.9 840.7 1118.7 843.4 1114.3 846.3 1110.1 848.5 1106.5 850.6 1105.2 852.8 1104 851.4 1103.3 852.3 1100.7 854.9 1097.6 859.2 1095.5 863.6 1094.2 867.8 1093 868.8 1092.5M814.6 1053.6 816.2 1056.4 818 1057 817.5 1060.7 820.5 1061.2 824.8 1062 829.1 1064.5 833.4 1064.6 837.8 1066.3 842.9 1065.9 847.3 1066.3 848.5 1063.3 852.4 1064.6 857.6 1065.3 859.7 1067.1 858.8 1069.7 860.9 1070.5 863.5 1068.8 863.1 1067.1 859.7 1067.1 863.1 1067.1 863.5 1068.8 866.1 1069.6 867.3 1071.5M814.6 1053.6 816.2 1050.6 817.1 1047.1 818 1042.3M710.4 1080.6 712 1079.7 716.3 1078 719.8 1077.6 720.6 1079.7 721.5 1083.1 724.1 1082.2 728.3 1083.2 731.8 1083.9 735.2 1081.9 739.6 1081.4 743.8 1081.8 743.8 1085.6 745.5 1087.4 749 1089.1 747.3 1092.5 743.8 1094.9 740.4 1097.5 737.8 1099.2 739.5 1102.5 739.5 1107.8 738.7 1112.8 736.1 1115.4 736.2 1117.9 737.9 1120.5 737 1123.8 735.3 1126 731.8 1125.9 728.4 1125.6 727.9 1126.7 730 1129.7 731.9 1133.3 733.6 1135.7 736.5 1138.1 733.5 1141.5 731.3 1144.9 730.5 1149.1 732.7 1152.7 736 1154.3 734.7 1156.8 731.3 1158.1 729.1 1161.8 727.1 1166.2 727 1173.6M845.5 1196.2 849.7 1191.7 854.9 1188.2 860.1 1185.4 866.9 1183.6 874.9 1182.7M859.7 1138.7 861.4 1136 864.3 1134.7 866.1 1136 864.7 1138.6 862.7 1140.2 860.1 1139.8 859.7 1138.7M862.3 1142.8 865.7 1143.7" fill="none" stroke="#000" stroke-width="1.2" stroke-linejoin="round"/>
<path d="M862.3 1142.8 865.7 1143.7M850.6 1104.9 853 1104.1" fill="none" stroke="#000" stroke-width="1.9" stroke-linecap="round"/>
<path d="M696.4 1040 724.5 1041.6 752.6 1042.5 780.8 1042.8 809 1042.5 837.1 1041.6 865.2 1040 875.7 1194.5 844.1 1196.2 812.5 1197.3 780.8 1197.6 749.1 1197.3 717.5 1196.2 685.9 1194.5Z" fill="none" stroke="#2e2e2e" stroke-width="1.15"/>
<g opacity=".82">
<text x="691.1" y="1071.6" class="tk" text-anchor="end">42.5<tspan dy="-2.2" font-size="4.5">°</tspan><tspan dy="2.2"> N</tspan></text>
<text x="687.9" y="1119.8" class="tk" text-anchor="end">40.0<tspan dy="-2.2" font-size="4.5">°</tspan><tspan dy="2.2"> N</tspan></text>
<text x="684.6" y="1168.1" class="tk" text-anchor="end">37.5<tspan dy="-2.2" font-size="4.5">°</tspan><tspan dy="2.2"> N</tspan></text>
<text x="685.9" y="1210.5" class="tk" text-anchor="middle">10.0° W</text>
<text x="765" y="1213.6" class="tk" text-anchor="middle">5.0° W</text>
<text x="844.1" y="1212.2" class="tk" text-anchor="middle">0.0°</text>
</g>
<text x="780.8" y="1034.8" class="ti" text-anchor="middle">2001</text></g>
<g><g filter="url(#bl)">
<path fill="#00ff80" stroke="#00ff80" stroke-width=".7" d="M1000.5 1038.1 1021.7 1039 1021.3 1048.7 1000 1047.8ZM1042.8 1039.5 1049.9 1039.6 1049.8 1049.3 1042.7 1049.2ZM985.8 1047 1000 1047.8 999.5 1057.5 985.2 1056.7ZM1007.1 1048.2 1014.2 1048.5 1013.9 1058.2 1006.7 1057.9ZM985.2 1056.7 1013.9 1058.2 1013.5 1067.9 984.6 1066.4ZM1064 1059.1 1071.2 1059.1 1071.2 1068.8 1064 1068.8ZM991.8 1066.8 1013.5 1067.9 1013.1 1077.6 991.3 1076.5ZM1056.8 1068.8 1092.9 1068.5 1093.1 1078.2 1056.7 1078.5ZM1005.8 1077.3 1020.4 1077.8 1020 1087.5 1005.4 1087ZM1056.7 1078.5 1064 1078.5 1064 1088.3 1056.7 1088.2ZM990.7 1086.2 1012.7 1087.3 1012.3 1097 990.2 1095.9ZM1020 1087.5 1027.4 1087.7 1027.1 1097.5 1019.7 1097.2ZM990.2 1095.9 1004.9 1096.7 1004.5 1106.4 989.7 1105.6ZM1019.7 1097.2 1027.1 1097.5 1026.8 1107.2 1019.4 1106.9ZM1041.8 1097.8 1056.6 1097.9 1056.6 1107.6 1041.7 1107.5ZM989.7 1105.6 1004.5 1106.4 1004.1 1116.1 989.1 1115.3ZM1019.4 1106.9 1041.7 1107.5 1041.5 1117.2 1019 1116.6ZM981.6 1114.9 989.1 1115.3 988.6 1125 981 1124.6ZM1026.5 1116.9 1041.5 1117.2 1041.4 1126.9 1026.3 1126.6ZM1117.6 1145.5 1125.2 1145.2 1125.7 1154.9 1118 1155.2Z"/>
<path fill="#00d595" stroke="#00d595" stroke-width=".7" d="M1000 1047.8 1007.1 1048.2 1006.7 1057.9 999.5 1057.5ZM1064 1049.4 1071.1 1049.4 1071.2 1059.1 1064 1059.1ZM1092.9 1068.5 1100.1 1068.3 1100.4 1078 1093.1 1078.2ZM1064 1078.5 1107.6 1077.8 1108 1087.5 1064 1088.3ZM1012.7 1087.3 1020 1087.5 1019.7 1097.2 1012.3 1097ZM1049.3 1088.2 1071.3 1088.2 1071.4 1097.9 1049.2 1097.9ZM1086 1088.1 1108 1087.5 1108.3 1097.2 1086.2 1097.8ZM1004.9 1096.7 1012.3 1097 1011.9 1106.7 1004.5 1106.4ZM1056.6 1097.9 1064 1098 1064 1107.7 1056.6 1107.6ZM1004.5 1106.4 1019.4 1106.9 1019 1116.6 1004.1 1116.1ZM1041.7 1107.5 1049.1 1107.6 1049 1117.3 1041.5 1117.2ZM989.1 1115.3 1026.5 1116.9 1026.3 1126.6 988.6 1125ZM981 1124.6 1018.7 1126.3 1018.4 1136 980.4 1134.3ZM980.4 1134.3 995.6 1135.1 995.1 1144.8 979.8 1143.9ZM1102 1136.3 1117.2 1135.8 1117.6 1145.5 1102.3 1146ZM1102.3 1146 1117.6 1145.5 1118 1155.2 1102.6 1155.7ZM1110.3 1155.4 1118 1155.2 1118.4 1164.9 1110.6 1165.2Z"/>
<path fill="#00aaaa" stroke="#00aaaa" stroke-width=".7" d="M1071.1 1049.4 1099.5 1048.9 1099.8 1058.6 1071.2 1059.1ZM1071.2 1059.1 1114.1 1058.2 1114.5 1067.9 1071.2 1068.8ZM1100.1 1068.3 1121.7 1067.6 1122.2 1077.3 1100.4 1078ZM1107.6 1077.8 1122.2 1077.3 1122.6 1087 1108 1087.5ZM1071.3 1088.2 1086 1088.1 1086.2 1097.8 1071.4 1097.9ZM1108 1087.5 1122.6 1087 1123.1 1096.7 1108.3 1097.2ZM1012.3 1097 1019.7 1097.2 1019.4 1106.9 1011.9 1106.7ZM1064 1098 1115.7 1097 1116.1 1106.7 1064 1107.7ZM1049.1 1107.6 1064 1107.7 1064 1117.4 1049 1117.3ZM1093.8 1107.3 1116.1 1106.7 1116.4 1116.4 1094 1117ZM1041.5 1117.2 1049 1117.3 1048.9 1127 1041.4 1126.9ZM1101.5 1116.9 1109 1116.6 1109.3 1126.3 1101.7 1126.6ZM1018.7 1126.3 1026.3 1126.6 1026 1136.3 1018.4 1136ZM1109.3 1126.3 1116.8 1126.1 1117.2 1135.8 1109.6 1136ZM995.6 1135.1 1018.4 1136 1018.1 1145.7 995.1 1144.8ZM1117.2 1135.8 1124.8 1135.5 1125.2 1145.2 1117.6 1145.5ZM979.8 1143.9 1018.1 1145.7 1017.7 1155.4 979.2 1153.6Z"/>
<path fill="#0080bf" stroke="#0080bf" stroke-width=".7" d="M1114.1 1058.2 1128.5 1057.5 1128.9 1067.2 1114.5 1067.9ZM1121.7 1067.6 1136.2 1066.8 1136.7 1076.5 1122.2 1077.3ZM1122.2 1077.3 1144 1076.1 1144.6 1085.8 1122.6 1087ZM1122.6 1087 1144.6 1085.8 1145.2 1095.5 1123.1 1096.7ZM1115.7 1097 1137.8 1095.9 1138.3 1105.6 1116.1 1106.7ZM1064 1107.7 1093.8 1107.3 1094 1117 1064 1117.4ZM1116.1 1106.7 1130.9 1106 1131.4 1115.7 1116.4 1116.4ZM1049 1117.3 1101.5 1116.9 1101.7 1126.6 1048.9 1127ZM1109 1116.6 1123.9 1116.1 1124.4 1125.8 1109.3 1126.3ZM1026.3 1126.6 1041.4 1126.9 1041.2 1136.6 1026 1136.3ZM1094.2 1126.8 1109.3 1126.3 1109.6 1136 1094.4 1136.5ZM1116.8 1126.1 1124.4 1125.8 1124.8 1135.5 1117.2 1135.8ZM1018.4 1136 1026 1136.3 1025.7 1146 1018.1 1145.7ZM1086.8 1136.6 1102 1136.3 1102.3 1146 1087 1146.3ZM1018.1 1145.7 1025.7 1146 1025.4 1155.7 1017.7 1155.4ZM986.9 1154.1 1002.3 1154.9 1001.9 1164.6 986.4 1163.8ZM1010 1155.2 1017.7 1155.4 1017.4 1165.2 1009.6 1164.9ZM1095.3 1175.3 1103.1 1175.1 1103.4 1184.8 1095.5 1185Z"/>
<path fill="#0055d5" stroke="#0055d5" stroke-width=".7" d="M1136.2 1066.8 1143.4 1066.4 1144 1076.1 1136.7 1076.5ZM1041.4 1126.9 1056.5 1127.1 1056.4 1136.8 1041.2 1136.6ZM1079.1 1127 1094.2 1126.8 1094.4 1136.5 1079.2 1136.7ZM1026 1136.3 1041.2 1136.6 1041 1146.3 1025.7 1146ZM1079.2 1136.7 1086.8 1136.6 1087 1146.3 1079.3 1146.4ZM1025.7 1146 1041 1146.3 1040.9 1156 1025.4 1155.7ZM1087 1146.3 1102.3 1146 1102.6 1155.7 1087.1 1156ZM1002.3 1154.9 1010 1155.2 1009.6 1164.9 1001.9 1164.6ZM1017.7 1155.4 1033.2 1155.9 1032.9 1165.6 1017.4 1165.2ZM1087.1 1156 1110.3 1155.4 1110.6 1165.2 1087.3 1165.7ZM986.4 1163.8 1017.4 1165.2 1017.1 1174.9 985.8 1173.5ZM1087.3 1165.7 1102.8 1165.4 1103.1 1175.1 1087.5 1175.4ZM1024.9 1175.1 1032.7 1175.3 1032.5 1185 1024.6 1184.8ZM1024.6 1184.8 1048.2 1185.3 1048.1 1195 1024.3 1194.5Z"/>
<path fill="#002bea" stroke="#002bea" stroke-width=".7" d="M1128.5 1057.5 1142.8 1056.7 1143.4 1066.4 1128.9 1067.2ZM1056.5 1127.1 1079.1 1127 1079.2 1136.7 1056.4 1136.8ZM1041.2 1136.6 1079.2 1136.7 1079.3 1146.4 1041 1146.3ZM1041 1146.3 1064 1146.5 1064 1156.2 1040.9 1156ZM1071.7 1146.5 1087 1146.3 1087.1 1156 1071.7 1156.2ZM1033.2 1155.9 1048.6 1156.1 1048.5 1165.8 1032.9 1165.6ZM1056.3 1156.2 1064 1156.2 1064 1165.9 1056.2 1165.9ZM1071.7 1156.2 1087.1 1156 1087.3 1165.7 1071.8 1165.9ZM1017.4 1165.2 1052.3 1165.9 1087.3 1165.7 1087.5 1175.4 1052.3 1175.6 1017.1 1174.9ZM1032.7 1175.3 1071.8 1175.6 1071.9 1185.3 1032.5 1185ZM1087.5 1175.4 1095.3 1175.3 1095.5 1185 1087.6 1185.1Z"/>
<path fill="#0000ff" stroke="#0000ff" stroke-width=".7" d="M1064 1146.5 1071.7 1146.5 1071.7 1156.2 1064 1156.2ZM1048.6 1156.1 1056.3 1156.2 1056.2 1165.9 1048.5 1165.8ZM1064 1156.2 1071.7 1156.2 1071.8 1165.9 1064 1165.9ZM1071.8 1175.6 1087.5 1175.4 1087.6 1185.1 1071.9 1185.3Z"/>
</g>
<path d="M1014.6 1038.8 1008.5 1194M1049.9 1039.6 1048.1 1195M1085.2 1039.5 1087.8 1194.9M1120.4 1038.5 1127.4 1193.7M970.9 1162.8 1001.9 1164.6 1032.9 1165.6 1064 1165.9 1095.1 1165.6 1126.1 1164.6 1157.1 1162.8M974.1 1114.4 1004.1 1116.1 1034 1117 1064 1117.4 1094 1117 1123.9 1116.1 1153.9 1114.4M977.4 1066 1006.3 1067.6 1035.1 1068.5 1064 1068.8 1092.9 1068.5 1121.7 1067.6 1150.6 1066" fill="none" stroke="#c8c8c8" stroke-opacity=".3" stroke-width=".6" stroke-dasharray="1 1"/>
<path d="M1097.9 1050.5 1094.3 1051.4 1090.1 1052.6 1086.7 1052.1 1083.2 1050.8 1079.8 1051.3 1077.1 1052.6 1072.8 1051.3 1070.3 1049.2 1066 1050.4 1063.1 1051 1057.9 1051.3 1052.8 1050.7 1049.3 1049.7 1044.1 1048.5 1040.7 1047.8 1038.2 1046.4 1034.7 1048.7 1030.3 1047.8 1026.1 1047.7 1021.8 1048.7 1018.3 1046.9 1015.8 1045 1013.2 1043.6 1009.8 1043.2 1007.2 1044.5 1004.5 1046.1 1003.3 1048.2 1004.6 1050.8 1001.1 1049.8 997.6 1050.8 994.3 1052 990.8 1054.1 988.6 1056.3 988.1 1058.8 990.3 1060.5 991.7 1062.4 994.2 1063.5 995.6 1064.9 992.5 1065.7 994.2 1067.7 996.3 1070 996.8 1071.6 994.3 1072.4 993.8 1075.1 993.4 1077.6 994.3 1081 994.7 1086.1 995.5 1092.9 995.6 1100.7 994.1 1102.9 992.8 1107.3 991.7 1112.3 989.4 1117.5 987.3 1122.6 984.7 1126.3 982.6 1128.6 982.2 1132.8 980.9 1137 980.5 1139.7 982.9 1140.4 986.4 1139.7 988.9 1137.1 989.8 1135 992.5 1132.8 989.9 1137.1 988.2 1140 986.4 1141.4 984.8 1143.1 985.1 1145.2 988.2 1144.8 990.7 1144.4 992.9 1146.4 990.7 1147.3 990.3 1150.8 989.8 1155 990.8 1160.1 989.4 1164.3 988.1 1168.5 986.8 1172.8 989 1171.9 992.8 1171.1 996.7 1171.9 1000.3 1172.8 1003.2 1174.1 1006.2 1172.9 1010 1170.9 1014 1170.3 1017.4 1170.8 1020.9 1172.5 1024.3 1175.5 1026.8 1178.4 1028.6 1177.1 1031.2 1174.1 1028.6 1177.1 1026.8 1178.4 1026 1181.3 1028.6 1183.9 1030.4 1187.3 1033.8 1190.7 1037.2 1193.2 1039.4 1194.6 1042 1192.4 1043.6 1189.5 1045.9 1186.4 1049.3 1185.3 1052.7 1185.1 1056.1 1183 1059.6 1180.9 1061.6 1180.3 1066.8 1180.1 1072 1180.9 1077.2 1180 1082.4 1180.6 1084.9 1180.9 1086.6 1178.4 1090 1177.9 1092.7 1180 1095.6 1177 1097.4 1173.7 1098.8 1170.4 1101.3 1167.4 1104.7 1164.4 1108.2 1163.1 1111.6 1163.6 1114.2 1161.7 1113.3 1159.2 1115 1154.9 1116.7 1150.8 1119.3 1147 1122.8 1144.3 1126.2 1142.6 1127.9 1140 1125.8 1137.9 1123.2 1136.7 1121.5 1132.9 1120.2 1127.7 1120.2 1124.4 1122 1120 1124.1 1115.9 1126.7 1111.5 1129.6 1107.2 1131.8 1103.6 1134 1102.3 1136.2 1101.1 1134.8 1100.4 1135.7 1097.8 1138.3 1094.7 1142.6 1092.5 1147 1091.3 1151.2 1090.1 1152.2 1089.6M1097.9 1050.5 1099.5 1053.4 1101.3 1053.9 1100.8 1057.6 1103.8 1058.1 1108.1 1059 1112.4 1061.5 1116.7 1061.5 1121.1 1063.3 1126.3 1062.9 1130.6 1063.2 1131.9 1060.3 1135.7 1061.6 1140.9 1062.3 1143.1 1064.1 1142.2 1066.7 1144.3 1067.5 1146.9 1065.8 1146.5 1064.1 1143.1 1064.1 1146.5 1064.1 1146.9 1065.8 1149.5 1066.6 1150.7 1068.5M1097.9 1050.5 1099.5 1047.6 1100.4 1044 1101.2 1039.2M993.4 1077.6 995.1 1076.7 999.4 1075 1002.9 1074.6 1003.7 1076.8 1004.5 1080.1 1007.2 1079.3 1011.4 1080.2 1014.9 1080.9 1018.3 1078.9 1022.7 1078.5 1026.9 1078.8 1026.9 1082.7 1028.6 1084.5 1032.1 1086.1 1030.4 1089.6 1026.9 1092 1023.5 1094.6 1020.9 1096.3 1022.6 1099.7 1022.6 1104.9 1021.8 1109.9 1019.2 1112.6 1019.2 1115.1 1021 1117.7 1020.1 1120.9 1018.4 1123.2 1014.9 1123.1 1011.5 1122.8 1011 1123.9 1013.1 1126.9 1014.9 1130.5 1016.7 1132.9 1019.6 1135.3 1016.6 1138.7 1014.4 1142.1 1013.6 1146.4 1015.8 1149.9 1019.1 1151.6 1017.8 1154.1 1014.3 1155.3 1012.2 1159.1 1010.2 1163.5 1010 1170.9M1128.9 1193.6 1133.1 1189.1 1138.3 1185.5 1143.5 1182.7 1150.3 1181 1158.3 1180.1M1143.1 1135.9 1144.8 1133.3 1147.7 1131.9 1149.5 1133.2 1148.1 1135.8 1146.1 1137.5 1143.5 1137 1143.1 1135.9M1145.6 1140 1149.1 1141" fill="none" stroke="#000" stroke-width="1.2" stroke-linejoin="round"/>
<path d="M1145.6 1140 1149.1 1141M1134 1102 1136.3 1101.3" fill="none" stroke="#000" stroke-width="1.9" stroke-linecap="round"/>
<path d="M979.4 1036.9 1007.6 1038.5 1035.8 1039.4 1064 1039.7 1092.2 1039.4 1120.4 1038.5 1148.6 1036.9 1159.1 1191.9 1127.4 1193.7 1095.7 1194.7 1064 1195.1 1032.3 1194.7 1000.6 1193.7 968.9 1191.9Z" fill="none" stroke="#2e2e2e" stroke-width="1.15"/>
<g opacity=".82">
<text x="974.1" y="1068.6" class="tk" text-anchor="end">42.5<tspan dy="-2.2" font-size="4.5">°</tspan><tspan dy="2.2"> N</tspan></text>
<text x="970.8" y="1117" class="tk" text-anchor="end">40.0<tspan dy="-2.2" font-size="4.5">°</tspan><tspan dy="2.2"> N</tspan></text>
<text x="967.6" y="1165.4" class="tk" text-anchor="end">37.5<tspan dy="-2.2" font-size="4.5">°</tspan><tspan dy="2.2"> N</tspan></text>
<text x="968.9" y="1207.9" class="tk" text-anchor="middle">10.0° W</text>
<text x="1048.1" y="1211" class="tk" text-anchor="middle">5.0° W</text>
<text x="1127.4" y="1209.7" class="tk" text-anchor="middle">0.0°</text>
</g>
<text x="1064" y="1031.7" class="ti" text-anchor="middle">1963</text></g>
<rect x="348.5" y="1262.3" width="59.9" height="22.3" fill="#fff"/>
<rect x="408.1" y="1262.3" width="59.9" height="22.3" fill="#00ff80"/>
<rect x="467.7" y="1262.3" width="59.9" height="22.3" fill="#00d595"/>
<rect x="527.3" y="1262.3" width="59.9" height="22.3" fill="#00aaaa"/>
<rect x="586.9" y="1262.3" width="59.9" height="22.3" fill="#0080bf"/>
<rect x="646.5" y="1262.3" width="59.9" height="22.3" fill="#0055d5"/>
<rect x="706.1" y="1262.3" width="59.9" height="22.3" fill="#002bea"/>
<rect x="765.7" y="1262.3" width="59.9" height="22.3" fill="#0000ff"/>
<rect x="825.3" y="1262.3" width="59.9" height="22.3" fill="#bf00bf"/>
<rect x="884.9" y="1262.3" width="59.9" height="22.3" fill="#800080"/>
<rect x="348.5" y="1262.3" width="596" height="22.3" fill="none" stroke="#262626" stroke-width="1.2"/>
<path d="M408.1 1284.6v-3M408.1 1262.3v3M467.7 1284.6v-3M467.7 1262.3v3M527.3 1284.6v-3M527.3 1262.3v3M586.9 1284.6v-3M586.9 1262.3v3M646.5 1284.6v-3M646.5 1262.3v3M706.1 1284.6v-3M706.1 1262.3v3M765.7 1284.6v-3M765.7 1262.3v3M825.3 1284.6v-3M825.3 1262.3v3M884.9 1284.6v-3M884.9 1262.3v3" stroke="#262626" stroke-width="1" fill="none"/>
<text x="408.1" y="1317.8" class="cb" text-anchor="middle">0.83</text>
<text x="527.3" y="1317.8" class="cb" text-anchor="middle">1.28</text>
<text x="646.5" y="1317.8" class="cb" text-anchor="middle">1.73</text>
<text x="765.7" y="1317.8" class="cb" text-anchor="middle">2.18</text>
<text x="884.9" y="1317.8" class="cb" text-anchor="middle">2.63</text>
</svg></body></html>
